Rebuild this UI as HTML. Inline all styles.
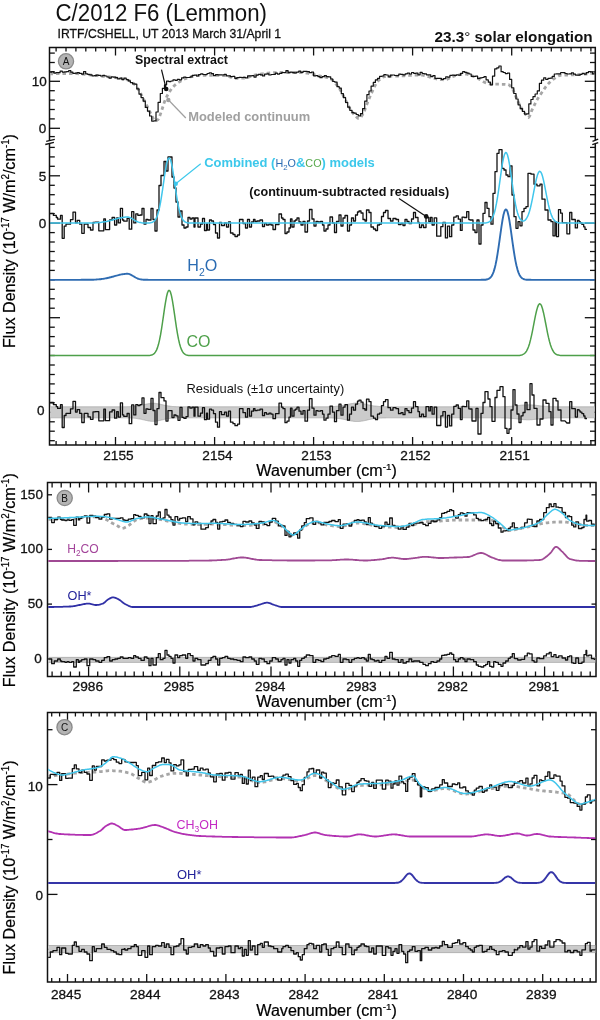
<!DOCTYPE html>
<html><head><meta charset="utf-8"><style>
html,body{margin:0;padding:0;background:#fff;width:600px;height:1020px;overflow:hidden}
svg{display:block;font-family:"Liberation Sans",sans-serif;will-change:transform}
</style></head><body>
<svg width="600" height="1020" viewBox="0 0 600 1020" font-family="Liberation Sans, sans-serif">
<rect width="600" height="1020" fill="#fff"/>
<text x="55.5" y="20.8" font-size="23.3" fill="#111" font-weight="normal" text-anchor="start" textLength="211.5" lengthAdjust="spacingAndGlyphs" >C/2012 F6 (Lemmon)</text>
<text x="57.6" y="37.9" font-size="13.5" fill="#111" font-weight="normal" text-anchor="start" textLength="223.5" lengthAdjust="spacingAndGlyphs"  stroke="#111" stroke-width="0.3">IRTF/CSHELL, UT 2013 March 31/April 1</text>
<text x="434.4" y="41.6" font-size="14.8" fill="#111" font-weight="bold" text-anchor="start" textLength="158.3" lengthAdjust="spacingAndGlyphs" >23.3<tspan font-weight="normal">°</tspan> solar elongation</text>
<rect x="49.5" y="47.5" width="545.8" height="397.5" fill="none" stroke="#111" stroke-width="1.5"/>
<line x1="590.9" y1="445" x2="590.9" y2="441" stroke="#111" stroke-width="1.3"/>
<line x1="590.9" y1="47.5" x2="590.9" y2="51.5" stroke="#111" stroke-width="1.3"/>
<line x1="581" y1="445" x2="581" y2="441" stroke="#111" stroke-width="1.3"/>
<line x1="581" y1="47.5" x2="581" y2="51.5" stroke="#111" stroke-width="1.3"/>
<line x1="571.1" y1="445" x2="571.1" y2="441" stroke="#111" stroke-width="1.3"/>
<line x1="571.1" y1="47.5" x2="571.1" y2="51.5" stroke="#111" stroke-width="1.3"/>
<line x1="561.2" y1="445" x2="561.2" y2="441" stroke="#111" stroke-width="1.3"/>
<line x1="561.2" y1="47.5" x2="561.2" y2="51.5" stroke="#111" stroke-width="1.3"/>
<line x1="551.3" y1="445" x2="551.3" y2="441" stroke="#111" stroke-width="1.3"/>
<line x1="551.3" y1="47.5" x2="551.3" y2="51.5" stroke="#111" stroke-width="1.3"/>
<line x1="541.4" y1="445" x2="541.4" y2="441" stroke="#111" stroke-width="1.3"/>
<line x1="541.4" y1="47.5" x2="541.4" y2="51.5" stroke="#111" stroke-width="1.3"/>
<line x1="531.5" y1="445" x2="531.5" y2="441" stroke="#111" stroke-width="1.3"/>
<line x1="531.5" y1="47.5" x2="531.5" y2="51.5" stroke="#111" stroke-width="1.3"/>
<line x1="521.6" y1="445" x2="521.6" y2="441" stroke="#111" stroke-width="1.3"/>
<line x1="521.6" y1="47.5" x2="521.6" y2="51.5" stroke="#111" stroke-width="1.3"/>
<line x1="511.7" y1="445" x2="511.7" y2="437" stroke="#111" stroke-width="1.3"/>
<line x1="511.7" y1="47.5" x2="511.7" y2="55.5" stroke="#111" stroke-width="1.3"/>
<line x1="501.8" y1="445" x2="501.8" y2="441" stroke="#111" stroke-width="1.3"/>
<line x1="501.8" y1="47.5" x2="501.8" y2="51.5" stroke="#111" stroke-width="1.3"/>
<line x1="491.9" y1="445" x2="491.9" y2="441" stroke="#111" stroke-width="1.3"/>
<line x1="491.9" y1="47.5" x2="491.9" y2="51.5" stroke="#111" stroke-width="1.3"/>
<line x1="482" y1="445" x2="482" y2="441" stroke="#111" stroke-width="1.3"/>
<line x1="482" y1="47.5" x2="482" y2="51.5" stroke="#111" stroke-width="1.3"/>
<line x1="472.1" y1="445" x2="472.1" y2="441" stroke="#111" stroke-width="1.3"/>
<line x1="472.1" y1="47.5" x2="472.1" y2="51.5" stroke="#111" stroke-width="1.3"/>
<line x1="462.2" y1="445" x2="462.2" y2="441" stroke="#111" stroke-width="1.3"/>
<line x1="462.2" y1="47.5" x2="462.2" y2="51.5" stroke="#111" stroke-width="1.3"/>
<line x1="452.3" y1="445" x2="452.3" y2="441" stroke="#111" stroke-width="1.3"/>
<line x1="452.3" y1="47.5" x2="452.3" y2="51.5" stroke="#111" stroke-width="1.3"/>
<line x1="442.4" y1="445" x2="442.4" y2="441" stroke="#111" stroke-width="1.3"/>
<line x1="442.4" y1="47.5" x2="442.4" y2="51.5" stroke="#111" stroke-width="1.3"/>
<line x1="432.5" y1="445" x2="432.5" y2="441" stroke="#111" stroke-width="1.3"/>
<line x1="432.5" y1="47.5" x2="432.5" y2="51.5" stroke="#111" stroke-width="1.3"/>
<line x1="422.6" y1="445" x2="422.6" y2="441" stroke="#111" stroke-width="1.3"/>
<line x1="422.6" y1="47.5" x2="422.6" y2="51.5" stroke="#111" stroke-width="1.3"/>
<line x1="412.6" y1="445" x2="412.6" y2="437" stroke="#111" stroke-width="1.3"/>
<line x1="412.6" y1="47.5" x2="412.6" y2="55.5" stroke="#111" stroke-width="1.3"/>
<line x1="402.7" y1="445" x2="402.7" y2="441" stroke="#111" stroke-width="1.3"/>
<line x1="402.7" y1="47.5" x2="402.7" y2="51.5" stroke="#111" stroke-width="1.3"/>
<line x1="392.8" y1="445" x2="392.8" y2="441" stroke="#111" stroke-width="1.3"/>
<line x1="392.8" y1="47.5" x2="392.8" y2="51.5" stroke="#111" stroke-width="1.3"/>
<line x1="382.9" y1="445" x2="382.9" y2="441" stroke="#111" stroke-width="1.3"/>
<line x1="382.9" y1="47.5" x2="382.9" y2="51.5" stroke="#111" stroke-width="1.3"/>
<line x1="373" y1="445" x2="373" y2="441" stroke="#111" stroke-width="1.3"/>
<line x1="373" y1="47.5" x2="373" y2="51.5" stroke="#111" stroke-width="1.3"/>
<line x1="363.1" y1="445" x2="363.1" y2="441" stroke="#111" stroke-width="1.3"/>
<line x1="363.1" y1="47.5" x2="363.1" y2="51.5" stroke="#111" stroke-width="1.3"/>
<line x1="353.2" y1="445" x2="353.2" y2="441" stroke="#111" stroke-width="1.3"/>
<line x1="353.2" y1="47.5" x2="353.2" y2="51.5" stroke="#111" stroke-width="1.3"/>
<line x1="343.3" y1="445" x2="343.3" y2="441" stroke="#111" stroke-width="1.3"/>
<line x1="343.3" y1="47.5" x2="343.3" y2="51.5" stroke="#111" stroke-width="1.3"/>
<line x1="333.4" y1="445" x2="333.4" y2="441" stroke="#111" stroke-width="1.3"/>
<line x1="333.4" y1="47.5" x2="333.4" y2="51.5" stroke="#111" stroke-width="1.3"/>
<line x1="323.5" y1="445" x2="323.5" y2="441" stroke="#111" stroke-width="1.3"/>
<line x1="323.5" y1="47.5" x2="323.5" y2="51.5" stroke="#111" stroke-width="1.3"/>
<line x1="313.6" y1="445" x2="313.6" y2="437" stroke="#111" stroke-width="1.3"/>
<line x1="313.6" y1="47.5" x2="313.6" y2="55.5" stroke="#111" stroke-width="1.3"/>
<line x1="303.7" y1="445" x2="303.7" y2="441" stroke="#111" stroke-width="1.3"/>
<line x1="303.7" y1="47.5" x2="303.7" y2="51.5" stroke="#111" stroke-width="1.3"/>
<line x1="293.8" y1="445" x2="293.8" y2="441" stroke="#111" stroke-width="1.3"/>
<line x1="293.8" y1="47.5" x2="293.8" y2="51.5" stroke="#111" stroke-width="1.3"/>
<line x1="283.9" y1="445" x2="283.9" y2="441" stroke="#111" stroke-width="1.3"/>
<line x1="283.9" y1="47.5" x2="283.9" y2="51.5" stroke="#111" stroke-width="1.3"/>
<line x1="274" y1="445" x2="274" y2="441" stroke="#111" stroke-width="1.3"/>
<line x1="274" y1="47.5" x2="274" y2="51.5" stroke="#111" stroke-width="1.3"/>
<line x1="264.1" y1="445" x2="264.1" y2="441" stroke="#111" stroke-width="1.3"/>
<line x1="264.1" y1="47.5" x2="264.1" y2="51.5" stroke="#111" stroke-width="1.3"/>
<line x1="254.2" y1="445" x2="254.2" y2="441" stroke="#111" stroke-width="1.3"/>
<line x1="254.2" y1="47.5" x2="254.2" y2="51.5" stroke="#111" stroke-width="1.3"/>
<line x1="244.3" y1="445" x2="244.3" y2="441" stroke="#111" stroke-width="1.3"/>
<line x1="244.3" y1="47.5" x2="244.3" y2="51.5" stroke="#111" stroke-width="1.3"/>
<line x1="234.4" y1="445" x2="234.4" y2="441" stroke="#111" stroke-width="1.3"/>
<line x1="234.4" y1="47.5" x2="234.4" y2="51.5" stroke="#111" stroke-width="1.3"/>
<line x1="224.5" y1="445" x2="224.5" y2="441" stroke="#111" stroke-width="1.3"/>
<line x1="224.5" y1="47.5" x2="224.5" y2="51.5" stroke="#111" stroke-width="1.3"/>
<line x1="214.6" y1="445" x2="214.6" y2="437" stroke="#111" stroke-width="1.3"/>
<line x1="214.6" y1="47.5" x2="214.6" y2="55.5" stroke="#111" stroke-width="1.3"/>
<line x1="204.6" y1="445" x2="204.6" y2="441" stroke="#111" stroke-width="1.3"/>
<line x1="204.6" y1="47.5" x2="204.6" y2="51.5" stroke="#111" stroke-width="1.3"/>
<line x1="194.7" y1="445" x2="194.7" y2="441" stroke="#111" stroke-width="1.3"/>
<line x1="194.7" y1="47.5" x2="194.7" y2="51.5" stroke="#111" stroke-width="1.3"/>
<line x1="184.8" y1="445" x2="184.8" y2="441" stroke="#111" stroke-width="1.3"/>
<line x1="184.8" y1="47.5" x2="184.8" y2="51.5" stroke="#111" stroke-width="1.3"/>
<line x1="174.9" y1="445" x2="174.9" y2="441" stroke="#111" stroke-width="1.3"/>
<line x1="174.9" y1="47.5" x2="174.9" y2="51.5" stroke="#111" stroke-width="1.3"/>
<line x1="165" y1="445" x2="165" y2="441" stroke="#111" stroke-width="1.3"/>
<line x1="165" y1="47.5" x2="165" y2="51.5" stroke="#111" stroke-width="1.3"/>
<line x1="155.1" y1="445" x2="155.1" y2="441" stroke="#111" stroke-width="1.3"/>
<line x1="155.1" y1="47.5" x2="155.1" y2="51.5" stroke="#111" stroke-width="1.3"/>
<line x1="145.2" y1="445" x2="145.2" y2="441" stroke="#111" stroke-width="1.3"/>
<line x1="145.2" y1="47.5" x2="145.2" y2="51.5" stroke="#111" stroke-width="1.3"/>
<line x1="135.3" y1="445" x2="135.3" y2="441" stroke="#111" stroke-width="1.3"/>
<line x1="135.3" y1="47.5" x2="135.3" y2="51.5" stroke="#111" stroke-width="1.3"/>
<line x1="125.4" y1="445" x2="125.4" y2="441" stroke="#111" stroke-width="1.3"/>
<line x1="125.4" y1="47.5" x2="125.4" y2="51.5" stroke="#111" stroke-width="1.3"/>
<line x1="115.5" y1="445" x2="115.5" y2="437" stroke="#111" stroke-width="1.3"/>
<line x1="115.5" y1="47.5" x2="115.5" y2="55.5" stroke="#111" stroke-width="1.3"/>
<line x1="105.6" y1="445" x2="105.6" y2="441" stroke="#111" stroke-width="1.3"/>
<line x1="105.6" y1="47.5" x2="105.6" y2="51.5" stroke="#111" stroke-width="1.3"/>
<line x1="95.7" y1="445" x2="95.7" y2="441" stroke="#111" stroke-width="1.3"/>
<line x1="95.7" y1="47.5" x2="95.7" y2="51.5" stroke="#111" stroke-width="1.3"/>
<line x1="85.8" y1="445" x2="85.8" y2="441" stroke="#111" stroke-width="1.3"/>
<line x1="85.8" y1="47.5" x2="85.8" y2="51.5" stroke="#111" stroke-width="1.3"/>
<line x1="75.9" y1="445" x2="75.9" y2="441" stroke="#111" stroke-width="1.3"/>
<line x1="75.9" y1="47.5" x2="75.9" y2="51.5" stroke="#111" stroke-width="1.3"/>
<line x1="66" y1="445" x2="66" y2="441" stroke="#111" stroke-width="1.3"/>
<line x1="66" y1="47.5" x2="66" y2="51.5" stroke="#111" stroke-width="1.3"/>
<line x1="56.1" y1="445" x2="56.1" y2="441" stroke="#111" stroke-width="1.3"/>
<line x1="56.1" y1="47.5" x2="56.1" y2="51.5" stroke="#111" stroke-width="1.3"/>
<text x="118.4" y="460.1" font-size="13.5" fill="#111" font-weight="normal" text-anchor="middle" textLength="30.4" lengthAdjust="spacingAndGlyphs"  stroke="#111" stroke-width="0.3">2155</text>
<text x="217.5" y="460.1" font-size="13.5" fill="#111" font-weight="normal" text-anchor="middle" textLength="30.4" lengthAdjust="spacingAndGlyphs"  stroke="#111" stroke-width="0.3">2154</text>
<text x="316.5" y="460.1" font-size="13.5" fill="#111" font-weight="normal" text-anchor="middle" textLength="30.4" lengthAdjust="spacingAndGlyphs"  stroke="#111" stroke-width="0.3">2153</text>
<text x="415.5" y="460.1" font-size="13.5" fill="#111" font-weight="normal" text-anchor="middle" textLength="30.4" lengthAdjust="spacingAndGlyphs"  stroke="#111" stroke-width="0.3">2152</text>
<text x="514.6" y="460.1" font-size="13.5" fill="#111" font-weight="normal" text-anchor="middle" textLength="30.4" lengthAdjust="spacingAndGlyphs"  stroke="#111" stroke-width="0.3">2151</text>
<text x="256.3" y="475.8" font-size="15.6" fill="#000" stroke="#000" stroke-width="0.2" textLength="140.5" lengthAdjust="spacingAndGlyphs">Wavenumber (cm<tspan dy="-6" font-size="9.5">-1</tspan><tspan dy="6">)</tspan></text>
<text transform="translate(15,348) rotate(-90)" font-size="16.5" fill="#000" stroke="#000" stroke-width="0.2" textLength="214" lengthAdjust="spacingAndGlyphs">Flux Density (10<tspan dy="-6" font-size="10">-17</tspan><tspan dy="6"> W/m</tspan><tspan dy="-6" font-size="10">2</tspan><tspan dy="6">/cm</tspan><tspan dy="-6" font-size="10">-1</tspan><tspan dy="6">)</tspan></text>
<line x1="49.5" y1="136.6" x2="54.8" y2="136.6" stroke="#111" stroke-width="1.3"/>
<line x1="595.3" y1="136.6" x2="590" y2="136.6" stroke="#111" stroke-width="1.3"/>
<line x1="49.5" y1="128.3" x2="60" y2="128.3" stroke="#111" stroke-width="1.3"/>
<line x1="595.3" y1="128.3" x2="584.8" y2="128.3" stroke="#111" stroke-width="1.3"/>
<line x1="49.5" y1="118.9" x2="54.8" y2="118.9" stroke="#111" stroke-width="1.3"/>
<line x1="595.3" y1="118.9" x2="590" y2="118.9" stroke="#111" stroke-width="1.3"/>
<line x1="49.5" y1="109.5" x2="54.8" y2="109.5" stroke="#111" stroke-width="1.3"/>
<line x1="595.3" y1="109.5" x2="590" y2="109.5" stroke="#111" stroke-width="1.3"/>
<line x1="49.5" y1="100.1" x2="54.8" y2="100.1" stroke="#111" stroke-width="1.3"/>
<line x1="595.3" y1="100.1" x2="590" y2="100.1" stroke="#111" stroke-width="1.3"/>
<line x1="49.5" y1="90.7" x2="54.8" y2="90.7" stroke="#111" stroke-width="1.3"/>
<line x1="595.3" y1="90.7" x2="590" y2="90.7" stroke="#111" stroke-width="1.3"/>
<line x1="49.5" y1="81.3" x2="60" y2="81.3" stroke="#111" stroke-width="1.3"/>
<line x1="595.3" y1="81.3" x2="584.8" y2="81.3" stroke="#111" stroke-width="1.3"/>
<line x1="49.5" y1="71.9" x2="54.8" y2="71.9" stroke="#111" stroke-width="1.3"/>
<line x1="595.3" y1="71.9" x2="590" y2="71.9" stroke="#111" stroke-width="1.3"/>
<line x1="49.5" y1="62.5" x2="54.8" y2="62.5" stroke="#111" stroke-width="1.3"/>
<line x1="595.3" y1="62.5" x2="590" y2="62.5" stroke="#111" stroke-width="1.3"/>
<line x1="49.5" y1="53.1" x2="54.8" y2="53.1" stroke="#111" stroke-width="1.3"/>
<line x1="595.3" y1="53.1" x2="590" y2="53.1" stroke="#111" stroke-width="1.3"/>
<line x1="49.5" y1="440.7" x2="54.8" y2="440.7" stroke="#111" stroke-width="1.3"/>
<line x1="595.3" y1="440.7" x2="590" y2="440.7" stroke="#111" stroke-width="1.3"/>
<line x1="49.5" y1="431.2" x2="54.8" y2="431.2" stroke="#111" stroke-width="1.3"/>
<line x1="595.3" y1="431.2" x2="590" y2="431.2" stroke="#111" stroke-width="1.3"/>
<line x1="49.5" y1="421.8" x2="54.8" y2="421.8" stroke="#111" stroke-width="1.3"/>
<line x1="595.3" y1="421.8" x2="590" y2="421.8" stroke="#111" stroke-width="1.3"/>
<line x1="49.5" y1="412.3" x2="60" y2="412.3" stroke="#111" stroke-width="1.3"/>
<line x1="595.3" y1="412.3" x2="584.8" y2="412.3" stroke="#111" stroke-width="1.3"/>
<line x1="49.5" y1="402.8" x2="54.8" y2="402.8" stroke="#111" stroke-width="1.3"/>
<line x1="595.3" y1="402.8" x2="590" y2="402.8" stroke="#111" stroke-width="1.3"/>
<line x1="49.5" y1="393.4" x2="54.8" y2="393.4" stroke="#111" stroke-width="1.3"/>
<line x1="595.3" y1="393.4" x2="590" y2="393.4" stroke="#111" stroke-width="1.3"/>
<line x1="49.5" y1="383.9" x2="54.8" y2="383.9" stroke="#111" stroke-width="1.3"/>
<line x1="595.3" y1="383.9" x2="590" y2="383.9" stroke="#111" stroke-width="1.3"/>
<line x1="49.5" y1="374.5" x2="54.8" y2="374.5" stroke="#111" stroke-width="1.3"/>
<line x1="595.3" y1="374.5" x2="590" y2="374.5" stroke="#111" stroke-width="1.3"/>
<line x1="49.5" y1="365" x2="54.8" y2="365" stroke="#111" stroke-width="1.3"/>
<line x1="595.3" y1="365" x2="590" y2="365" stroke="#111" stroke-width="1.3"/>
<line x1="49.5" y1="355.5" x2="54.8" y2="355.5" stroke="#111" stroke-width="1.3"/>
<line x1="595.3" y1="355.5" x2="590" y2="355.5" stroke="#111" stroke-width="1.3"/>
<line x1="49.5" y1="346.1" x2="54.8" y2="346.1" stroke="#111" stroke-width="1.3"/>
<line x1="595.3" y1="346.1" x2="590" y2="346.1" stroke="#111" stroke-width="1.3"/>
<line x1="49.5" y1="336.6" x2="54.8" y2="336.6" stroke="#111" stroke-width="1.3"/>
<line x1="595.3" y1="336.6" x2="590" y2="336.6" stroke="#111" stroke-width="1.3"/>
<line x1="49.5" y1="327.2" x2="54.8" y2="327.2" stroke="#111" stroke-width="1.3"/>
<line x1="595.3" y1="327.2" x2="590" y2="327.2" stroke="#111" stroke-width="1.3"/>
<line x1="49.5" y1="317.7" x2="60" y2="317.7" stroke="#111" stroke-width="1.3"/>
<line x1="595.3" y1="317.7" x2="584.8" y2="317.7" stroke="#111" stroke-width="1.3"/>
<line x1="49.5" y1="308.2" x2="54.8" y2="308.2" stroke="#111" stroke-width="1.3"/>
<line x1="595.3" y1="308.2" x2="590" y2="308.2" stroke="#111" stroke-width="1.3"/>
<line x1="49.5" y1="298.8" x2="54.8" y2="298.8" stroke="#111" stroke-width="1.3"/>
<line x1="595.3" y1="298.8" x2="590" y2="298.8" stroke="#111" stroke-width="1.3"/>
<line x1="49.5" y1="289.3" x2="54.8" y2="289.3" stroke="#111" stroke-width="1.3"/>
<line x1="595.3" y1="289.3" x2="590" y2="289.3" stroke="#111" stroke-width="1.3"/>
<line x1="49.5" y1="279.9" x2="54.8" y2="279.9" stroke="#111" stroke-width="1.3"/>
<line x1="595.3" y1="279.9" x2="590" y2="279.9" stroke="#111" stroke-width="1.3"/>
<line x1="49.5" y1="270.4" x2="54.8" y2="270.4" stroke="#111" stroke-width="1.3"/>
<line x1="595.3" y1="270.4" x2="590" y2="270.4" stroke="#111" stroke-width="1.3"/>
<line x1="49.5" y1="260.9" x2="54.8" y2="260.9" stroke="#111" stroke-width="1.3"/>
<line x1="595.3" y1="260.9" x2="590" y2="260.9" stroke="#111" stroke-width="1.3"/>
<line x1="49.5" y1="251.5" x2="54.8" y2="251.5" stroke="#111" stroke-width="1.3"/>
<line x1="595.3" y1="251.5" x2="590" y2="251.5" stroke="#111" stroke-width="1.3"/>
<line x1="49.5" y1="242" x2="54.8" y2="242" stroke="#111" stroke-width="1.3"/>
<line x1="595.3" y1="242" x2="590" y2="242" stroke="#111" stroke-width="1.3"/>
<line x1="49.5" y1="232.6" x2="54.8" y2="232.6" stroke="#111" stroke-width="1.3"/>
<line x1="595.3" y1="232.6" x2="590" y2="232.6" stroke="#111" stroke-width="1.3"/>
<line x1="49.5" y1="223.1" x2="60" y2="223.1" stroke="#111" stroke-width="1.3"/>
<line x1="595.3" y1="223.1" x2="584.8" y2="223.1" stroke="#111" stroke-width="1.3"/>
<line x1="49.5" y1="213.6" x2="54.8" y2="213.6" stroke="#111" stroke-width="1.3"/>
<line x1="595.3" y1="213.6" x2="590" y2="213.6" stroke="#111" stroke-width="1.3"/>
<line x1="49.5" y1="204.2" x2="54.8" y2="204.2" stroke="#111" stroke-width="1.3"/>
<line x1="595.3" y1="204.2" x2="590" y2="204.2" stroke="#111" stroke-width="1.3"/>
<line x1="49.5" y1="194.7" x2="54.8" y2="194.7" stroke="#111" stroke-width="1.3"/>
<line x1="595.3" y1="194.7" x2="590" y2="194.7" stroke="#111" stroke-width="1.3"/>
<line x1="49.5" y1="185.3" x2="54.8" y2="185.3" stroke="#111" stroke-width="1.3"/>
<line x1="595.3" y1="185.3" x2="590" y2="185.3" stroke="#111" stroke-width="1.3"/>
<line x1="49.5" y1="175.8" x2="60" y2="175.8" stroke="#111" stroke-width="1.3"/>
<line x1="595.3" y1="175.8" x2="584.8" y2="175.8" stroke="#111" stroke-width="1.3"/>
<line x1="49.5" y1="166.3" x2="54.8" y2="166.3" stroke="#111" stroke-width="1.3"/>
<line x1="595.3" y1="166.3" x2="590" y2="166.3" stroke="#111" stroke-width="1.3"/>
<line x1="49.5" y1="156.9" x2="54.8" y2="156.9" stroke="#111" stroke-width="1.3"/>
<line x1="595.3" y1="156.9" x2="590" y2="156.9" stroke="#111" stroke-width="1.3"/>
<line x1="49.5" y1="147.4" x2="54.8" y2="147.4" stroke="#111" stroke-width="1.3"/>
<line x1="595.3" y1="147.4" x2="590" y2="147.4" stroke="#111" stroke-width="1.3"/>
<text x="46.8" y="86" font-size="13.5" fill="#111" font-weight="normal" text-anchor="end"  stroke="#111" stroke-width="0.3">10</text>
<text x="46.3" y="133" font-size="13.5" fill="#111" font-weight="normal" text-anchor="end"  stroke="#111" stroke-width="0.3">0</text>
<text x="46.2" y="180.5" font-size="13.5" fill="#111" font-weight="normal" text-anchor="end"  stroke="#111" stroke-width="0.3">5</text>
<text x="46.2" y="227.8" font-size="13.5" fill="#111" font-weight="normal" text-anchor="end"  stroke="#111" stroke-width="0.3">0</text>
<text x="44.6" y="415.3" font-size="13.5" fill="#111" font-weight="normal" text-anchor="end"  stroke="#111" stroke-width="0.3">0</text>
<polygon points="46.2,141.3 54.8,139.3 53.9,142.4 45.3,144.5" fill="#fff"/>
<line x1="46.2" y1="141.3" x2="54.8" y2="139.3" stroke="#111" stroke-width="1.3"/>
<line x1="45.3" y1="144.5" x2="53.9" y2="142.4" stroke="#111" stroke-width="1.3"/>
<polygon points="592.5,141.3 598.2,139.2 598.2,142.6 592.3,144.7" fill="#fff"/>
<line x1="592.5" y1="141.3" x2="598.2" y2="139.2" stroke="#111" stroke-width="1.3"/>
<line x1="592.3" y1="144.7" x2="598.2" y2="142.6" stroke="#111" stroke-width="1.3"/>
<circle cx="66" cy="61.3" r="7.6" fill="#b4b4b4" stroke="#8a8a8a" stroke-width="1.3"/>
<text x="66" y="64.9" font-size="10" fill="#111" font-weight="normal" text-anchor="middle" >A</text>
<g clip-path="url(#clipA)">
<polyline points="49.5,74 50.5,73.9 51.5,73.9 52.5,73.8 53.5,73.8 54.5,73.7 55.5,73.7 56.5,73.7 57.5,73.6 58.5,73.6 59.5,73.6 60.5,73.6 61.5,73.5 62.5,73.5 63.5,73.5 64.5,73.5 65.5,73.5 66.5,73.5 67.5,73.5 68.5,73.5 69.5,73.5 70.5,73.5 71.5,73.5 72.5,73.5 73.5,73.6 74.5,73.6 75.5,73.6 76.5,73.7 77.5,73.7 78.5,73.8 79.5,73.9 80.5,74 81.5,74 82.5,74.1 83.5,74.2 84.5,74.3 85.5,74.4 86.5,74.5 87.5,74.6 88.5,74.7 89.5,74.8 90.5,75 91.5,75.1 92.5,75.2 93.5,75.3 94.5,75.4 95.5,75.5 96.5,75.6 97.5,75.7 98.5,75.8 99.5,75.9 100.5,76.1 101.5,76.2 102.5,76.3 103.5,76.4 104.5,76.4 105.5,76.5 106.5,76.6 107.5,76.7 108.5,76.9 109.5,77 110.5,77.1 111.5,77.2 112.5,77.3 113.5,77.4 114.5,77.5 115.5,77.7 116.5,77.8 117.5,78 118.5,78.1 119.5,78.3 120.5,78.4 121.5,78.6 122.5,78.8 123.5,79 124.5,79.2 125.5,79.4 126.5,79.7 127.5,80 128.5,80.3 129.5,80.7 130.5,81.2 131.5,81.7 132.5,82.3 133.5,83.2 134.5,84.3 135.5,85.5 136.5,86.9 137.5,88.3 138.5,89.7 139.5,91.4 140.5,93.2 141.5,95.1 142.5,97 143.5,99 144.5,100.9 145.5,102.9 146.5,105 147.5,107 148.5,109 149.5,111.1 150.5,113.1 151.5,115.1 152.5,117 153.5,119.2 154.5,120.8 155.5,120.9 156.5,120.6 157.5,119.9 158.5,118.9 159.5,116.7 160.5,113.9 161.5,111.1 162.5,108 163.5,104.8 164.5,101.8 165.5,99.4 166.5,97.2 167.5,95.2 168.5,93.4 169.5,91.8 170.5,90.3 171.5,88.9 172.5,87.6 173.5,86.5 174.5,85.5 175.5,84.6 176.5,83.8 177.5,83 178.5,82.4 179.5,81.8 180.5,81.2 181.5,80.7 182.5,80.1 183.5,79.6 184.5,79.1 185.5,78.6 186.5,78.2 187.5,77.8 188.5,77.4 189.5,77.1 190.5,76.9 191.5,76.6 192.5,76.4 193.5,76.2 194.5,75.9 195.5,75.7 196.5,75.6 197.5,75.4 198.5,75.4 199.5,75.3 200.5,75.3 201.5,75.3 202.5,75.3 203.5,75.3 204.5,75.3 205.5,75.3 206.5,75.3 207.5,75.3 208.5,75.3 209.5,75.3 210.5,75.3 211.5,75.3 212.5,75.3 213.5,75.4 214.5,75.4 215.5,75.4 216.5,75.4 217.5,75.4 218.5,75.4 219.5,75.4 220.5,75.4 221.5,75.4 222.5,75.5 223.5,75.5 224.5,75.5 225.5,75.5 226.5,75.7 227.5,76 228.5,76.3 229.5,76.7 230.5,77.1 231.5,77.5 232.5,77.9 233.5,78.1 234.5,78.3 235.5,78.3 236.5,78.3 237.5,78.3 238.5,78.3 239.5,78.2 240.5,78.2 241.5,78.2 242.5,78.1 243.5,78.1 244.5,78 245.5,78 246.5,77.8 247.5,77.5 248.5,77.2 249.5,76.8 250.5,76.4 251.5,76 252.5,75.7 253.5,75.3 254.5,75.1 255.5,74.9 256.5,74.8 257.5,74.6 258.5,74.4 259.5,74.3 260.5,74.1 261.5,74 262.5,73.9 263.5,73.7 264.5,73.6 265.5,73.5 266.5,73.4 267.5,73.2 268.5,73.1 269.5,73 270.5,72.9 271.5,72.9 272.5,72.8 273.5,72.7 274.5,72.7 275.5,72.6 276.5,72.6 277.5,72.5 278.5,72.5 279.5,72.5 280.5,72.5 281.5,72.5 282.5,72.5 283.5,72.5 284.5,72.5 285.5,72.5 286.5,72.5 287.5,72.5 288.5,72.5 289.5,72.5 290.5,72.5 291.5,72.5 292.5,72.5 293.5,72.5 294.5,72.5 295.5,72.5 296.5,72.5 297.5,72.5 298.5,72.5 299.5,72.5 300.5,72.5 301.5,72.5 302.5,72.6 303.5,72.7 304.5,72.8 305.5,72.9 306.5,73.1 307.5,73.2 308.5,73.4 309.5,73.6 310.5,73.8 311.5,74.1 312.5,74.3 313.5,74.5 314.5,74.7 315.5,75 316.5,75.2 317.5,75.4 318.5,75.7 319.5,75.9 320.5,76.1 321.5,76.3 322.5,76.5 323.5,76.7 324.5,76.9 325.5,77.1 326.5,77.3 327.5,77.6 328.5,77.9 329.5,78.3 330.5,78.7 331.5,79.4 332.5,80.3 333.5,81.4 334.5,82.5 335.5,83.5 336.5,84.7 337.5,85.9 338.5,87.3 339.5,88.7 340.5,90.3 341.5,92.1 342.5,94 343.5,96 344.5,98 345.5,100 346.5,101.9 347.5,103.9 348.5,105.9 349.5,107.7 350.5,109.3 351.5,110.9 352.5,112.4 353.5,113.8 354.5,115 355.5,116 356.5,117 357.5,117.9 358.5,118.4 359.5,118.4 360.5,117.6 361.5,116.3 362.5,114.8 363.5,113.1 364.5,110.8 365.5,108.1 366.5,105.3 367.5,102.8 368.5,100.3 369.5,97.8 370.5,95.4 371.5,93.1 372.5,90.9 373.5,88.8 374.5,86.7 375.5,84.7 376.5,82.9 377.5,81.5 378.5,80.5 379.5,79.6 380.5,78.7 381.5,78 382.5,77.3 383.5,76.9 384.5,76.6 385.5,76.5 386.5,76.4 387.5,76.4 388.5,76.3 389.5,76.3 390.5,76.2 391.5,76.2 392.5,76.2 393.5,76.2 394.5,76.1 395.5,76.1 396.5,76.1 397.5,76.1 398.5,76.1 399.5,76 400.5,76 401.5,75.9 402.5,75.9 403.5,75.8 404.5,75.8 405.5,75.7 406.5,75.6 407.5,75.6 408.5,75.5 409.5,75.4 410.5,75.4 411.5,75.3 412.5,75.2 413.5,75.2 414.5,75.1 415.5,75.1 416.5,75.1 417.5,75 418.5,75 419.5,75 420.5,75 421.5,75.1 422.5,75.2 423.5,75.4 424.5,75.6 425.5,75.8 426.5,76.1 427.5,76.4 428.5,76.7 429.5,77 430.5,77.4 431.5,77.7 432.5,78 433.5,78.3 434.5,78.5 435.5,78.7 436.5,78.9 437.5,79.1 438.5,79.2 439.5,79.3 440.5,79.5 441.5,79.6 442.5,79.7 443.5,79.8 444.5,79.8 445.5,79.8 446.5,79.5 447.5,79.1 448.5,78.6 449.5,78 450.5,77.4 451.5,77 452.5,76.7 453.5,76.3 454.5,76 455.5,75.7 456.5,75.5 457.5,75.2 458.5,74.9 459.5,74.7 460.5,74.5 461.5,74.3 462.5,74.2 463.5,74.1 464.5,74 465.5,74 466.5,74.1 467.5,74.3 468.5,74.6 469.5,74.9 470.5,75.2 471.5,75.6 472.5,76 473.5,76.4 474.5,76.8 475.5,77.2 476.5,77.6 477.5,78.1 478.5,78.7 479.5,79.3 480.5,79.9 481.5,80.5 482.5,81.1 483.5,81.7 484.5,82.2 485.5,82.7 486.5,83.1 487.5,83.5 488.5,83.8 489.5,84 490.5,84 491.5,84.1 492.5,84.1 493.5,84.1 494.5,84.2 495.5,84.2 496.5,84.2 497.5,84.2 498.5,84.2 499.5,84.2 500.5,84.2 501.5,84.3 502.5,84.3 503.5,84.3 504.5,84.3 505.5,84.4 506.5,84.4 507.5,84.5 508.5,84.6 509.5,85.2 510.5,86.2 511.5,87.4 512.5,88.8 513.5,91 514.5,93.5 515.5,95.8 516.5,98.1 517.5,100.3 518.5,102.5 519.5,104.6 520.5,106.4 521.5,108.2 522.5,109.8 523.5,111.4 524.5,112.8 525.5,114.2 526.5,115.7 527.5,117 528.5,117.5 529.5,116.4 530.5,114 531.5,111.2 532.5,109 533.5,106.9 534.5,104.8 535.5,102.8 536.5,100.9 537.5,99.1 538.5,97.5 539.5,96 540.5,94.5 541.5,93 542.5,91.6 543.5,90.1 544.5,88.6 545.5,87.2 546.5,85.9 547.5,84.7 548.5,83.6 549.5,82.6 550.5,81.6 551.5,80.7 552.5,79.9 553.5,79.1 554.5,78.4 555.5,77.6 556.5,77 557.5,76.4 558.5,75.9 559.5,75.6 560.5,75.4 561.5,75.4 562.5,75.3 563.5,75.2 564.5,75.1 565.5,75.1 566.5,75 567.5,75 568.5,75 569.5,74.9 570.5,74.9 571.5,74.9 572.5,74.8 573.5,74.8 574.5,74.8 575.5,74.7 576.5,74.7 577.5,74.6 578.5,74.6 579.5,74.5 580.5,74.5 581.5,74.4 582.5,74.3 583.5,74.2 584.5,74.1 585.5,74 586.5,74 587.5,73.9 588.5,73.7 589.5,73.6 590.5,73.5 591.5,73.4 592.5,73.3 593.5,73.2 594.5,73.1 595.5,72.9" fill="none" stroke="#a6a6a6" stroke-width="2.8" stroke-linejoin="round" stroke-dasharray="3.5,3"/>
<polyline points="49.5,72.2 51.6,72.2 51.6,71.6 53.8,71.6 53.8,73.1 55.9,73.1 55.9,72.5 58,72.5 58,72.7 60.1,72.7 60.1,71.2 62.3,71.2 62.3,72.1 64.4,72.1 64.4,71.9 66.5,71.9 66.5,71.7 68.7,71.7 68.7,70.6 70.8,70.6 70.8,72.2 72.9,72.2 72.9,73.4 75.1,73.4 75.1,73.2 77.2,73.2 77.2,72.6 79.3,72.6 79.3,73.3 81.5,73.3 81.5,74.1 83.6,74.1 83.6,71.6 85.7,71.6 85.7,73.8 87.8,73.8 87.8,74.5 90,74.5 90,74.8 92.1,74.8 92.1,75.8 94.2,75.8 94.2,75.6 96.4,75.6 96.4,75.2 98.5,75.2 98.5,75.4 100.6,75.4 100.6,76 102.8,76 102.8,75.3 104.9,75.3 104.9,76 107,76 107,77 109.1,77 109.1,78.1 111.3,78.1 111.3,76.8 113.4,76.8 113.4,77.2 115.5,77.2 115.5,77.7 117.7,77.7 117.7,78.9 119.8,78.9 119.8,78.1 121.9,78.1 121.9,79.6 124,79.6 124,78.1 126.2,78.1 126.2,79.7 128.3,79.7 128.3,80.8 130.4,80.8 130.4,82.6 132.6,82.6 132.6,83.9 134.7,83.9 134.7,84.1 136.8,84.1 136.8,88.9 139,88.9 139,94.1 141.1,94.1 141.1,97.6 143.2,97.6 143.2,101.2 145.3,101.2 145.3,107.4 147.5,107.4 147.5,111.2 149.6,111.2 149.6,116 151.7,116 151.7,121.1 153.9,121.1 153.9,120.8 156,120.8 156,112 158.1,112 158.1,102.3 160.3,102.3 160.3,93.5 162.4,93.5 162.4,88.4 164.5,88.4 164.5,84.8 166.6,84.8 166.6,81.1 168.8,81.1 168.8,81.6 170.9,81.6 170.9,81 173,81 173,79.9 175.2,79.9 175.2,80.3 177.3,80.3 177.3,79.4 179.4,79.4 179.4,79.8 181.6,79.8 181.6,77.8 183.7,77.8 183.7,77.1 185.8,77.1 185.8,77.5 187.9,77.5 187.9,77.5 190.1,77.5 190.1,76.9 192.2,76.9 192.2,75.3 194.3,75.3 194.3,75.2 196.5,75.2 196.5,76 198.6,76 198.6,74.6 200.7,74.6 200.7,73.8 202.9,73.8 202.9,74.5 205,74.5 205,74.6 207.1,74.6 207.1,73.5 209.2,73.5 209.2,72.8 211.4,72.8 211.4,73.6 213.5,73.6 213.5,75.7 215.6,75.7 215.6,74.6 217.8,74.6 217.8,74.8 219.9,74.8 219.9,74.9 222,74.9 222,75 224.2,75 224.2,74.3 226.3,74.3 226.3,75.9 228.4,75.9 228.4,75.8 230.5,75.8 230.5,76.6 232.7,76.6 232.7,76.4 234.8,76.4 234.8,78.3 236.9,78.3 236.9,77.7 239.1,77.7 239.1,77.4 241.2,77.4 241.2,77.5 243.3,77.5 243.3,77.4 245.5,77.4 245.5,77.9 247.6,77.9 247.6,75.9 249.7,75.9 249.7,75.9 251.8,75.9 251.8,75.7 254,75.7 254,77.1 256.1,77.1 256.1,75.2 258.2,75.2 258.2,74.4 260.4,74.4 260.4,74.9 262.5,74.9 262.5,75.9 264.6,75.9 264.6,74.1 266.8,74.1 266.8,73.9 268.9,73.9 268.9,75 271,75 271,74.5 273.1,74.5 273.1,74.5 275.3,74.5 275.3,73.1 277.4,73.1 277.4,74.1 279.5,74.1 279.5,73.3 281.7,73.3 281.7,72.5 283.8,72.5 283.8,72.6 285.9,72.6 285.9,70.7 288.1,70.7 288.1,72.7 290.2,72.7 290.2,72.1 292.3,72.1 292.3,72.7 294.4,72.7 294.4,72.9 296.6,72.9 296.6,72.2 298.7,72.2 298.7,71.2 300.8,71.2 300.8,72.5 303,72.5 303,71.4 305.1,71.4 305.1,71.4 307.2,71.4 307.2,71.6 309.4,71.6 309.4,72.7 311.5,72.7 311.5,72.2 313.6,72.2 313.6,75.8 315.8,75.8 315.8,75.6 317.9,75.6 317.9,76.6 320,76.6 320,77.7 322.1,77.7 322.1,76.7 324.3,76.7 324.3,75.7 326.4,75.7 326.4,76.7 328.5,76.7 328.5,76.8 330.7,76.8 330.7,79 332.8,79 332.8,81.5 334.9,81.5 334.9,82.2 337.1,82.2 337.1,86.7 339.2,86.7 339.2,88.1 341.3,88.1 341.3,93.7 343.4,93.7 343.4,97.7 345.6,97.7 345.6,102.5 347.7,102.5 347.7,107.2 349.8,107.2 349.8,110.3 352,110.3 352,112.7 354.1,112.7 354.1,113.2 356.2,113.2 356.2,114.5 358.3,114.5 358.3,115.9 360.5,115.9 360.5,113.7 362.6,113.7 362.6,108.7 364.7,108.7 364.7,101.2 366.9,101.2 366.9,94.7 369,94.7 369,91 371.1,91 371.1,86.1 373.3,86.1 373.3,82.4 375.4,82.4 375.4,79.8 377.5,79.8 377.5,78.3 379.6,78.3 379.6,76.4 381.8,76.4 381.8,76 383.9,76 383.9,74.5 386,74.5 386,75 388.2,75 388.2,76.9 390.3,76.9 390.3,75.1 392.4,75.1 392.4,75 394.6,75 394.6,75.5 396.7,75.5 396.7,75.6 398.8,75.6 398.8,74.2 400.9,74.2 400.9,74.4 403.1,74.4 403.1,74.8 405.2,74.8 405.2,73.8 407.3,73.8 407.3,73.2 409.5,73.2 409.5,74 411.6,74 411.6,72.5 413.7,72.5 413.7,73.3 415.9,73.3 415.9,73.1 418,73.1 418,74.8 420.1,74.8 420.1,72.4 422.2,72.4 422.2,73.5 424.4,73.5 424.4,73.8 426.5,73.8 426.5,74.8 428.6,74.8 428.6,74.9 430.8,74.9 430.8,76.6 432.9,76.6 432.9,75.6 435,75.6 435,78.5 437.2,78.5 437.2,78.4 439.3,78.4 439.3,78.3 441.4,78.3 441.4,79.5 443.5,79.5 443.5,78.6 445.7,78.6 445.7,76.9 447.8,76.9 447.8,77.2 449.9,77.2 449.9,75.3 452.1,75.3 452.1,75.2 454.2,75.2 454.2,75.4 456.3,75.4 456.3,74.8 458.5,74.8 458.5,75.2 460.6,75.2 460.6,73.3 462.7,73.3 462.7,71.7 464.8,71.7 464.8,72.4 467,72.4 467,73.2 469.1,73.2 469.1,74 471.2,74 471.2,76.3 473.4,76.3 473.4,76.5 475.5,76.5 475.5,76.1 477.6,76.1 477.6,78.5 479.8,78.5 479.8,77.9 481.9,77.9 481.9,77.5 484,77.5 484,76.7 486.1,76.7 486.1,79.9 488.3,79.9 488.3,82.2 490.4,82.2 490.4,84.8 492.5,84.8 492.5,76.1 494.7,76.1 494.7,68.9 496.8,68.9 496.8,67.8 498.9,67.8 498.9,66 501.1,66 501.1,71.7 503.2,71.7 503.2,72.5 505.3,72.5 505.3,73.6 507.4,73.6 507.4,73.2 509.6,73.2 509.6,79.4 511.7,79.4 511.7,87.8 513.8,87.8 513.8,93.5 516,93.5 516,99 518.1,99 518.1,104.8 520.2,104.8 520.2,108.7 522.4,108.7 522.4,111.4 524.5,111.4 524.5,114.1 526.6,114.1 526.6,113.9 528.8,113.9 528.8,103.9 530.9,103.9 530.9,99.5 533,99.5 533,96.7 535.1,96.7 535.1,94 537.3,94 537.3,90.9 539.4,90.9 539.4,83.4 541.5,83.4 541.5,80.2 543.7,80.2 543.7,77.8 545.8,77.8 545.8,79.5 547.9,79.5 547.9,78.4 550,78.4 550,78.1 552.2,78.1 552.2,76.4 554.3,76.4 554.3,74 556.4,74 556.4,73.8 558.6,73.8 558.6,73.9 560.7,73.9 560.7,72.5 562.8,72.5 562.8,72.7 565,72.7 565,73.5 567.1,73.5 567.1,74 569.2,74 569.2,73.9 571.4,73.9 571.4,72.9 573.5,72.9 573.5,74.1 575.6,74.1 575.6,75.2 577.7,75.2 577.7,75.1 579.9,75.1 579.9,74.5 582,74.5 582,73.4 584.1,73.4 584.1,74.1 586.3,74.1 586.3,72.7 588.4,72.7 588.4,71.7 590.5,71.7 590.5,72 592.6,72 592.6,73.9 594.8,73.9 594.8,73.2 595.3,73.2" fill="none" stroke="#111" stroke-width="1.2" stroke-linejoin="round" stroke-linejoin="miter"/>
<polyline points="49.5,213.3 53.4,213.3 53.4,215.4 56.3,215.4 56.3,217.5 57.6,217.5 57.6,219.2 60.5,219.2 60.5,215.4 62.2,215.4 62.2,238.3 64.2,238.3 64.2,226.2 66,226.2 66,224.2 70.5,224.2 70.5,219.6 73,219.6 73,212.1 75.5,212.1 75.5,222.9 77.2,222.9 77.2,220.4 79.7,220.4 79.7,224.2 81.8,224.2 81.8,233.3 84.2,233.3 84.2,224.2 88,224.2 88,227.5 90.5,227.5 90.5,230 93,230 93,222.5 95,222.5 95,222.1 98.8,222.1 98.8,230.8 103.8,230.8 103.8,218.8 105.4,218.8 105.4,229.6 109.6,229.6 109.6,220 112.1,220 112.1,217.5 114.6,217.5 114.6,225 116.7,225 116.7,217.9 118.3,217.9 118.3,222.9 120.4,222.9 120.4,208.3 122.5,208.3 122.5,220 123.8,220 123.8,221.2 127.1,221.2 127.1,218.3 129.2,218.3 129.2,229.2 131.7,229.2 131.7,211.7 133.8,211.7 133.8,222.9 135.8,222.9 135.8,213.8 137.9,213.8 137.9,215.4 140,215.4 140,215 142,215 142,208.5 144,208.5 144,224 146,224 146,219.5 148,219.5 148,220 151,220 151,208.5 153,208.5 153,219.5 155,219.5 155,231 157,231 157,210 159,210 159,185.5 161,185.5 161,175.5 164,175.5 164,161.5 166,161.5 166,171 168,171 168,157 172,157 172,177 174,177 174,188 176,188 176,202 178,202 178,217 180,217 180,211 182,211 182,225 184,225 184,228 186,228 186,227 188,227 188,217.5 190,217.5 190,219 192,219 192,218 194,218 194,227 195,227 195,218 198,218 198,227 200.5,227 200.5,224 202.5,224 202.5,218.5 204.5,218.5 204.5,230.5 206.5,230.5 206.5,224 207.5,224 207.5,230 209.5,230 209.5,220 211.5,220 211.5,221 213.5,221 213.5,224.5 215.5,224.5 215.5,233 217.5,233 217.5,238 219.5,238 219.5,222.5 221.5,222.5 221.5,225.5 224.5,225.5 224.5,223 226.5,223 226.5,227 228.5,227 228.5,222 230.5,222 230.5,233 233,233 233,234.5 235,234.5 235,236.5 237.5,236.5 237.5,235 239.5,235 239.5,219.5 243,219.5 243,223.5 245.5,223.5 245.5,228 247.5,228 247.5,219.5 249.5,219.5 249.5,227 251.5,227 251.5,222 253.5,222 253.5,219.5 255,219.5 255,221.5 257,221.5 257,221 260,221 260,220 262.5,220 262.5,226.5 264.5,226.5 264.5,223.5 266.5,223.5 266.5,225 269,225 269,224 271,224 271,225 273,225 273,229.5 275.5,229.5 275.5,224.5 279,224.5 279,214 281.5,214 281.5,218 283,218 283,219.5 285,219.5 285,233.5 287,233.5 287,232 289,232 289,228 290.5,228 290.5,219 292,219 292,227 294,227 294,221 295.5,221 295.5,220 297,220 297,218 299,218 299,222 301,222 301,225 303,225 303,221.5 305,221.5 305,232 307.5,232 307.5,221 309.5,221 309.5,209.5 312,209.5 312,219 314,219 314,226 316,226 316,221.5 318,221.5 318,222 320.5,222 320.5,221.5 322.5,221.5 322.5,225 324,225 324,231 326,231 326,229 328,229 328,225 330,225 330,217 332.5,217 332.5,223 334.5,223 334.5,232.5 336.5,232.5 336.5,221.5 339,221.5 339,215 341,215 341,226 343,226 343,218 345,218 345,215.5 347.5,215.5 347.5,231 349.5,231 349.5,225 351.5,225 351.5,218 353.5,218 353.5,221 355.5,221 355.5,215 357.5,215 357.5,212 359,212 359,211 361,211 361,213 363,213 363,219.5 365,219.5 365,221 366.5,221 366.5,210 369,210 369,212.5 371,212.5 371,227 373.5,227 373.5,229 375.5,229 375.5,230.5 377.5,230.5 377.5,225 379.5,225 379.5,224 381.5,224 381.5,216.5 383.5,216.5 383.5,212.5 385.5,212.5 385.5,210.5 388,210.5 388,218.5 390.5,218.5 390.5,221 393,221 393,218.5 396,218.5 396,219.5 398.5,219.5 398.5,224.5 401,224.5 401,223.5 403,223.5 403,225.5 405,225.5 405,219.5 407,219.5 407,221.5 409,221.5 409,223.5 411.5,223.5 411.5,219 413.5,219 413.5,212.5 415.5,212.5 415.5,217.5 418,217.5 418,222.5 419.5,222.5 419.5,227.5 421.5,227.5 421.5,225 423.5,225 423.5,227.5 426,227.5 426,217.5 428.8,217.5 428.8,221.7 430.4,221.7 430.4,217.5 432.1,217.5 432.1,225 434.2,225 434.2,217.9 436.7,217.9 436.7,236.2 440.8,236.2 440.8,226.7 442.9,226.7 442.9,222.5 445.4,222.5 445.4,237.9 447.5,237.9 447.5,226.2 449.6,226.2 449.6,236.7 451.7,236.7 451.7,225 453.8,225 453.8,217.1 456.2,217.1 456.2,215.8 458.3,215.8 458.3,219.2 460.4,219.2 460.4,230.4 462.1,230.4 462.1,217.1 464.2,217.1 464.2,217.5 466.7,217.5 466.7,211.7 468.8,211.7 468.8,219.6 470,219.6 470,220 473,220 473,230 475,230 475,232.5 477,232.5 477,220 479,220 479,244 481,244 481,225 483,225 483,213.3 485,213.3 485,202.5 487,202.5 487,208.3 489,208.3 489,216.7 491,216.7 491,224.2 493,224.2 493,193.3 495,193.3 495,171.7 497,171.7 497,153.3 499,153.3 499,149.7 502,149.7 502,168.3 504,168.3 504,170 506,170 506,175 508,175 508,176.7 510,176.7 510,165.8 512,165.8 512,195 514,195 514,216.7 516,216.7 516,228.3 518,228.3 518,221.7 520,221.7 520,225.8 522,225.8 522,211.7 524,211.7 524,208.3 526,208.3 526,206.7 528,206.7 528,173.3 531,173.3 531,174.2 534,174.2 534,184.2 537,184.2 537,185.8 540,185.8 540,184.2 542,184.2 542,199.2 545,199.2 545,210 548,210 548,220 551,220 551,221.7 553,221.7 553,235.8 555,235.8 555,221.6 556.4,221.6 556.4,236.6 558.5,236.6 558.5,209.7 560.6,209.7 560.6,213.2 562.3,213.2 562.3,222.6 566.9,222.6 566.9,233.8 569.7,233.8 569.7,212.5 571.8,212.5 571.8,219.5 575.3,219.5 575.3,227.9 577.4,227.9 577.4,220.5 579.1,220.5 579.1,221.6 580.2,221.6 580.2,223 581.9,223 581.9,224.4 583.7,224.4 583.7,226.8 585,226.8 585,229.3 587,229.3" fill="none" stroke="#111" stroke-width="1.3" stroke-linejoin="round" stroke-linejoin="miter"/>
<polyline points="49.5,223.1 50.5,223.1 51.5,223.1 52.5,223.1 53.5,223.1 54.5,223.1 55.5,223.1 56.5,223.1 57.5,223.1 58.5,223.1 59.5,223.1 60.5,223.1 61.5,223.1 62.5,223.1 63.5,223.1 64.5,223.1 65.5,223.1 66.5,223.1 67.5,223.1 68.5,223.1 69.5,223.1 70.5,223.1 71.5,223.1 72.5,223.1 73.5,223.1 74.5,223.1 75.5,223.1 76.5,223.1 77.5,223.1 78.5,223.1 79.5,223.1 80.5,223.1 81.5,223.1 82.5,223.1 83.5,223.1 84.5,223.1 85.5,223.1 86.5,223.1 87.5,223 88.5,223 89.5,223 90.5,223 91.5,223 92.5,222.9 93.5,222.9 94.5,222.9 95.5,222.8 96.5,222.7 97.5,222.7 98.5,222.6 99.5,222.5 100.5,222.4 101.5,222.3 102.5,222.1 103.5,222 104.5,221.8 105.5,221.7 106.5,221.5 107.5,221.2 108.5,221 109.5,220.8 110.5,220.5 111.5,220.3 112.5,220 113.5,219.7 114.5,219.4 115.5,219.1 116.5,218.9 117.5,218.6 118.5,218.3 119.5,218.1 120.5,217.9 121.5,217.7 122.5,217.5 123.5,217.3 124.5,217.2 125.5,217.1 126.5,217.1 127.5,217 128.5,217.1 129.5,217.4 130.5,217.8 131.5,218.3 132.5,218.9 133.5,219.6 134.5,220.2 135.5,220.8 136.5,221.3 137.5,221.7 138.5,222.1 139.5,222.4 140.5,222.6 141.5,222.8 142.5,222.9 143.5,223 144.5,223 145.5,223 146.5,223 147.5,223 148.5,223 149.5,222.9 150.5,222.8 151.5,222.6 152.5,222.2 153.5,221.7 154.5,220.8 155.5,219.5 156.5,217.7 157.5,215.2 158.5,211.9 159.5,207.7 160.5,202.6 161.5,196.7 162.5,190.1 163.5,183.2 164.5,176.2 165.5,169.8 166.5,164.4 167.5,160.4 168.5,158.2 169.5,158 170.5,159.8 171.5,163.5 172.5,168.6 173.5,174.9 174.5,181.8 175.5,188.7 176.5,195.4 177.5,201.5 178.5,206.7 179.5,211.1 180.5,214.6 181.5,217.2 182.5,219.2 183.5,220.6 184.5,221.5 185.5,222.1 186.5,222.5 187.5,222.8 188.5,222.9 189.5,223 190.5,223 191.5,223.1 192.5,223.1 193.5,223.1 194.5,223.1 195.5,223.1 196.5,223.1 197.5,223.1 198.5,223.1 199.5,223.1 200.5,223.1 201.5,223.1 202.5,223.1 203.5,223.1 204.5,223.1 205.5,223.1 206.5,223.1 207.5,223.1 208.5,223.1 209.5,223.1 210.5,223.1 211.5,223.1 212.5,223.1 213.5,223.1 214.5,223.1 215.5,223.1 216.5,223.1 217.5,223.1 218.5,223.1 219.5,223.1 220.5,223.1 221.5,223.1 222.5,223.1 223.5,223.1 224.5,223.1 225.5,223.1 226.5,223.1 227.5,223.1 228.5,223.1 229.5,223.1 230.5,223.1 231.5,223.1 232.5,223.1 233.5,223.1 234.5,223.1 235.5,223.1 236.5,223.1 237.5,223.1 238.5,223.1 239.5,223.1 240.5,223.1 241.5,223.1 242.5,223.1 243.5,223.1 244.5,223.1 245.5,223.1 246.5,223.1 247.5,223.1 248.5,223.1 249.5,223.1 250.5,223.1 251.5,223.1 252.5,223.1 253.5,223.1 254.5,223.1 255.5,223.1 256.5,223.1 257.5,223.1 258.5,223.1 259.5,223.1 260.5,223.1 261.5,223.1 262.5,223.1 263.5,223.1 264.5,223.1 265.5,223.1 266.5,223.1 267.5,223.1 268.5,223.1 269.5,223.1 270.5,223.1 271.5,223.1 272.5,223.1 273.5,223.1 274.5,223.1 275.5,223.1 276.5,223.1 277.5,223.1 278.5,223.1 279.5,223.1 280.5,223.1 281.5,223.1 282.5,223.1 283.5,223.1 284.5,223.1 285.5,223.1 286.5,223.1 287.5,223.1 288.5,223.1 289.5,223.1 290.5,223.1 291.5,223.1 292.5,223.1 293.5,223.1 294.5,223.1 295.5,223.1 296.5,223.1 297.5,223.1 298.5,223.1 299.5,223.1 300.5,223.1 301.5,223.1 302.5,223.1 303.5,223.1 304.5,223.1 305.5,223.1 306.5,223.1 307.5,223.1 308.5,223.1 309.5,223.1 310.5,223.1 311.5,223.1 312.5,223.1 313.5,223.1 314.5,223.1 315.5,223.1 316.5,223.1 317.5,223.1 318.5,223.1 319.5,223.1 320.5,223.1 321.5,223.1 322.5,223.1 323.5,223.1 324.5,223.1 325.5,223.1 326.5,223.1 327.5,223.1 328.5,223.1 329.5,223.1 330.5,223.1 331.5,223.1 332.5,223.1 333.5,223.1 334.5,223.1 335.5,223.1 336.5,223.1 337.5,223.1 338.5,223.1 339.5,223.1 340.5,223.1 341.5,223.1 342.5,223.1 343.5,223.1 344.5,223.1 345.5,223.1 346.5,223.1 347.5,223.1 348.5,223.1 349.5,223.1 350.5,223.1 351.5,223.1 352.5,223.1 353.5,223.1 354.5,223.1 355.5,223.1 356.5,223.1 357.5,223.1 358.5,223.1 359.5,223.1 360.5,223.1 361.5,223.1 362.5,223.1 363.5,223.1 364.5,223.1 365.5,223.1 366.5,223.1 367.5,223.1 368.5,223.1 369.5,223.1 370.5,223.1 371.5,223.1 372.5,223.1 373.5,223.1 374.5,223.1 375.5,223.1 376.5,223.1 377.5,223.1 378.5,223.1 379.5,223.1 380.5,223.1 381.5,223.1 382.5,223.1 383.5,223.1 384.5,223.1 385.5,223.1 386.5,223.1 387.5,223.1 388.5,223.1 389.5,223.1 390.5,223.1 391.5,223.1 392.5,223.1 393.5,223.1 394.5,223.1 395.5,223.1 396.5,223.1 397.5,223.1 398.5,223.1 399.5,223.1 400.5,223.1 401.5,223.1 402.5,223.1 403.5,223.1 404.5,223.1 405.5,223.1 406.5,223.1 407.5,223.1 408.5,223.1 409.5,223.1 410.5,223.1 411.5,223.1 412.5,223.1 413.5,223.1 414.5,223.1 415.5,223.1 416.5,223.1 417.5,223.1 418.5,223.1 419.5,223.1 420.5,223.1 421.5,223.1 422.5,223.1 423.5,223.1 424.5,223.1 425.5,223.1 426.5,223.1 427.5,223.1 428.5,223.1 429.5,223.1 430.5,223.1 431.5,223.1 432.5,223.1 433.5,223.1 434.5,223.1 435.5,223.1 436.5,223.1 437.5,223.1 438.5,223.1 439.5,223.1 440.5,223.1 441.5,223.1 442.5,223.1 443.5,223.1 444.5,223.1 445.5,223.1 446.5,223.1 447.5,223.1 448.5,223.1 449.5,223.1 450.5,223.1 451.5,223.1 452.5,223.1 453.5,223.1 454.5,223.1 455.5,223.1 456.5,223.1 457.5,223.1 458.5,223.1 459.5,223.1 460.5,223.1 461.5,223.1 462.5,223.1 463.5,223.1 464.5,223.1 465.5,223.1 466.5,223.1 467.5,223.1 468.5,223.1 469.5,223.1 470.5,223.1 471.5,223.1 472.5,223.1 473.5,223.1 474.5,223.1 475.5,223.1 476.5,223.1 477.5,223.1 478.5,223.1 479.5,223.1 480.5,223.1 481.5,223.1 482.5,223.1 483.5,223 484.5,223 485.5,222.9 486.5,222.8 487.5,222.6 488.5,222.2 489.5,221.6 490.5,220.8 491.5,219.5 492.5,217.7 493.5,215.3 494.5,212.2 495.5,208.2 496.5,203.2 497.5,197.5 498.5,190.9 499.5,183.9 500.5,176.6 501.5,169.6 502.5,163.2 503.5,158 504.5,154.4 505.5,152.6 506.5,152.8 507.5,155 508.5,159 509.5,164.4 510.5,171 511.5,178.1 512.5,185.3 513.5,192.3 514.5,198.7 515.5,204.3 516.5,209 517.5,212.8 518.5,215.8 519.5,218 520.5,219.5 521.5,220.5 522.5,220.9 523.5,221 524.5,220.6 525.5,219.8 526.5,218.5 527.5,216.7 528.5,214.3 529.5,211.2 530.5,207.5 531.5,203.2 532.5,198.4 533.5,193.2 534.5,188 535.5,183 536.5,178.5 537.5,174.9 538.5,172.5 539.5,171.3 540.5,171.6 541.5,173.3 542.5,176.3 543.5,180.2 544.5,185 545.5,190.1 546.5,195.3 547.5,200.3 548.5,205 549.5,209.1 550.5,212.5 551.5,215.4 552.5,217.6 553.5,219.3 554.5,220.5 555.5,221.4 556.5,222 557.5,222.4 558.5,222.7 559.5,222.9 560.5,223 561.5,223 562.5,223.1 563.5,223.1 564.5,223.1 565.5,223.1 566.5,223.1 567.5,223.1 568.5,223.1 569.5,223.1 570.5,223.1 571.5,223.1 572.5,223.1 573.5,223.1 574.5,223.1 575.5,223.1 576.5,223.1 577.5,223.1 578.5,223.1 579.5,223.1 580.5,223.1 581.5,223.1 582.5,223.1 583.5,223.1 584.5,223.1 585.5,223.1 586.5,223.1 587.5,223.1 588.5,223.1 589.5,223.1 590.5,223.1 591.5,223.1 592.5,223.1 593.5,223.1 594.5,223.1 595.5,223.1" fill="none" stroke="#40c6ec" stroke-width="1.5" stroke-linejoin="round" />
<polyline points="49.5,279.9 50.5,279.9 51.5,279.9 52.5,279.9 53.5,279.9 54.5,279.9 55.5,279.9 56.5,279.9 57.5,279.9 58.5,279.9 59.5,279.9 60.5,279.9 61.5,279.9 62.5,279.9 63.5,279.9 64.5,279.9 65.5,279.9 66.5,279.9 67.5,279.9 68.5,279.9 69.5,279.9 70.5,279.9 71.5,279.9 72.5,279.9 73.5,279.9 74.5,279.9 75.5,279.9 76.5,279.9 77.5,279.9 78.5,279.9 79.5,279.9 80.5,279.9 81.5,279.8 82.5,279.8 83.5,279.8 84.5,279.8 85.5,279.8 86.5,279.8 87.5,279.8 88.5,279.8 89.5,279.8 90.5,279.8 91.5,279.7 92.5,279.7 93.5,279.7 94.5,279.6 95.5,279.6 96.5,279.5 97.5,279.4 98.5,279.4 99.5,279.3 100.5,279.2 101.5,279 102.5,278.9 103.5,278.8 104.5,278.6 105.5,278.4 106.5,278.2 107.5,278 108.5,277.8 109.5,277.5 110.5,277.3 111.5,277 112.5,276.7 113.5,276.5 114.5,276.2 115.5,275.9 116.5,275.6 117.5,275.4 118.5,275.1 119.5,274.8 120.5,274.6 121.5,274.4 122.5,274.2 123.5,274.1 124.5,274 125.5,273.9 126.5,273.8 127.5,273.8 128.5,273.9 129.5,274.2 130.5,274.6 131.5,275.1 132.5,275.7 133.5,276.3 134.5,276.9 135.5,277.5 136.5,278 137.5,278.5 138.5,278.9 139.5,279.1 140.5,279.4 141.5,279.5 142.5,279.6 143.5,279.7 144.5,279.8 145.5,279.8 146.5,279.8 147.5,279.8 148.5,279.9 149.5,279.9 150.5,279.9 151.5,279.9 152.5,279.9 153.5,279.9 154.5,279.9 155.5,279.9 156.5,279.9 157.5,279.9 158.5,279.9 159.5,279.9 160.5,279.9 161.5,279.9 162.5,279.9 163.5,279.9 164.5,279.9 165.5,279.9 166.5,279.9 167.5,279.9 168.5,279.9 169.5,279.9 170.5,279.9 171.5,279.9 172.5,279.9 173.5,279.9 174.5,279.9 175.5,279.9 176.5,279.9 177.5,279.9 178.5,279.9 179.5,279.9 180.5,279.9 181.5,279.9 182.5,279.9 183.5,279.9 184.5,279.9 185.5,279.9 186.5,279.9 187.5,279.9 188.5,279.9 189.5,279.9 190.5,279.9 191.5,279.9 192.5,279.9 193.5,279.9 194.5,279.9 195.5,279.9 196.5,279.9 197.5,279.9 198.5,279.9 199.5,279.9 200.5,279.9 201.5,279.9 202.5,279.9 203.5,279.9 204.5,279.9 205.5,279.9 206.5,279.9 207.5,279.9 208.5,279.9 209.5,279.9 210.5,279.9 211.5,279.9 212.5,279.9 213.5,279.9 214.5,279.9 215.5,279.9 216.5,279.9 217.5,279.9 218.5,279.9 219.5,279.9 220.5,279.9 221.5,279.9 222.5,279.9 223.5,279.9 224.5,279.9 225.5,279.9 226.5,279.9 227.5,279.9 228.5,279.9 229.5,279.9 230.5,279.9 231.5,279.9 232.5,279.9 233.5,279.9 234.5,279.9 235.5,279.9 236.5,279.9 237.5,279.9 238.5,279.9 239.5,279.9 240.5,279.9 241.5,279.9 242.5,279.9 243.5,279.9 244.5,279.9 245.5,279.9 246.5,279.9 247.5,279.9 248.5,279.9 249.5,279.9 250.5,279.9 251.5,279.9 252.5,279.9 253.5,279.9 254.5,279.9 255.5,279.9 256.5,279.9 257.5,279.9 258.5,279.9 259.5,279.9 260.5,279.9 261.5,279.9 262.5,279.9 263.5,279.9 264.5,279.9 265.5,279.9 266.5,279.9 267.5,279.9 268.5,279.9 269.5,279.9 270.5,279.9 271.5,279.9 272.5,279.9 273.5,279.9 274.5,279.9 275.5,279.9 276.5,279.9 277.5,279.9 278.5,279.9 279.5,279.9 280.5,279.9 281.5,279.9 282.5,279.9 283.5,279.9 284.5,279.9 285.5,279.9 286.5,279.9 287.5,279.9 288.5,279.9 289.5,279.9 290.5,279.9 291.5,279.9 292.5,279.9 293.5,279.9 294.5,279.9 295.5,279.9 296.5,279.9 297.5,279.9 298.5,279.9 299.5,279.9 300.5,279.9 301.5,279.9 302.5,279.9 303.5,279.9 304.5,279.9 305.5,279.9 306.5,279.9 307.5,279.9 308.5,279.9 309.5,279.9 310.5,279.9 311.5,279.9 312.5,279.9 313.5,279.9 314.5,279.9 315.5,279.9 316.5,279.9 317.5,279.9 318.5,279.9 319.5,279.9 320.5,279.9 321.5,279.9 322.5,279.9 323.5,279.9 324.5,279.9 325.5,279.9 326.5,279.9 327.5,279.9 328.5,279.9 329.5,279.9 330.5,279.9 331.5,279.9 332.5,279.9 333.5,279.9 334.5,279.9 335.5,279.9 336.5,279.9 337.5,279.9 338.5,279.9 339.5,279.9 340.5,279.9 341.5,279.9 342.5,279.9 343.5,279.9 344.5,279.9 345.5,279.9 346.5,279.9 347.5,279.9 348.5,279.9 349.5,279.9 350.5,279.9 351.5,279.9 352.5,279.9 353.5,279.9 354.5,279.9 355.5,279.9 356.5,279.9 357.5,279.9 358.5,279.9 359.5,279.9 360.5,279.9 361.5,279.9 362.5,279.9 363.5,279.9 364.5,279.9 365.5,279.9 366.5,279.9 367.5,279.9 368.5,279.9 369.5,279.9 370.5,279.9 371.5,279.9 372.5,279.9 373.5,279.9 374.5,279.9 375.5,279.9 376.5,279.9 377.5,279.9 378.5,279.9 379.5,279.9 380.5,279.9 381.5,279.9 382.5,279.9 383.5,279.9 384.5,279.9 385.5,279.9 386.5,279.9 387.5,279.9 388.5,279.9 389.5,279.9 390.5,279.9 391.5,279.9 392.5,279.9 393.5,279.9 394.5,279.9 395.5,279.9 396.5,279.9 397.5,279.9 398.5,279.9 399.5,279.9 400.5,279.9 401.5,279.9 402.5,279.9 403.5,279.9 404.5,279.9 405.5,279.9 406.5,279.9 407.5,279.9 408.5,279.9 409.5,279.9 410.5,279.9 411.5,279.9 412.5,279.9 413.5,279.9 414.5,279.9 415.5,279.9 416.5,279.9 417.5,279.9 418.5,279.9 419.5,279.9 420.5,279.9 421.5,279.9 422.5,279.9 423.5,279.9 424.5,279.9 425.5,279.9 426.5,279.9 427.5,279.9 428.5,279.9 429.5,279.9 430.5,279.9 431.5,279.9 432.5,279.9 433.5,279.9 434.5,279.9 435.5,279.9 436.5,279.9 437.5,279.9 438.5,279.9 439.5,279.9 440.5,279.9 441.5,279.9 442.5,279.9 443.5,279.9 444.5,279.9 445.5,279.9 446.5,279.9 447.5,279.9 448.5,279.9 449.5,279.9 450.5,279.9 451.5,279.9 452.5,279.9 453.5,279.9 454.5,279.9 455.5,279.9 456.5,279.9 457.5,279.9 458.5,279.9 459.5,279.9 460.5,279.9 461.5,279.9 462.5,279.9 463.5,279.9 464.5,279.9 465.5,279.9 466.5,279.9 467.5,279.9 468.5,279.9 469.5,279.9 470.5,279.9 471.5,279.9 472.5,279.9 473.5,279.9 474.5,279.9 475.5,279.9 476.5,279.9 477.5,279.9 478.5,279.9 479.5,279.9 480.5,279.9 481.5,279.8 482.5,279.8 483.5,279.8 484.5,279.8 485.5,279.7 486.5,279.5 487.5,279.3 488.5,278.9 489.5,278.4 490.5,277.5 491.5,276.3 492.5,274.5 493.5,272.1 494.5,268.9 495.5,264.9 496.5,260 497.5,254.2 498.5,247.7 499.5,240.6 500.5,233.4 501.5,226.3 502.5,220 503.5,214.8 504.5,211.2 505.5,209.4 506.5,209.6 507.5,211.7 508.5,215.7 509.5,221.2 510.5,227.7 511.5,234.8 512.5,242.1 513.5,249 514.5,255.4 515.5,261.1 516.5,265.8 517.5,269.6 518.5,272.6 519.5,274.9 520.5,276.6 521.5,277.7 522.5,278.5 523.5,279 524.5,279.4 525.5,279.6 526.5,279.7 527.5,279.8 528.5,279.8 529.5,279.8 530.5,279.8 531.5,279.9 532.5,279.9 533.5,279.9 534.5,279.9 535.5,279.9 536.5,279.9 537.5,279.9 538.5,279.9 539.5,279.9 540.5,279.9 541.5,279.9 542.5,279.9 543.5,279.9 544.5,279.9 545.5,279.9 546.5,279.9 547.5,279.9 548.5,279.9 549.5,279.9 550.5,279.9 551.5,279.9 552.5,279.9 553.5,279.9 554.5,279.9 555.5,279.9 556.5,279.9 557.5,279.9 558.5,279.9 559.5,279.9 560.5,279.9 561.5,279.9 562.5,279.9 563.5,279.9 564.5,279.9 565.5,279.9 566.5,279.9 567.5,279.9 568.5,279.9 569.5,279.9 570.5,279.9 571.5,279.9 572.5,279.9 573.5,279.9 574.5,279.9 575.5,279.9 576.5,279.9 577.5,279.9 578.5,279.9 579.5,279.9 580.5,279.9 581.5,279.9 582.5,279.9 583.5,279.9 584.5,279.9 585.5,279.9 586.5,279.9 587.5,279.9 588.5,279.9 589.5,279.9 590.5,279.9 591.5,279.9 592.5,279.9 593.5,279.9 594.5,279.9 595.5,279.9" fill="none" stroke="#2f6cb2" stroke-width="1.9" stroke-linejoin="round" />
<polyline points="49.5,355.5 50.5,355.5 51.5,355.5 52.5,355.5 53.5,355.5 54.5,355.5 55.5,355.5 56.5,355.5 57.5,355.5 58.5,355.5 59.5,355.5 60.5,355.5 61.5,355.5 62.5,355.5 63.5,355.5 64.5,355.5 65.5,355.5 66.5,355.5 67.5,355.5 68.5,355.5 69.5,355.5 70.5,355.5 71.5,355.5 72.5,355.5 73.5,355.5 74.5,355.5 75.5,355.5 76.5,355.5 77.5,355.5 78.5,355.5 79.5,355.5 80.5,355.5 81.5,355.5 82.5,355.5 83.5,355.5 84.5,355.5 85.5,355.5 86.5,355.5 87.5,355.5 88.5,355.5 89.5,355.5 90.5,355.5 91.5,355.5 92.5,355.5 93.5,355.5 94.5,355.5 95.5,355.5 96.5,355.5 97.5,355.5 98.5,355.5 99.5,355.5 100.5,355.5 101.5,355.5 102.5,355.5 103.5,355.5 104.5,355.5 105.5,355.5 106.5,355.5 107.5,355.5 108.5,355.5 109.5,355.5 110.5,355.5 111.5,355.5 112.5,355.5 113.5,355.5 114.5,355.5 115.5,355.5 116.5,355.5 117.5,355.5 118.5,355.5 119.5,355.5 120.5,355.5 121.5,355.5 122.5,355.5 123.5,355.5 124.5,355.5 125.5,355.5 126.5,355.5 127.5,355.5 128.5,355.5 129.5,355.5 130.5,355.5 131.5,355.5 132.5,355.5 133.5,355.5 134.5,355.5 135.5,355.5 136.5,355.5 137.5,355.5 138.5,355.5 139.5,355.5 140.5,355.5 141.5,355.5 142.5,355.5 143.5,355.5 144.5,355.5 145.5,355.5 146.5,355.5 147.5,355.5 148.5,355.5 149.5,355.4 150.5,355.3 151.5,355 152.5,354.7 153.5,354.1 154.5,353.2 155.5,351.9 156.5,350.1 157.5,347.6 158.5,344.3 159.5,340.1 160.5,335 161.5,329.1 162.5,322.5 163.5,315.6 164.5,308.7 165.5,302.3 166.5,296.8 167.5,292.8 168.5,290.6 169.5,290.4 170.5,292.2 171.5,295.9 172.5,301.1 173.5,307.3 174.5,314.2 175.5,321.2 176.5,327.9 177.5,333.9 178.5,339.2 179.5,343.5 180.5,347 181.5,349.7 182.5,351.6 183.5,353 184.5,353.9 185.5,354.6 186.5,355 187.5,355.2 188.5,355.4 189.5,355.4 190.5,355.5 191.5,355.5 192.5,355.5 193.5,355.5 194.5,355.5 195.5,355.5 196.5,355.5 197.5,355.5 198.5,355.5 199.5,355.5 200.5,355.5 201.5,355.5 202.5,355.5 203.5,355.5 204.5,355.5 205.5,355.5 206.5,355.5 207.5,355.5 208.5,355.5 209.5,355.5 210.5,355.5 211.5,355.5 212.5,355.5 213.5,355.5 214.5,355.5 215.5,355.5 216.5,355.5 217.5,355.5 218.5,355.5 219.5,355.5 220.5,355.5 221.5,355.5 222.5,355.5 223.5,355.5 224.5,355.5 225.5,355.5 226.5,355.5 227.5,355.5 228.5,355.5 229.5,355.5 230.5,355.5 231.5,355.5 232.5,355.5 233.5,355.5 234.5,355.5 235.5,355.5 236.5,355.5 237.5,355.5 238.5,355.5 239.5,355.5 240.5,355.5 241.5,355.5 242.5,355.5 243.5,355.5 244.5,355.5 245.5,355.5 246.5,355.5 247.5,355.5 248.5,355.5 249.5,355.5 250.5,355.5 251.5,355.5 252.5,355.5 253.5,355.5 254.5,355.5 255.5,355.5 256.5,355.5 257.5,355.5 258.5,355.5 259.5,355.5 260.5,355.5 261.5,355.5 262.5,355.5 263.5,355.5 264.5,355.5 265.5,355.5 266.5,355.5 267.5,355.5 268.5,355.5 269.5,355.5 270.5,355.5 271.5,355.5 272.5,355.5 273.5,355.5 274.5,355.5 275.5,355.5 276.5,355.5 277.5,355.5 278.5,355.5 279.5,355.5 280.5,355.5 281.5,355.5 282.5,355.5 283.5,355.5 284.5,355.5 285.5,355.5 286.5,355.5 287.5,355.5 288.5,355.5 289.5,355.5 290.5,355.5 291.5,355.5 292.5,355.5 293.5,355.5 294.5,355.5 295.5,355.5 296.5,355.5 297.5,355.5 298.5,355.5 299.5,355.5 300.5,355.5 301.5,355.5 302.5,355.5 303.5,355.5 304.5,355.5 305.5,355.5 306.5,355.5 307.5,355.5 308.5,355.5 309.5,355.5 310.5,355.5 311.5,355.5 312.5,355.5 313.5,355.5 314.5,355.5 315.5,355.5 316.5,355.5 317.5,355.5 318.5,355.5 319.5,355.5 320.5,355.5 321.5,355.5 322.5,355.5 323.5,355.5 324.5,355.5 325.5,355.5 326.5,355.5 327.5,355.5 328.5,355.5 329.5,355.5 330.5,355.5 331.5,355.5 332.5,355.5 333.5,355.5 334.5,355.5 335.5,355.5 336.5,355.5 337.5,355.5 338.5,355.5 339.5,355.5 340.5,355.5 341.5,355.5 342.5,355.5 343.5,355.5 344.5,355.5 345.5,355.5 346.5,355.5 347.5,355.5 348.5,355.5 349.5,355.5 350.5,355.5 351.5,355.5 352.5,355.5 353.5,355.5 354.5,355.5 355.5,355.5 356.5,355.5 357.5,355.5 358.5,355.5 359.5,355.5 360.5,355.5 361.5,355.5 362.5,355.5 363.5,355.5 364.5,355.5 365.5,355.5 366.5,355.5 367.5,355.5 368.5,355.5 369.5,355.5 370.5,355.5 371.5,355.5 372.5,355.5 373.5,355.5 374.5,355.5 375.5,355.5 376.5,355.5 377.5,355.5 378.5,355.5 379.5,355.5 380.5,355.5 381.5,355.5 382.5,355.5 383.5,355.5 384.5,355.5 385.5,355.5 386.5,355.5 387.5,355.5 388.5,355.5 389.5,355.5 390.5,355.5 391.5,355.5 392.5,355.5 393.5,355.5 394.5,355.5 395.5,355.5 396.5,355.5 397.5,355.5 398.5,355.5 399.5,355.5 400.5,355.5 401.5,355.5 402.5,355.5 403.5,355.5 404.5,355.5 405.5,355.5 406.5,355.5 407.5,355.5 408.5,355.5 409.5,355.5 410.5,355.5 411.5,355.5 412.5,355.5 413.5,355.5 414.5,355.5 415.5,355.5 416.5,355.5 417.5,355.5 418.5,355.5 419.5,355.5 420.5,355.5 421.5,355.5 422.5,355.5 423.5,355.5 424.5,355.5 425.5,355.5 426.5,355.5 427.5,355.5 428.5,355.5 429.5,355.5 430.5,355.5 431.5,355.5 432.5,355.5 433.5,355.5 434.5,355.5 435.5,355.5 436.5,355.5 437.5,355.5 438.5,355.5 439.5,355.5 440.5,355.5 441.5,355.5 442.5,355.5 443.5,355.5 444.5,355.5 445.5,355.5 446.5,355.5 447.5,355.5 448.5,355.5 449.5,355.5 450.5,355.5 451.5,355.5 452.5,355.5 453.5,355.5 454.5,355.5 455.5,355.5 456.5,355.5 457.5,355.5 458.5,355.5 459.5,355.5 460.5,355.5 461.5,355.5 462.5,355.5 463.5,355.5 464.5,355.5 465.5,355.5 466.5,355.5 467.5,355.5 468.5,355.5 469.5,355.5 470.5,355.5 471.5,355.5 472.5,355.5 473.5,355.5 474.5,355.5 475.5,355.5 476.5,355.5 477.5,355.5 478.5,355.5 479.5,355.5 480.5,355.5 481.5,355.5 482.5,355.5 483.5,355.5 484.5,355.5 485.5,355.5 486.5,355.5 487.5,355.5 488.5,355.5 489.5,355.5 490.5,355.5 491.5,355.5 492.5,355.5 493.5,355.5 494.5,355.5 495.5,355.5 496.5,355.5 497.5,355.5 498.5,355.5 499.5,355.5 500.5,355.5 501.5,355.5 502.5,355.5 503.5,355.5 504.5,355.5 505.5,355.5 506.5,355.5 507.5,355.5 508.5,355.5 509.5,355.5 510.5,355.5 511.5,355.5 512.5,355.5 513.5,355.5 514.5,355.5 515.5,355.5 516.5,355.5 517.5,355.5 518.5,355.4 519.5,355.4 520.5,355.2 521.5,355 522.5,354.7 523.5,354.2 524.5,353.5 525.5,352.5 526.5,351.1 527.5,349.2 528.5,346.7 529.5,343.7 530.5,339.9 531.5,335.6 532.5,330.8 533.5,325.7 534.5,320.4 535.5,315.4 536.5,311 537.5,307.4 538.5,304.9 539.5,303.8 540.5,304.1 541.5,305.7 542.5,308.7 543.5,312.7 544.5,317.4 545.5,322.5 546.5,327.7 547.5,332.8 548.5,337.4 549.5,341.5 550.5,345 551.5,347.8 552.5,350 553.5,351.7 554.5,353 555.5,353.9 556.5,354.5 557.5,354.9 558.5,355.1 559.5,355.3 560.5,355.4 561.5,355.5 562.5,355.5 563.5,355.5 564.5,355.5 565.5,355.5 566.5,355.5 567.5,355.5 568.5,355.5 569.5,355.5 570.5,355.5 571.5,355.5 572.5,355.5 573.5,355.5 574.5,355.5 575.5,355.5 576.5,355.5 577.5,355.5 578.5,355.5 579.5,355.5 580.5,355.5 581.5,355.5 582.5,355.5 583.5,355.5 584.5,355.5 585.5,355.5 586.5,355.5 587.5,355.5 588.5,355.5 589.5,355.5 590.5,355.5 591.5,355.5 592.5,355.5 593.5,355.5 594.5,355.5 595.5,355.5" fill="none" stroke="#4ea04a" stroke-width="1.5" stroke-linejoin="round" />
<polygon points="49.5,406.8 50.5,406.8 51.5,406.8 52.5,406.8 53.5,406.8 54.5,406.8 55.5,406.8 56.5,406.8 57.5,406.8 58.5,406.8 59.5,406.8 60.5,406.8 61.5,406.8 62.5,406.8 63.5,406.8 64.5,406.8 65.5,406.8 66.5,406.8 67.5,406.8 68.5,406.8 69.5,406.8 70.5,406.8 71.5,406.8 72.5,406.8 73.5,406.8 74.5,406.8 75.5,406.8 76.5,406.8 77.5,406.8 78.5,406.8 79.5,406.8 80.5,406.8 81.5,406.8 82.5,406.8 83.5,406.8 84.5,406.8 85.5,406.8 86.5,406.8 87.5,406.8 88.5,406.8 89.5,406.8 90.5,406.8 91.5,406.8 92.5,406.8 93.5,406.8 94.5,406.8 95.5,406.8 96.5,406.8 97.5,406.8 98.5,406.8 99.5,406.8 100.5,406.8 101.5,406.8 102.5,406.8 103.5,406.8 104.5,406.8 105.5,406.8 106.5,406.8 107.5,406.8 108.5,406.8 109.5,406.8 110.5,406.8 111.5,406.8 112.5,406.8 113.5,406.8 114.5,406.8 115.5,406.8 116.5,406.8 117.5,406.8 118.5,406.8 119.5,406.8 120.5,406.8 121.5,406.8 122.5,406.8 123.5,406.8 124.5,406.8 125.5,406.8 126.5,406.8 127.5,406.7 128.5,406.7 129.5,406.7 130.5,406.6 131.5,406.6 132.5,406.5 133.5,406.5 134.5,406.4 135.5,406.3 136.5,406.1 137.5,406 138.5,405.8 139.5,405.7 140.5,405.5 141.5,405.3 142.5,405 143.5,404.8 144.5,404.6 145.5,404.3 146.5,404.1 147.5,403.9 148.5,403.7 149.5,403.6 150.5,403.4 151.5,403.3 152.5,403.3 153.5,403.3 154.5,403.3 155.5,403.4 156.5,403.6 157.5,403.7 158.5,403.9 159.5,404.1 160.5,404.3 161.5,404.6 162.5,404.8 163.5,405 164.5,405.3 165.5,405.5 166.5,405.7 167.5,405.8 168.5,406 169.5,406.1 170.5,406.3 171.5,406.4 172.5,406.5 173.5,406.5 174.5,406.6 175.5,406.6 176.5,406.7 177.5,406.7 178.5,406.7 179.5,406.8 180.5,406.8 181.5,406.8 182.5,406.8 183.5,406.8 184.5,406.8 185.5,406.8 186.5,406.8 187.5,406.8 188.5,406.8 189.5,406.8 190.5,406.8 191.5,406.8 192.5,406.8 193.5,406.8 194.5,406.8 195.5,406.8 196.5,406.8 197.5,406.8 198.5,406.8 199.5,406.8 200.5,406.8 201.5,406.8 202.5,406.8 203.5,406.8 204.5,406.8 205.5,406.8 206.5,406.8 207.5,406.8 208.5,406.8 209.5,406.8 210.5,406.8 211.5,406.8 212.5,406.8 213.5,406.8 214.5,406.8 215.5,406.8 216.5,406.8 217.5,406.8 218.5,406.8 219.5,406.8 220.5,406.8 221.5,406.8 222.5,406.8 223.5,406.8 224.5,406.8 225.5,406.8 226.5,406.8 227.5,406.8 228.5,406.8 229.5,406.8 230.5,406.8 231.5,406.8 232.5,406.8 233.5,406.8 234.5,406.8 235.5,406.8 236.5,406.8 237.5,406.8 238.5,406.8 239.5,406.8 240.5,406.8 241.5,406.8 242.5,406.8 243.5,406.8 244.5,406.8 245.5,406.8 246.5,406.8 247.5,406.8 248.5,406.8 249.5,406.8 250.5,406.8 251.5,406.8 252.5,406.8 253.5,406.8 254.5,406.8 255.5,406.8 256.5,406.8 257.5,406.8 258.5,406.8 259.5,406.8 260.5,406.8 261.5,406.8 262.5,406.8 263.5,406.8 264.5,406.8 265.5,406.8 266.5,406.8 267.5,406.8 268.5,406.8 269.5,406.8 270.5,406.8 271.5,406.8 272.5,406.8 273.5,406.8 274.5,406.8 275.5,406.8 276.5,406.8 277.5,406.8 278.5,406.8 279.5,406.8 280.5,406.8 281.5,406.8 282.5,406.8 283.5,406.8 284.5,406.8 285.5,406.8 286.5,406.8 287.5,406.8 288.5,406.8 289.5,406.8 290.5,406.8 291.5,406.8 292.5,406.8 293.5,406.8 294.5,406.8 295.5,406.8 296.5,406.8 297.5,406.8 298.5,406.8 299.5,406.8 300.5,406.8 301.5,406.8 302.5,406.8 303.5,406.8 304.5,406.8 305.5,406.8 306.5,406.8 307.5,406.8 308.5,406.8 309.5,406.8 310.5,406.8 311.5,406.8 312.5,406.8 313.5,406.8 314.5,406.8 315.5,406.8 316.5,406.8 317.5,406.8 318.5,406.8 319.5,406.8 320.5,406.8 321.5,406.8 322.5,406.8 323.5,406.8 324.5,406.8 325.5,406.8 326.5,406.8 327.5,406.8 328.5,406.7 329.5,406.7 330.5,406.7 331.5,406.7 332.5,406.6 333.5,406.6 334.5,406.5 335.5,406.4 336.5,406.3 337.5,406.2 338.5,406.1 339.5,406 340.5,405.9 341.5,405.7 342.5,405.5 343.5,405.3 344.5,405.1 345.5,404.9 346.5,404.7 347.5,404.4 348.5,404.2 349.5,404 350.5,403.8 351.5,403.6 352.5,403.5 353.5,403.3 354.5,403.2 355.5,403.1 356.5,403.1 357.5,403.1 358.5,403.1 359.5,403.2 360.5,403.3 361.5,403.5 362.5,403.6 363.5,403.8 364.5,404 365.5,404.2 366.5,404.4 367.5,404.7 368.5,404.9 369.5,405.1 370.5,405.3 371.5,405.5 372.5,405.7 373.5,405.9 374.5,406 375.5,406.1 376.5,406.2 377.5,406.3 378.5,406.4 379.5,406.5 380.5,406.6 381.5,406.6 382.5,406.7 383.5,406.7 384.5,406.7 385.5,406.7 386.5,406.8 387.5,406.8 388.5,406.8 389.5,406.8 390.5,406.8 391.5,406.8 392.5,406.8 393.5,406.8 394.5,406.8 395.5,406.8 396.5,406.8 397.5,406.8 398.5,406.8 399.5,406.8 400.5,406.8 401.5,406.8 402.5,406.8 403.5,406.8 404.5,406.8 405.5,406.8 406.5,406.8 407.5,406.8 408.5,406.8 409.5,406.8 410.5,406.8 411.5,406.8 412.5,406.8 413.5,406.8 414.5,406.8 415.5,406.8 416.5,406.8 417.5,406.8 418.5,406.8 419.5,406.8 420.5,406.8 421.5,406.8 422.5,406.8 423.5,406.8 424.5,406.8 425.5,406.8 426.5,406.8 427.5,406.8 428.5,406.8 429.5,406.8 430.5,406.8 431.5,406.8 432.5,406.8 433.5,406.8 434.5,406.8 435.5,406.8 436.5,406.8 437.5,406.8 438.5,406.8 439.5,406.8 440.5,406.8 441.5,406.8 442.5,406.8 443.5,406.8 444.5,406.8 445.5,406.8 446.5,406.8 447.5,406.8 448.5,406.8 449.5,406.8 450.5,406.8 451.5,406.8 452.5,406.8 453.5,406.8 454.5,406.8 455.5,406.8 456.5,406.8 457.5,406.8 458.5,406.8 459.5,406.8 460.5,406.8 461.5,406.8 462.5,406.8 463.5,406.8 464.5,406.8 465.5,406.8 466.5,406.8 467.5,406.8 468.5,406.8 469.5,406.8 470.5,406.8 471.5,406.8 472.5,406.8 473.5,406.8 474.5,406.8 475.5,406.8 476.5,406.8 477.5,406.8 478.5,406.8 479.5,406.8 480.5,406.8 481.5,406.8 482.5,406.8 483.5,406.8 484.5,406.8 485.5,406.8 486.5,406.8 487.5,406.8 488.5,406.8 489.5,406.8 490.5,406.8 491.5,406.8 492.5,406.8 493.5,406.8 494.5,406.8 495.5,406.8 496.5,406.8 497.5,406.8 498.5,406.8 499.5,406.8 500.5,406.8 501.5,406.7 502.5,406.7 503.5,406.7 504.5,406.7 505.5,406.6 506.5,406.6 507.5,406.6 508.5,406.5 509.5,406.4 510.5,406.4 511.5,406.3 512.5,406.2 513.5,406.1 514.5,406 515.5,405.9 516.5,405.8 517.5,405.6 518.5,405.5 519.5,405.4 520.5,405.3 521.5,405.2 522.5,405.1 523.5,405 524.5,404.9 525.5,404.9 526.5,404.8 527.5,404.8 528.5,404.8 529.5,404.8 530.5,404.9 531.5,404.9 532.5,405 533.5,405.1 534.5,405.2 535.5,405.3 536.5,405.4 537.5,405.5 538.5,405.6 539.5,405.8 540.5,405.9 541.5,406 542.5,406.1 543.5,406.2 544.5,406.3 545.5,406.4 546.5,406.4 547.5,406.5 548.5,406.6 549.5,406.6 550.5,406.6 551.5,406.7 552.5,406.7 553.5,406.7 554.5,406.7 555.5,406.8 556.5,406.8 557.5,406.8 558.5,406.8 559.5,406.8 560.5,406.8 561.5,406.8 562.5,406.8 563.5,406.8 564.5,406.8 565.5,406.8 566.5,406.8 567.5,406.8 568.5,406.8 569.5,406.8 570.5,406.8 571.5,406.8 572.5,406.8 573.5,406.8 574.5,406.8 575.5,406.8 576.5,406.8 577.5,406.8 578.5,406.8 579.5,406.8 580.5,406.8 581.5,406.8 582.5,406.8 583.5,406.8 584.5,406.8 585.5,406.8 586.5,406.8 587.5,406.8 588.5,406.8 589.5,406.8 590.5,406.8 591.5,406.8 592.5,406.8 593.5,406.8 594.5,406.8 595.5,406.8 595.5,417.8 594.5,417.8 593.5,417.8 592.5,417.8 591.5,417.8 590.5,417.8 589.5,417.8 588.5,417.8 587.5,417.8 586.5,417.8 585.5,417.8 584.5,417.8 583.5,417.8 582.5,417.8 581.5,417.8 580.5,417.8 579.5,417.8 578.5,417.8 577.5,417.8 576.5,417.8 575.5,417.8 574.5,417.8 573.5,417.8 572.5,417.8 571.5,417.8 570.5,417.8 569.5,417.8 568.5,417.8 567.5,417.8 566.5,417.8 565.5,417.8 564.5,417.8 563.5,417.8 562.5,417.8 561.5,417.8 560.5,417.8 559.5,417.8 558.5,417.8 557.5,417.8 556.5,417.8 555.5,417.8 554.5,417.9 553.5,417.9 552.5,417.9 551.5,417.9 550.5,418 549.5,418 548.5,418 547.5,418.1 546.5,418.2 545.5,418.2 544.5,418.3 543.5,418.4 542.5,418.5 541.5,418.6 540.5,418.7 539.5,418.8 538.5,419 537.5,419.1 536.5,419.2 535.5,419.3 534.5,419.4 533.5,419.5 532.5,419.6 531.5,419.7 530.5,419.7 529.5,419.8 528.5,419.8 527.5,419.8 526.5,419.8 525.5,419.7 524.5,419.7 523.5,419.6 522.5,419.5 521.5,419.4 520.5,419.3 519.5,419.2 518.5,419.1 517.5,419 516.5,418.8 515.5,418.7 514.5,418.6 513.5,418.5 512.5,418.4 511.5,418.3 510.5,418.2 509.5,418.2 508.5,418.1 507.5,418 506.5,418 505.5,418 504.5,417.9 503.5,417.9 502.5,417.9 501.5,417.9 500.5,417.8 499.5,417.8 498.5,417.8 497.5,417.8 496.5,417.8 495.5,417.8 494.5,417.8 493.5,417.8 492.5,417.8 491.5,417.8 490.5,417.8 489.5,417.8 488.5,417.8 487.5,417.8 486.5,417.8 485.5,417.8 484.5,417.8 483.5,417.8 482.5,417.8 481.5,417.8 480.5,417.8 479.5,417.8 478.5,417.8 477.5,417.8 476.5,417.8 475.5,417.8 474.5,417.8 473.5,417.8 472.5,417.8 471.5,417.8 470.5,417.8 469.5,417.8 468.5,417.8 467.5,417.8 466.5,417.8 465.5,417.8 464.5,417.8 463.5,417.8 462.5,417.8 461.5,417.8 460.5,417.8 459.5,417.8 458.5,417.8 457.5,417.8 456.5,417.8 455.5,417.8 454.5,417.8 453.5,417.8 452.5,417.8 451.5,417.8 450.5,417.8 449.5,417.8 448.5,417.8 447.5,417.8 446.5,417.8 445.5,417.8 444.5,417.8 443.5,417.8 442.5,417.8 441.5,417.8 440.5,417.8 439.5,417.8 438.5,417.8 437.5,417.8 436.5,417.8 435.5,417.8 434.5,417.8 433.5,417.8 432.5,417.8 431.5,417.8 430.5,417.8 429.5,417.8 428.5,417.8 427.5,417.8 426.5,417.8 425.5,417.8 424.5,417.8 423.5,417.8 422.5,417.8 421.5,417.8 420.5,417.8 419.5,417.8 418.5,417.8 417.5,417.8 416.5,417.8 415.5,417.8 414.5,417.8 413.5,417.8 412.5,417.8 411.5,417.8 410.5,417.8 409.5,417.8 408.5,417.8 407.5,417.8 406.5,417.8 405.5,417.8 404.5,417.8 403.5,417.8 402.5,417.8 401.5,417.8 400.5,417.8 399.5,417.8 398.5,417.8 397.5,417.8 396.5,417.8 395.5,417.8 394.5,417.8 393.5,417.8 392.5,417.8 391.5,417.8 390.5,417.8 389.5,417.8 388.5,417.8 387.5,417.8 386.5,417.8 385.5,417.9 384.5,417.9 383.5,417.9 382.5,417.9 381.5,418 380.5,418 379.5,418.1 378.5,418.2 377.5,418.3 376.5,418.4 375.5,418.5 374.5,418.6 373.5,418.7 372.5,418.9 371.5,419.1 370.5,419.3 369.5,419.5 368.5,419.7 367.5,419.9 366.5,420.2 365.5,420.4 364.5,420.6 363.5,420.8 362.5,421 361.5,421.1 360.5,421.3 359.5,421.4 358.5,421.5 357.5,421.5 356.5,421.5 355.5,421.5 354.5,421.4 353.5,421.3 352.5,421.1 351.5,421 350.5,420.8 349.5,420.6 348.5,420.4 347.5,420.2 346.5,419.9 345.5,419.7 344.5,419.5 343.5,419.3 342.5,419.1 341.5,418.9 340.5,418.7 339.5,418.6 338.5,418.5 337.5,418.4 336.5,418.3 335.5,418.2 334.5,418.1 333.5,418 332.5,418 331.5,417.9 330.5,417.9 329.5,417.9 328.5,417.9 327.5,417.8 326.5,417.8 325.5,417.8 324.5,417.8 323.5,417.8 322.5,417.8 321.5,417.8 320.5,417.8 319.5,417.8 318.5,417.8 317.5,417.8 316.5,417.8 315.5,417.8 314.5,417.8 313.5,417.8 312.5,417.8 311.5,417.8 310.5,417.8 309.5,417.8 308.5,417.8 307.5,417.8 306.5,417.8 305.5,417.8 304.5,417.8 303.5,417.8 302.5,417.8 301.5,417.8 300.5,417.8 299.5,417.8 298.5,417.8 297.5,417.8 296.5,417.8 295.5,417.8 294.5,417.8 293.5,417.8 292.5,417.8 291.5,417.8 290.5,417.8 289.5,417.8 288.5,417.8 287.5,417.8 286.5,417.8 285.5,417.8 284.5,417.8 283.5,417.8 282.5,417.8 281.5,417.8 280.5,417.8 279.5,417.8 278.5,417.8 277.5,417.8 276.5,417.8 275.5,417.8 274.5,417.8 273.5,417.8 272.5,417.8 271.5,417.8 270.5,417.8 269.5,417.8 268.5,417.8 267.5,417.8 266.5,417.8 265.5,417.8 264.5,417.8 263.5,417.8 262.5,417.8 261.5,417.8 260.5,417.8 259.5,417.8 258.5,417.8 257.5,417.8 256.5,417.8 255.5,417.8 254.5,417.8 253.5,417.8 252.5,417.8 251.5,417.8 250.5,417.8 249.5,417.8 248.5,417.8 247.5,417.8 246.5,417.8 245.5,417.8 244.5,417.8 243.5,417.8 242.5,417.8 241.5,417.8 240.5,417.8 239.5,417.8 238.5,417.8 237.5,417.8 236.5,417.8 235.5,417.8 234.5,417.8 233.5,417.8 232.5,417.8 231.5,417.8 230.5,417.8 229.5,417.8 228.5,417.8 227.5,417.8 226.5,417.8 225.5,417.8 224.5,417.8 223.5,417.8 222.5,417.8 221.5,417.8 220.5,417.8 219.5,417.8 218.5,417.8 217.5,417.8 216.5,417.8 215.5,417.8 214.5,417.8 213.5,417.8 212.5,417.8 211.5,417.8 210.5,417.8 209.5,417.8 208.5,417.8 207.5,417.8 206.5,417.8 205.5,417.8 204.5,417.8 203.5,417.8 202.5,417.8 201.5,417.8 200.5,417.8 199.5,417.8 198.5,417.8 197.5,417.8 196.5,417.8 195.5,417.8 194.5,417.8 193.5,417.8 192.5,417.8 191.5,417.8 190.5,417.8 189.5,417.8 188.5,417.8 187.5,417.8 186.5,417.8 185.5,417.8 184.5,417.8 183.5,417.8 182.5,417.8 181.5,417.8 180.5,417.8 179.5,417.8 178.5,417.9 177.5,417.9 176.5,417.9 175.5,418 174.5,418 173.5,418.1 172.5,418.1 171.5,418.2 170.5,418.3 169.5,418.5 168.5,418.6 167.5,418.8 166.5,418.9 165.5,419.1 164.5,419.3 163.5,419.6 162.5,419.8 161.5,420 160.5,420.3 159.5,420.5 158.5,420.7 157.5,420.9 156.5,421 155.5,421.2 154.5,421.3 153.5,421.3 152.5,421.3 151.5,421.3 150.5,421.2 149.5,421 148.5,420.9 147.5,420.7 146.5,420.5 145.5,420.3 144.5,420 143.5,419.8 142.5,419.6 141.5,419.3 140.5,419.1 139.5,418.9 138.5,418.8 137.5,418.6 136.5,418.5 135.5,418.3 134.5,418.2 133.5,418.1 132.5,418.1 131.5,418 130.5,418 129.5,417.9 128.5,417.9 127.5,417.9 126.5,417.8 125.5,417.8 124.5,417.8 123.5,417.8 122.5,417.8 121.5,417.8 120.5,417.8 119.5,417.8 118.5,417.8 117.5,417.8 116.5,417.8 115.5,417.8 114.5,417.8 113.5,417.8 112.5,417.8 111.5,417.8 110.5,417.8 109.5,417.8 108.5,417.8 107.5,417.8 106.5,417.8 105.5,417.8 104.5,417.8 103.5,417.8 102.5,417.8 101.5,417.8 100.5,417.8 99.5,417.8 98.5,417.8 97.5,417.8 96.5,417.8 95.5,417.8 94.5,417.8 93.5,417.8 92.5,417.8 91.5,417.8 90.5,417.8 89.5,417.8 88.5,417.8 87.5,417.8 86.5,417.8 85.5,417.8 84.5,417.8 83.5,417.8 82.5,417.8 81.5,417.8 80.5,417.8 79.5,417.8 78.5,417.8 77.5,417.8 76.5,417.8 75.5,417.8 74.5,417.8 73.5,417.8 72.5,417.8 71.5,417.8 70.5,417.8 69.5,417.8 68.5,417.8 67.5,417.8 66.5,417.8 65.5,417.8 64.5,417.8 63.5,417.8 62.5,417.8 61.5,417.8 60.5,417.8 59.5,417.8 58.5,417.8 57.5,417.8 56.5,417.8 55.5,417.8 54.5,417.8 53.5,417.8 52.5,417.8 51.5,417.8 50.5,417.8 49.5,417.8" fill="#cbcbcb" stroke="#a8a8a8" stroke-width="0.8"/>
<polyline points="49.5,402.5 53.4,402.5 53.4,404.6 56.3,404.6 56.3,406.7 57.6,406.7 57.6,408.4 60.5,408.4 60.5,404.6 62.2,404.6 62.2,427.5 64.2,427.5 64.2,415.5 66,415.5 66,413.4 70.5,413.4 70.5,408.8 73,408.8 73,401.3 75.5,401.3 75.5,412.1 77.2,412.1 77.2,409.6 79.7,409.6 79.7,413.4 81.8,413.4 81.8,422.5 84.2,422.5 84.2,413.4 88,413.4 88,416.8 90.5,416.8 90.5,419.3 93,419.3 93,411.9 95,411.9 95,411.7 98.8,411.7 98.8,420.8 103.8,420.8 103.8,409.2 105.4,409.2 105.4,420.7 109.6,420.7 109.6,411.9 112.1,411.9 112.1,410 114.6,410 114.6,418.2 116.7,418.2 116.7,411.6 118.3,411.6 118.3,417.1 120.4,417.1 120.4,402.9 122.5,402.9 122.5,414.9 123.8,414.9 123.8,416.4 127.1,416.4 127.1,413.5 129.2,413.5 129.2,423.7 131.7,423.7 131.7,404.9 133.8,404.9 133.8,414.9 135.8,414.9 135.8,404.6 137.9,404.6 137.9,405.5 140,405.5 140,404.6 142,404.6 142,397.9 144,397.9 144,413.3 146,413.3 146,408.8 148,408.8 148,409.4 151,409.4 151,398.4 153,398.4 153,410.5 155,410.5 155,424.6 157,424.6 157,408.7 159,408.7 159,392.5 161,392.5 161,397.7 164,397.7 164,400.9 166,400.9 166,421.1 168,421.1 168,410.7 172,410.7 172,417.6 174,417.6 174,415 176,415 176,415.8 178,415.8 178,420.3 180,420.3 180,407.3 182,407.3 182,417.4 184,417.4 184,418.4 186,418.4 186,416.6 188,416.6 188,406.8 190,406.8 190,408.2 192,408.2 192,407.2 194,407.2 194,416.2 195,416.2 195,407.2 198,407.2 198,416.2 200.5,416.2 200.5,413.2 202.5,413.2 202.5,407.7 204.5,407.7 204.5,419.7 206.5,419.7 206.5,413.2 207.5,413.2 207.5,419.2 209.5,419.2 209.5,409.2 211.5,409.2 211.5,410.2 213.5,410.2 213.5,413.7 215.5,413.7 215.5,422.2 217.5,422.2 217.5,427.2 219.5,427.2 219.5,411.7 221.5,411.7 221.5,414.7 224.5,414.7 224.5,412.2 226.5,412.2 226.5,416.2 228.5,416.2 228.5,411.2 230.5,411.2 230.5,422.2 233,422.2 233,423.7 235,423.7 235,425.7 237.5,425.7 237.5,424.2 239.5,424.2 239.5,408.7 243,408.7 243,412.7 245.5,412.7 245.5,417.2 247.5,417.2 247.5,408.7 249.5,408.7 249.5,416.2 251.5,416.2 251.5,411.2 253.5,411.2 253.5,408.7 255,408.7 255,410.7 257,410.7 257,410.2 260,410.2 260,409.2 262.5,409.2 262.5,415.7 264.5,415.7 264.5,412.7 266.5,412.7 266.5,414.2 269,414.2 269,413.2 271,413.2 271,414.2 273,414.2 273,418.7 275.5,418.7 275.5,413.7 279,413.7 279,403.2 281.5,403.2 281.5,407.2 283,407.2 283,408.7 285,408.7 285,422.7 287,422.7 287,421.2 289,421.2 289,417.2 290.5,417.2 290.5,408.2 292,408.2 292,416.2 294,416.2 294,410.2 295.5,410.2 295.5,409.2 297,409.2 297,407.2 299,407.2 299,411.2 301,411.2 301,414.2 303,414.2 303,410.7 305,410.7 305,421.2 307.5,421.2 307.5,410.2 309.5,410.2 309.5,398.7 312,398.7 312,408.2 314,408.2 314,415.2 316,415.2 316,410.7 318,410.7 318,411.2 320.5,411.2 320.5,410.7 322.5,410.7 322.5,414.2 324,414.2 324,420.2 326,420.2 326,418.2 328,418.2 328,414.2 330,414.2 330,406.2 332.5,406.2 332.5,412.2 334.5,412.2 334.5,421.7 336.5,421.7 336.5,410.7 339,410.7 339,404.2 341,404.2 341,415.2 343,415.2 343,407.2 345,407.2 345,404.7 347.5,404.7 347.5,420.2 349.5,420.2 349.5,414.2 351.5,414.2 351.5,407.2 353.5,407.2 353.5,410.2 355.5,410.2 355.5,404.2 357.5,404.2 357.5,401.2 359,401.2 359,400.2 361,400.2 361,402.2 363,402.2 363,408.7 365,408.7 365,410.2 366.5,410.2 366.5,399.2 369,399.2 369,401.7 371,401.7 371,416.2 373.5,416.2 373.5,418.2 375.5,418.2 375.5,419.7 377.5,419.7 377.5,414.2 379.5,414.2 379.5,413.2 381.5,413.2 381.5,405.7 383.5,405.7 383.5,401.7 385.5,401.7 385.5,399.7 388,399.7 388,407.7 390.5,407.7 390.5,410.2 393,410.2 393,407.7 396,407.7 396,408.7 398.5,408.7 398.5,413.7 401,413.7 401,412.7 403,412.7 403,414.7 405,414.7 405,408.7 407,408.7 407,410.7 409,410.7 409,412.7 411.5,412.7 411.5,408.2 413.5,408.2 413.5,401.7 415.5,401.7 415.5,406.7 418,406.7 418,411.7 419.5,411.7 419.5,416.7 421.5,416.7 421.5,414.2 423.5,414.2 423.5,416.7 426,416.7 426,406.7 428.8,406.7 428.8,410.9 430.4,410.9 430.4,406.7 432.1,406.7 432.1,414.2 434.2,414.2 434.2,407.1 436.7,407.1 436.7,425.5 440.8,425.5 440.8,415.9 442.9,415.9 442.9,411.7 445.4,411.7 445.4,427.1 447.5,427.1 447.5,415.5 449.6,415.5 449.6,425.9 451.7,425.9 451.7,414.2 453.8,414.2 453.8,406.3 456.2,406.3 456.2,405 458.3,405 458.3,408.4 460.4,408.4 460.4,419.6 462.1,419.6 462.1,406.3 464.2,406.3 464.2,406.7 466.7,406.7 466.7,400.9 468.8,400.9 468.8,408.8 470,408.8 470,409 472,409 472,421 476,421 476,408.3 478,408.3 478,434 481,434 481,413.3 483,413.3 483,402.5 485,402.5 485,391.7 488,391.7 488,399 490,399 490,406.7 492,406.7 492,421.3 495,421.3 495,397.5 497,397.5 497,390.3 500,390.3 500,386.7 503,386.7 503,396.7 505,396.7 505,428.3 507,428.3 507,433.3 509,433.3 509,429 511,429 511,410 513,410 513,389.7 515,389.7 515,405 517,405 517,414 519,414 519,422.5 521,422.5 521,415.8 523,415.8 523,412.5 525,412.5 525,402.5 527,402.5 527,409.7 530,409.7 530,383.7 532,383.7 532,395 534,395 534,408.3 537,408.3 537,425 540,425 540,419 543,419 543,400 546,400 546,403.3 549,403.3 549,411.7 551,411.7 551,425 553,425 553,398.3 556,398.3 556,400.8 558,400.8 558,410 561,410 561,420.8 565,420.8 566.9,423 569.7,423 569.7,401.7 571.8,401.7 571.8,408.7 575.3,408.7 575.3,417.1 577.4,417.1 577.4,409.7 579.1,409.7 579.1,410.8 580.2,410.8 580.2,412.2 581.9,412.2 581.9,413.6 583.7,413.6 583.7,416 585,416 585,418.5 587,418.5" fill="none" stroke="#111" stroke-width="1.3" stroke-linejoin="round" stroke-linejoin="miter"/>
</g>
<text x="135" y="64.4" font-size="13.2" fill="#111" font-weight="bold" text-anchor="start" textLength="93" lengthAdjust="spacingAndGlyphs" >Spectral extract</text>
<line x1="161.5" y1="69.7" x2="166.2" y2="89" stroke="#111" stroke-width="1.2"/>
<circle cx="166.2" cy="89" r="2.3" fill="#111"/>
<text x="188.2" y="120.6" font-size="13.2" fill="#a0a0a0" font-weight="bold" text-anchor="start" textLength="122" lengthAdjust="spacingAndGlyphs" >Modeled continuum</text>
<line x1="168.5" y1="100" x2="185.8" y2="118" stroke="#a0a0a0" stroke-width="1.2"/>
<circle cx="168.3" cy="100" r="2.2" fill="#a0a0a0"/>
<text x="204.2" y="166.5" font-size="13.2" fill="#3cc8eb" font-weight="bold" text-anchor="start" textLength="170.6" lengthAdjust="spacingAndGlyphs" >Combined (<tspan font-weight="normal" fill="#2b6cb3" font-size="11">H<tspan font-size="8" dy="3">2</tspan><tspan dy="-3">O</tspan></tspan>&amp;<tspan font-weight="normal" fill="#58a94c" font-size="11">CO</tspan>) models</text>
<line x1="175.7" y1="183.7" x2="200.7" y2="163.7" stroke="#3cc8eb" stroke-width="1.1"/>
<circle cx="175.75" cy="183.75" r="2.2" fill="#3cc6ec"/>
<text x="249.3" y="196.2" font-size="13.2" fill="#111" font-weight="bold" text-anchor="start" textLength="200" lengthAdjust="spacingAndGlyphs" >(continuum-subtracted residuals)</text>
<line x1="399" y1="198.5" x2="426.2" y2="216.4" stroke="#111" stroke-width="1.2"/>
<circle cx="426.2" cy="216.4" r="2.3" fill="#111"/>
<text x="187.3" y="271.2" font-size="17" fill="#2b6cb3" font-weight="normal" text-anchor="start" textLength="30" lengthAdjust="spacingAndGlyphs" >H<tspan font-size="11" dy="5">2</tspan><tspan dy="-5">O</tspan></text>
<text x="186.5" y="347" font-size="17" fill="#4ea04a" font-weight="normal" text-anchor="start" textLength="24" lengthAdjust="spacingAndGlyphs" >CO</text>
<text x="186.5" y="392.8" font-size="13" fill="#111" font-weight="normal" text-anchor="start" textLength="157.7" lengthAdjust="spacingAndGlyphs" >Residuals (±1σ uncertainty)</text>
<rect x="47.5" y="482.5" width="548.5" height="194" fill="none" stroke="#111" stroke-width="1.5"/>
<line x1="590.2" y1="676.5" x2="590.2" y2="671.5" stroke="#111" stroke-width="1.3"/>
<line x1="590.2" y1="482.5" x2="590.2" y2="487.5" stroke="#111" stroke-width="1.3"/>
<line x1="581.1" y1="676.5" x2="581.1" y2="671.5" stroke="#111" stroke-width="1.3"/>
<line x1="581.1" y1="482.5" x2="581.1" y2="487.5" stroke="#111" stroke-width="1.3"/>
<line x1="572" y1="676.5" x2="572" y2="671.5" stroke="#111" stroke-width="1.3"/>
<line x1="572" y1="482.5" x2="572" y2="487.5" stroke="#111" stroke-width="1.3"/>
<line x1="562.8" y1="676.5" x2="562.8" y2="671.5" stroke="#111" stroke-width="1.3"/>
<line x1="562.8" y1="482.5" x2="562.8" y2="487.5" stroke="#111" stroke-width="1.3"/>
<line x1="553.7" y1="676.5" x2="553.7" y2="671.5" stroke="#111" stroke-width="1.3"/>
<line x1="553.7" y1="482.5" x2="553.7" y2="487.5" stroke="#111" stroke-width="1.3"/>
<line x1="544.6" y1="676.5" x2="544.6" y2="666.5" stroke="#111" stroke-width="1.3"/>
<line x1="544.6" y1="482.5" x2="544.6" y2="492.5" stroke="#111" stroke-width="1.3"/>
<line x1="535.5" y1="676.5" x2="535.5" y2="671.5" stroke="#111" stroke-width="1.3"/>
<line x1="535.5" y1="482.5" x2="535.5" y2="487.5" stroke="#111" stroke-width="1.3"/>
<line x1="526.4" y1="676.5" x2="526.4" y2="671.5" stroke="#111" stroke-width="1.3"/>
<line x1="526.4" y1="482.5" x2="526.4" y2="487.5" stroke="#111" stroke-width="1.3"/>
<line x1="517.2" y1="676.5" x2="517.2" y2="671.5" stroke="#111" stroke-width="1.3"/>
<line x1="517.2" y1="482.5" x2="517.2" y2="487.5" stroke="#111" stroke-width="1.3"/>
<line x1="508.1" y1="676.5" x2="508.1" y2="671.5" stroke="#111" stroke-width="1.3"/>
<line x1="508.1" y1="482.5" x2="508.1" y2="487.5" stroke="#111" stroke-width="1.3"/>
<line x1="499" y1="676.5" x2="499" y2="671.5" stroke="#111" stroke-width="1.3"/>
<line x1="499" y1="482.5" x2="499" y2="487.5" stroke="#111" stroke-width="1.3"/>
<line x1="489.9" y1="676.5" x2="489.9" y2="671.5" stroke="#111" stroke-width="1.3"/>
<line x1="489.9" y1="482.5" x2="489.9" y2="487.5" stroke="#111" stroke-width="1.3"/>
<line x1="480.8" y1="676.5" x2="480.8" y2="671.5" stroke="#111" stroke-width="1.3"/>
<line x1="480.8" y1="482.5" x2="480.8" y2="487.5" stroke="#111" stroke-width="1.3"/>
<line x1="471.6" y1="676.5" x2="471.6" y2="671.5" stroke="#111" stroke-width="1.3"/>
<line x1="471.6" y1="482.5" x2="471.6" y2="487.5" stroke="#111" stroke-width="1.3"/>
<line x1="462.5" y1="676.5" x2="462.5" y2="671.5" stroke="#111" stroke-width="1.3"/>
<line x1="462.5" y1="482.5" x2="462.5" y2="487.5" stroke="#111" stroke-width="1.3"/>
<line x1="453.4" y1="676.5" x2="453.4" y2="666.5" stroke="#111" stroke-width="1.3"/>
<line x1="453.4" y1="482.5" x2="453.4" y2="492.5" stroke="#111" stroke-width="1.3"/>
<line x1="444.3" y1="676.5" x2="444.3" y2="671.5" stroke="#111" stroke-width="1.3"/>
<line x1="444.3" y1="482.5" x2="444.3" y2="487.5" stroke="#111" stroke-width="1.3"/>
<line x1="435.2" y1="676.5" x2="435.2" y2="671.5" stroke="#111" stroke-width="1.3"/>
<line x1="435.2" y1="482.5" x2="435.2" y2="487.5" stroke="#111" stroke-width="1.3"/>
<line x1="426" y1="676.5" x2="426" y2="671.5" stroke="#111" stroke-width="1.3"/>
<line x1="426" y1="482.5" x2="426" y2="487.5" stroke="#111" stroke-width="1.3"/>
<line x1="416.9" y1="676.5" x2="416.9" y2="671.5" stroke="#111" stroke-width="1.3"/>
<line x1="416.9" y1="482.5" x2="416.9" y2="487.5" stroke="#111" stroke-width="1.3"/>
<line x1="407.8" y1="676.5" x2="407.8" y2="671.5" stroke="#111" stroke-width="1.3"/>
<line x1="407.8" y1="482.5" x2="407.8" y2="487.5" stroke="#111" stroke-width="1.3"/>
<line x1="398.7" y1="676.5" x2="398.7" y2="671.5" stroke="#111" stroke-width="1.3"/>
<line x1="398.7" y1="482.5" x2="398.7" y2="487.5" stroke="#111" stroke-width="1.3"/>
<line x1="389.6" y1="676.5" x2="389.6" y2="671.5" stroke="#111" stroke-width="1.3"/>
<line x1="389.6" y1="482.5" x2="389.6" y2="487.5" stroke="#111" stroke-width="1.3"/>
<line x1="380.4" y1="676.5" x2="380.4" y2="671.5" stroke="#111" stroke-width="1.3"/>
<line x1="380.4" y1="482.5" x2="380.4" y2="487.5" stroke="#111" stroke-width="1.3"/>
<line x1="371.3" y1="676.5" x2="371.3" y2="671.5" stroke="#111" stroke-width="1.3"/>
<line x1="371.3" y1="482.5" x2="371.3" y2="487.5" stroke="#111" stroke-width="1.3"/>
<line x1="362.2" y1="676.5" x2="362.2" y2="666.5" stroke="#111" stroke-width="1.3"/>
<line x1="362.2" y1="482.5" x2="362.2" y2="492.5" stroke="#111" stroke-width="1.3"/>
<line x1="353.1" y1="676.5" x2="353.1" y2="671.5" stroke="#111" stroke-width="1.3"/>
<line x1="353.1" y1="482.5" x2="353.1" y2="487.5" stroke="#111" stroke-width="1.3"/>
<line x1="344" y1="676.5" x2="344" y2="671.5" stroke="#111" stroke-width="1.3"/>
<line x1="344" y1="482.5" x2="344" y2="487.5" stroke="#111" stroke-width="1.3"/>
<line x1="334.8" y1="676.5" x2="334.8" y2="671.5" stroke="#111" stroke-width="1.3"/>
<line x1="334.8" y1="482.5" x2="334.8" y2="487.5" stroke="#111" stroke-width="1.3"/>
<line x1="325.7" y1="676.5" x2="325.7" y2="671.5" stroke="#111" stroke-width="1.3"/>
<line x1="325.7" y1="482.5" x2="325.7" y2="487.5" stroke="#111" stroke-width="1.3"/>
<line x1="316.6" y1="676.5" x2="316.6" y2="671.5" stroke="#111" stroke-width="1.3"/>
<line x1="316.6" y1="482.5" x2="316.6" y2="487.5" stroke="#111" stroke-width="1.3"/>
<line x1="307.5" y1="676.5" x2="307.5" y2="671.5" stroke="#111" stroke-width="1.3"/>
<line x1="307.5" y1="482.5" x2="307.5" y2="487.5" stroke="#111" stroke-width="1.3"/>
<line x1="298.4" y1="676.5" x2="298.4" y2="671.5" stroke="#111" stroke-width="1.3"/>
<line x1="298.4" y1="482.5" x2="298.4" y2="487.5" stroke="#111" stroke-width="1.3"/>
<line x1="289.2" y1="676.5" x2="289.2" y2="671.5" stroke="#111" stroke-width="1.3"/>
<line x1="289.2" y1="482.5" x2="289.2" y2="487.5" stroke="#111" stroke-width="1.3"/>
<line x1="280.1" y1="676.5" x2="280.1" y2="671.5" stroke="#111" stroke-width="1.3"/>
<line x1="280.1" y1="482.5" x2="280.1" y2="487.5" stroke="#111" stroke-width="1.3"/>
<line x1="271" y1="676.5" x2="271" y2="666.5" stroke="#111" stroke-width="1.3"/>
<line x1="271" y1="482.5" x2="271" y2="492.5" stroke="#111" stroke-width="1.3"/>
<line x1="261.9" y1="676.5" x2="261.9" y2="671.5" stroke="#111" stroke-width="1.3"/>
<line x1="261.9" y1="482.5" x2="261.9" y2="487.5" stroke="#111" stroke-width="1.3"/>
<line x1="252.8" y1="676.5" x2="252.8" y2="671.5" stroke="#111" stroke-width="1.3"/>
<line x1="252.8" y1="482.5" x2="252.8" y2="487.5" stroke="#111" stroke-width="1.3"/>
<line x1="243.6" y1="676.5" x2="243.6" y2="671.5" stroke="#111" stroke-width="1.3"/>
<line x1="243.6" y1="482.5" x2="243.6" y2="487.5" stroke="#111" stroke-width="1.3"/>
<line x1="234.5" y1="676.5" x2="234.5" y2="671.5" stroke="#111" stroke-width="1.3"/>
<line x1="234.5" y1="482.5" x2="234.5" y2="487.5" stroke="#111" stroke-width="1.3"/>
<line x1="225.4" y1="676.5" x2="225.4" y2="671.5" stroke="#111" stroke-width="1.3"/>
<line x1="225.4" y1="482.5" x2="225.4" y2="487.5" stroke="#111" stroke-width="1.3"/>
<line x1="216.3" y1="676.5" x2="216.3" y2="671.5" stroke="#111" stroke-width="1.3"/>
<line x1="216.3" y1="482.5" x2="216.3" y2="487.5" stroke="#111" stroke-width="1.3"/>
<line x1="207.2" y1="676.5" x2="207.2" y2="671.5" stroke="#111" stroke-width="1.3"/>
<line x1="207.2" y1="482.5" x2="207.2" y2="487.5" stroke="#111" stroke-width="1.3"/>
<line x1="198" y1="676.5" x2="198" y2="671.5" stroke="#111" stroke-width="1.3"/>
<line x1="198" y1="482.5" x2="198" y2="487.5" stroke="#111" stroke-width="1.3"/>
<line x1="188.9" y1="676.5" x2="188.9" y2="671.5" stroke="#111" stroke-width="1.3"/>
<line x1="188.9" y1="482.5" x2="188.9" y2="487.5" stroke="#111" stroke-width="1.3"/>
<line x1="179.8" y1="676.5" x2="179.8" y2="666.5" stroke="#111" stroke-width="1.3"/>
<line x1="179.8" y1="482.5" x2="179.8" y2="492.5" stroke="#111" stroke-width="1.3"/>
<line x1="170.7" y1="676.5" x2="170.7" y2="671.5" stroke="#111" stroke-width="1.3"/>
<line x1="170.7" y1="482.5" x2="170.7" y2="487.5" stroke="#111" stroke-width="1.3"/>
<line x1="161.6" y1="676.5" x2="161.6" y2="671.5" stroke="#111" stroke-width="1.3"/>
<line x1="161.6" y1="482.5" x2="161.6" y2="487.5" stroke="#111" stroke-width="1.3"/>
<line x1="152.4" y1="676.5" x2="152.4" y2="671.5" stroke="#111" stroke-width="1.3"/>
<line x1="152.4" y1="482.5" x2="152.4" y2="487.5" stroke="#111" stroke-width="1.3"/>
<line x1="143.3" y1="676.5" x2="143.3" y2="671.5" stroke="#111" stroke-width="1.3"/>
<line x1="143.3" y1="482.5" x2="143.3" y2="487.5" stroke="#111" stroke-width="1.3"/>
<line x1="134.2" y1="676.5" x2="134.2" y2="671.5" stroke="#111" stroke-width="1.3"/>
<line x1="134.2" y1="482.5" x2="134.2" y2="487.5" stroke="#111" stroke-width="1.3"/>
<line x1="125.1" y1="676.5" x2="125.1" y2="671.5" stroke="#111" stroke-width="1.3"/>
<line x1="125.1" y1="482.5" x2="125.1" y2="487.5" stroke="#111" stroke-width="1.3"/>
<line x1="116" y1="676.5" x2="116" y2="671.5" stroke="#111" stroke-width="1.3"/>
<line x1="116" y1="482.5" x2="116" y2="487.5" stroke="#111" stroke-width="1.3"/>
<line x1="106.8" y1="676.5" x2="106.8" y2="671.5" stroke="#111" stroke-width="1.3"/>
<line x1="106.8" y1="482.5" x2="106.8" y2="487.5" stroke="#111" stroke-width="1.3"/>
<line x1="97.7" y1="676.5" x2="97.7" y2="671.5" stroke="#111" stroke-width="1.3"/>
<line x1="97.7" y1="482.5" x2="97.7" y2="487.5" stroke="#111" stroke-width="1.3"/>
<line x1="88.6" y1="676.5" x2="88.6" y2="666.5" stroke="#111" stroke-width="1.3"/>
<line x1="88.6" y1="482.5" x2="88.6" y2="492.5" stroke="#111" stroke-width="1.3"/>
<line x1="79.5" y1="676.5" x2="79.5" y2="671.5" stroke="#111" stroke-width="1.3"/>
<line x1="79.5" y1="482.5" x2="79.5" y2="487.5" stroke="#111" stroke-width="1.3"/>
<line x1="70.4" y1="676.5" x2="70.4" y2="671.5" stroke="#111" stroke-width="1.3"/>
<line x1="70.4" y1="482.5" x2="70.4" y2="487.5" stroke="#111" stroke-width="1.3"/>
<line x1="61.2" y1="676.5" x2="61.2" y2="671.5" stroke="#111" stroke-width="1.3"/>
<line x1="61.2" y1="482.5" x2="61.2" y2="487.5" stroke="#111" stroke-width="1.3"/>
<line x1="52.1" y1="676.5" x2="52.1" y2="671.5" stroke="#111" stroke-width="1.3"/>
<line x1="52.1" y1="482.5" x2="52.1" y2="487.5" stroke="#111" stroke-width="1.3"/>
<text x="87.8" y="690.5" font-size="13.5" fill="#111" font-weight="normal" text-anchor="middle" textLength="30.5" lengthAdjust="spacingAndGlyphs"  stroke="#111" stroke-width="0.3">2986</text>
<text x="179" y="690.5" font-size="13.5" fill="#111" font-weight="normal" text-anchor="middle" textLength="30.5" lengthAdjust="spacingAndGlyphs"  stroke="#111" stroke-width="0.3">2985</text>
<text x="270.2" y="690.5" font-size="13.5" fill="#111" font-weight="normal" text-anchor="middle" textLength="30.5" lengthAdjust="spacingAndGlyphs"  stroke="#111" stroke-width="0.3">2984</text>
<text x="361.4" y="690.5" font-size="13.5" fill="#111" font-weight="normal" text-anchor="middle" textLength="30.5" lengthAdjust="spacingAndGlyphs"  stroke="#111" stroke-width="0.3">2983</text>
<text x="452.6" y="690.5" font-size="13.5" fill="#111" font-weight="normal" text-anchor="middle" textLength="30.5" lengthAdjust="spacingAndGlyphs"  stroke="#111" stroke-width="0.3">2982</text>
<text x="543.8" y="690.5" font-size="13.5" fill="#111" font-weight="normal" text-anchor="middle" textLength="30.5" lengthAdjust="spacingAndGlyphs"  stroke="#111" stroke-width="0.3">2981</text>
<text x="256.3" y="706.8" font-size="15.6" fill="#000" stroke="#000" stroke-width="0.2" textLength="140.5" lengthAdjust="spacingAndGlyphs">Wavenumber (cm<tspan dy="-6" font-size="9.5">-1</tspan><tspan dy="6">)</tspan></text>
<text transform="translate(15,687.2) rotate(-90)" font-size="16.5" fill="#000" stroke="#000" stroke-width="0.2" textLength="214" lengthAdjust="spacingAndGlyphs">Flux Density (10<tspan dy="-6" font-size="10">-17</tspan><tspan dy="6"> W/m</tspan><tspan dy="-6" font-size="10">2</tspan><tspan dy="6">/cm</tspan><tspan dy="-6" font-size="10">-1</tspan><tspan dy="6">)</tspan></text>
<line x1="47.5" y1="658.7" x2="52" y2="658.7" stroke="#111" stroke-width="1.3"/>
<line x1="596" y1="658.7" x2="591.5" y2="658.7" stroke="#111" stroke-width="1.3"/>
<line x1="47.5" y1="604.1" x2="52" y2="604.1" stroke="#111" stroke-width="1.3"/>
<line x1="596" y1="604.1" x2="591.5" y2="604.1" stroke="#111" stroke-width="1.3"/>
<line x1="47.5" y1="549.4" x2="52" y2="549.4" stroke="#111" stroke-width="1.3"/>
<line x1="596" y1="549.4" x2="591.5" y2="549.4" stroke="#111" stroke-width="1.3"/>
<line x1="47.5" y1="494.8" x2="52" y2="494.8" stroke="#111" stroke-width="1.3"/>
<line x1="596" y1="494.8" x2="591.5" y2="494.8" stroke="#111" stroke-width="1.3"/>
<text x="42.9" y="498.6" font-size="13.5" fill="#111" font-weight="normal" text-anchor="end"  stroke="#111" stroke-width="0.3">150</text>
<text x="42.9" y="553.2" font-size="13.5" fill="#111" font-weight="normal" text-anchor="end"  stroke="#111" stroke-width="0.3">100</text>
<text x="42.9" y="607.9" font-size="13.5" fill="#111" font-weight="normal" text-anchor="end"  stroke="#111" stroke-width="0.3">50</text>
<text x="41.8" y="662.5" font-size="13.5" fill="#111" font-weight="normal" text-anchor="end"  stroke="#111" stroke-width="0.3">0</text>
<circle cx="64.7" cy="498" r="7.6" fill="#b4b4b4" stroke="#8a8a8a" stroke-width="1.3"/>
<text x="64.7" y="501.6" font-size="10" fill="#111" font-weight="normal" text-anchor="middle" >B</text>
<g clip-path="url(#clipB)">
<polyline points="47.5,519.5 48.5,519.5 49.5,519.4 50.5,519.4 51.5,519.4 52.5,519.3 53.5,519.3 54.5,519.3 55.5,519.2 56.5,519.2 57.5,519.2 58.5,519.1 59.5,519.1 60.5,519 61.5,519 62.5,519 63.5,518.9 64.5,518.9 65.5,518.8 66.5,518.8 67.5,518.7 68.5,518.7 69.5,518.6 70.5,518.6 71.5,518.5 72.5,518.5 73.5,518.4 74.5,518.3 75.5,518.3 76.5,518.2 77.5,518.1 78.5,518 79.5,517.9 80.5,517.9 81.5,517.8 82.5,517.7 83.5,517.6 84.5,517.5 85.5,517.4 86.5,517.3 87.5,517.2 88.5,517.2 89.5,517.1 90.5,517 91.5,517 92.5,516.9 93.5,516.9 94.5,516.8 95.5,516.8 96.5,516.8 97.5,516.8 98.5,516.9 99.5,517.1 100.5,517.4 101.5,517.7 102.5,518.1 103.5,518.5 104.5,518.9 105.5,519.3 106.5,519.8 107.5,520.2 108.5,520.8 109.5,521.4 110.5,522.1 111.5,522.7 112.5,523.3 113.5,523.8 114.5,524.3 115.5,524.7 116.5,525.2 117.5,525.8 118.5,526.5 119.5,527.2 120.5,527.9 121.5,528.2 122.5,528.3 123.5,528.1 124.5,527.7 125.5,527.2 126.5,526.7 127.5,526.2 128.5,525.6 129.5,524.9 130.5,524.1 131.5,523.4 132.5,522.6 133.5,521.8 134.5,521 135.5,520.2 136.5,519.7 137.5,519.4 138.5,519.1 139.5,518.9 140.5,518.7 141.5,518.5 142.5,518.3 143.5,518.2 144.5,518.1 145.5,518 146.5,518 147.5,518 148.5,518 149.5,518.1 150.5,518.2 151.5,518.3 152.5,518.4 153.5,518.5 154.5,518.6 155.5,518.8 156.5,519 157.5,519.1 158.5,519.3 159.5,519.4 160.5,519.6 161.5,519.7 162.5,519.9 163.5,520.1 164.5,520.4 165.5,520.6 166.5,520.8 167.5,521.1 168.5,521.3 169.5,521.5 170.5,521.7 171.5,521.9 172.5,522.1 173.5,522.3 174.5,522.5 175.5,522.7 176.5,522.8 177.5,523 178.5,523.2 179.5,523.4 180.5,523.5 181.5,523.7 182.5,523.8 183.5,523.9 184.5,524 185.5,524 186.5,524.1 187.5,524.1 188.5,524.2 189.5,524.2 190.5,524.3 191.5,524.3 192.5,524.4 193.5,524.4 194.5,524.4 195.5,524.4 196.5,524.5 197.5,524.5 198.5,524.5 199.5,524.5 200.5,524.5 201.5,524.5 202.5,524.5 203.5,524.4 204.5,524.4 205.5,524.3 206.5,524.3 207.5,524.2 208.5,524.2 209.5,524.1 210.5,524.1 211.5,524 212.5,524 213.5,524 214.5,524 215.5,524 216.5,524 217.5,524.1 218.5,524.1 219.5,524.2 220.5,524.2 221.5,524.3 222.5,524.4 223.5,524.5 224.5,524.5 225.5,524.6 226.5,524.7 227.5,524.8 228.5,524.9 229.5,525 230.5,525 231.5,525.1 232.5,525.2 233.5,525.3 234.5,525.3 235.5,525.4 236.5,525.4 237.5,525.5 238.5,525.5 239.5,525.5 240.5,525.5 241.5,525.5 242.5,525.5 243.5,525.5 244.5,525.5 245.5,525.4 246.5,525.4 247.5,525.4 248.5,525.3 249.5,525.3 250.5,525.3 251.5,525.2 252.5,525.2 253.5,525.1 254.5,525 255.5,525 256.5,524.9 257.5,524.8 258.5,524.8 259.5,524.7 260.5,524.6 261.5,524.5 262.5,524.4 263.5,524.3 264.5,524 265.5,523.6 266.5,523.3 267.5,522.9 268.5,522.5 269.5,522.2 270.5,521.9 271.5,521.6 272.5,521.5 273.5,521.5 274.5,521.8 275.5,522.2 276.5,522.7 277.5,523.3 278.5,524 279.5,524.7 280.5,525.3 281.5,526.1 282.5,527 283.5,527.9 284.5,528.8 285.5,529.8 286.5,530.7 287.5,531.6 288.5,532.4 289.5,533.3 290.5,534.2 291.5,535 292.5,535.4 293.5,535.5 294.5,535.1 295.5,534.5 296.5,533.6 297.5,532.7 298.5,531.8 299.5,530.9 300.5,530.1 301.5,529.3 302.5,528.5 303.5,527.6 304.5,526.8 305.5,526 306.5,525.3 307.5,524.7 308.5,524.3 309.5,523.9 310.5,523.5 311.5,523.1 312.5,522.8 313.5,522.6 314.5,522.5 315.5,522.5 316.5,522.6 317.5,522.7 318.5,522.8 319.5,523 320.5,523.2 321.5,523.5 322.5,523.8 323.5,524 324.5,524.3 325.5,524.6 326.5,524.8 327.5,525.1 328.5,525.3 329.5,525.4 330.5,525.6 331.5,525.7 332.5,525.8 333.5,526 334.5,526.1 335.5,526.2 336.5,526.3 337.5,526.4 338.5,526.5 339.5,526.5 340.5,526.5 341.5,526.4 342.5,526.3 343.5,526.1 344.5,525.9 345.5,525.6 346.5,525.4 347.5,525.1 348.5,524.8 349.5,524.4 350.5,524.1 351.5,523.9 352.5,523.6 353.5,523.4 354.5,523.2 355.5,523.1 356.5,523 357.5,523 358.5,523 359.5,523.1 360.5,523.2 361.5,523.3 362.5,523.4 363.5,523.6 364.5,523.8 365.5,523.9 366.5,524.1 367.5,524.3 368.5,524.5 369.5,524.7 370.5,525 371.5,525.2 372.5,525.4 373.5,525.6 374.5,525.8 375.5,525.9 376.5,526.1 377.5,526.2 378.5,526.4 379.5,526.5 380.5,526.5 381.5,526.6 382.5,526.7 383.5,526.8 384.5,526.8 385.5,526.9 386.5,527 387.5,527 388.5,527.1 389.5,527.2 390.5,527.2 391.5,527.3 392.5,527.3 393.5,527.4 394.5,527.4 395.5,527.4 396.5,527.5 397.5,527.5 398.5,527.5 399.5,527.5 400.5,527.5 401.5,527.4 402.5,527.4 403.5,527.2 404.5,527 405.5,526.9 406.5,526.6 407.5,526.4 408.5,526.1 409.5,525.9 410.5,525.6 411.5,525.4 412.5,525.1 413.5,524.9 414.5,524.6 415.5,524.2 416.5,523.9 417.5,523.5 418.5,523.2 419.5,522.8 420.5,522.5 421.5,522.3 422.5,522.1 423.5,521.9 424.5,521.9 425.5,521.8 426.5,521.7 427.5,521.6 428.5,521.6 429.5,521.5 430.5,521.4 431.5,521.4 432.5,521.3 433.5,521.3 434.5,521.3 435.5,521.2 436.5,521.2 437.5,521.1 438.5,521.1 439.5,521 440.5,521 441.5,520.9 442.5,520.9 443.5,520.8 444.5,520.7 445.5,520.7 446.5,520.6 447.5,520.5 448.5,520.5 449.5,520.4 450.5,520.3 451.5,520.3 452.5,520.2 453.5,520.2 454.5,520.1 455.5,520.1 456.5,520.1 457.5,520 458.5,520 459.5,520 460.5,520 461.5,520 462.5,520 463.5,520 464.5,520 465.5,520 466.5,520 467.5,520 468.5,520 469.5,520 470.5,520 471.5,520 472.5,520 473.5,520 474.5,520 475.5,520 476.5,520 477.5,520 478.5,520 479.5,520 480.5,520 481.5,520 482.5,520 483.5,520 484.5,520 485.5,520 486.5,520 487.5,520 488.5,520 489.5,520 490.5,520 491.5,520.2 492.5,520.5 493.5,521 494.5,521.5 495.5,522.1 496.5,522.8 497.5,523.4 498.5,524.1 499.5,524.7 500.5,525.3 501.5,526 502.5,526.8 503.5,527.6 504.5,528.4 505.5,529.1 506.5,529.7 507.5,530.2 508.5,530.5 509.5,530.5 510.5,530.4 511.5,530.3 512.5,530.2 513.5,530 514.5,529.8 515.5,529.5 516.5,529.3 517.5,529 518.5,528.8 519.5,528.6 520.5,528.4 521.5,528.2 522.5,528 523.5,527.8 524.5,527.6 525.5,527.4 526.5,527.2 527.5,527 528.5,526.8 529.5,526.6 530.5,526.4 531.5,526.1 532.5,525.9 533.5,525.6 534.5,525.3 535.5,525.1 536.5,524.8 537.5,524.6 538.5,524.3 539.5,524.1 540.5,523.9 541.5,523.7 542.5,523.5 543.5,523.4 544.5,523.2 545.5,523 546.5,522.9 547.5,522.8 548.5,522.6 549.5,522.5 550.5,522.5 551.5,522.4 552.5,522.3 553.5,522.2 554.5,522.2 555.5,522.1 556.5,522.1 557.5,522 558.5,522 559.5,522 560.5,522 561.5,522 562.5,522 563.5,522.1 564.5,522.1 565.5,522.2 566.5,522.2 567.5,522.3 568.5,522.4 569.5,522.5 570.5,522.5 571.5,522.7 572.5,522.9 573.5,523.1 574.5,523.3 575.5,523.5 576.5,523.8 577.5,524 578.5,524.2 579.5,524.4 580.5,524.6 581.5,524.7 582.5,524.9 583.5,525 584.5,525.2 585.5,525.3 586.5,525.4 587.5,525.5 588.5,525.6 589.5,525.6 590.5,525.6 591.5,525.6 592.5,525.5 593.5,525.5 594.5,525.4 595.5,525.3" fill="none" stroke="#a6a6a6" stroke-width="2.8" stroke-linejoin="round" stroke-dasharray="3.5,3"/>
<polyline points="47.5,517.5 51.7,517.5 51.7,522.6 54.3,522.6 54.3,519.5 57.7,519.5 57.7,517.2 60.3,517.2 60.3,519.3 61.7,519.3 61.7,520 65,520 65,520.5 67,520.5 67,519.8 69,519.8 69,520.3 71.7,520.3 71.7,519.6 73.7,519.6 73.7,525.3 76.3,525.3 76.3,517.1 78.3,517.1 78.3,519.9 79.7,519.9 79.7,518.3 81.7,518.3 81.7,516.7 84.3,516.7 84.3,515.8 87,515.8 87,523 89.7,523 89.7,515.5 93,515.5 93,516.2 95.7,516.2 95.7,517.6 99,517.6 99,519.2 101.7,519.2 101.7,517.1 104.3,517.1 104.3,514.5 107,514.5 107,513.8 109.7,513.8 109.7,519.1 112.3,519.1 112.3,518.4 115,518.4 115,518.5 117.7,518.5 117.7,518.4 120.3,518.4 120.3,517.9 123,517.9 123,520 125,520 125,520.3 128.3,520.3 128.3,519.2 131,519.2 131,518.7 133.7,518.7 133.7,514.7 135.7,514.7 135.7,515.4 138.3,515.4 138.3,516.3 141,516.3 141,517.9 144.3,517.9 144.3,514 147,514 147,515.4 149,515.4 149,523.6 151,523.6 151,515.7 153,515.7 153,523.6 156.3,523.6 156.3,516 158.3,516 158.3,512 160.3,512 160.3,519 163,519 163,517.9 165,517.9 165,509.5 167,509.5 167,515.1 169,515.1 169,517 171,517 171,519.6 173,519.6 173,525.1 175,525.1 175,516.7 177.7,516.7 177.7,520.1 179.7,520.1 179.7,518.3 182.3,518.3 182.3,517.9 185.7,517.9 185.7,521.6 187.7,521.6 187.7,516.6 190.3,516.6 190.3,518.9 193,518.9 193,524.8 195,524.8 195,521.8 197.7,521.8 197.7,523.4 201,523.4 201,529.2 203,529.2 203,529.2 205.7,529.2 205.7,527.7 208.3,527.7 208.3,523.9 211,523.9 211,521 213,521 213,519.5 215.7,519.5 215.7,522.5 217.7,522.5 217.7,529.1 219.7,529.1 219.7,521.9 222.3,521.9 222.3,521.4 225,521.4 225,520 227.7,520 227.7,522.4 230.3,522.4 230.3,523.3 233.7,523.3 233.7,524.3 237,524.3 237,525 240.3,525 240.3,526.6 243,526.6 243,521.3 245.7,521.3 245.7,522 249,522 249,521 251.7,521 251.7,523 254.3,523 254.3,525 256.3,525 256.3,528.4 259,528.4 259,521.5 261.7,521.5 261.7,522 264.3,522 264.3,524.3 267,524.3 267,525.6 269.7,525.6 269.7,522 272.3,522 272.3,518.3 275.7,518.3 275.7,521.1 278.3,521.1 278.3,525.9 281,525.9 281,525.5 283,525.5 283,526 285,526 285,535.4 287,535.4 287,531.4 289,531.4 289,536.8 291,536.8 291,534.8 293.7,534.8 293.7,532.8 295.7,532.8 295.7,534.3 297.7,534.3 297.7,538.2 299.7,538.2 299.7,530 301.7,530 301.7,525.9 304.3,525.9 304.3,522.6 306.3,522.6 306.3,518.7 309.7,518.7 309.7,517.9 313,517.9 313,524.3 315.7,524.3 315.7,521.5 318.3,521.5 318.3,522.6 321,522.6 321,524.8 323.7,524.8 323.7,522.5 326.3,522.5 326.3,522.4 329,522.4 329,521.5 331.7,521.5 331.7,520.5 335,520.5 335,521.6 338.3,521.6 338.3,519.6 340.3,519.6 340.3,528.4 343,528.4 343,524.1 346.3,524.1 346.3,524 349,524 349,526 351.7,526 351.7,522.4 354.3,522.4 354.3,520.4 357,520.4 357,519.7 359,519.7 359,520.5 361.7,520.5 361.7,520.2 364.3,520.2 364.3,522 366.3,522 366.3,524.6 368.3,524.6 368.3,517.7 370.3,517.7 370.3,523.2 372.3,523.2 372.3,524.4 374.3,524.4 374.3,526.3 377,526.3 377,525.9 379,525.9 379,528.3 381.7,528.3 381.7,526.3 385,526.3 385,522.1 387,522.1 387,524.4 389.7,524.4 389.7,518 392.3,518 392.3,525.5 395,525.5 395,526.3 398.3,526.3 398.3,529.2 401,529.2 401,526.3 403,526.3 403,529.4 406.3,529.4 406.3,527.1 409,527.1 409,523.3 411.7,523.3 411.7,525.5 413.7,525.5 413.7,523.1 419.7,523.1 419.7,522.6 423,522.6 423,524.3 425.7,524.3 425.7,525.7 428.3,525.7 428.3,523.3 431,523.3 431,521 433.7,521 433.7,521.5 437,521.5 437,519.9 439.7,519.9 439.7,517.6 441.7,517.6 441.7,513.4 444.3,513.4 444.3,512.6 447,512.6 447,511.4 449.7,511.4 449.7,509.6 451.7,509.6 451.7,510.7 453.7,510.7 453.7,516.3 455.7,516.3 455.7,518.1 458.3,518.1 458.3,514.7 460.3,514.7 460.3,512.9 463,512.9 463,513.7 465,513.7 465,516.2 467,516.2 467,512.6 470.3,512.6 470.3,512.9 473.7,512.9 473.7,514.9 476.3,514.9 476.3,518.4 478.3,518.4 478.3,519.8 481,519.8 481,520.6 483.7,520.6 483.7,519.9 485.7,519.9 485.7,519.3 487.7,519.3 487.7,517.4 489.7,517.4 489.7,523.5 491.7,523.5 491.7,525.5 493.7,525.5 493.7,521.2 495.7,521.2 495.7,523.7 498.3,523.7 498.3,528 501,528 501,532.2 503,532.2 503,530.9 505.7,530.9 505.7,530.7 508.3,530.7 508.3,528.3 510.3,528.3 510.3,526.8 512.3,526.8 512.3,522.9 514.3,522.9 514.3,527.8 515,527.8 515,527.9 517.7,527.9 517.7,528.7 521.1,528.7 521.1,527.3 524.6,527.3 524.6,522.8 527.3,522.8 527.3,519.2 529.3,519.2 529.3,519.3 532.1,519.3 532.1,526 534.1,526 534.1,526.7 536.9,526.7 536.9,521 539.6,521 539.6,519.5 543.7,519.5 543.7,512.7 546.4,512.7 546.4,507.7 549.2,507.7 549.2,504 551.2,504 551.2,506.7 553.9,506.7 553.9,503.6 556,503.6 556,507.2 558.7,507.2 558.7,507.6 562.1,507.6 562.1,512.5 565.5,512.5 565.5,517.7 567.6,517.7 567.6,516 569.6,516 569.6,516.6 571.7,516.6 571.7,525.2 573.7,525.2 573.7,526.9 575.8,526.9 575.8,521.8 578.5,521.8 578.5,528.5 581.9,528.5 581.9,527.5 584,527.5 584,519.5 586,519.5 586,515.2 586.7,515.2 586.7,521.2 588.8,521.2 588.8,520.5 591.5,520.5 591.5,524.2 594.2,524.2 594.2,524.7 595.3,524.7" fill="none" stroke="#111" stroke-width="1.3" stroke-linejoin="round" stroke-linejoin="miter"/>
<polyline points="47.5,518.5 48.5,518.5 49.5,518.4 50.5,518.4 51.5,518.3 52.5,518.3 53.5,518.3 54.5,518.2 55.5,518.2 56.5,518.2 57.5,518.1 58.5,518.1 59.5,518 60.5,518 61.5,517.9 62.5,517.9 63.5,517.9 64.5,517.8 65.5,517.8 66.5,517.7 67.5,517.7 68.5,517.7 69.5,517.6 70.5,517.6 71.5,517.5 72.5,517.5 73.5,517.4 74.5,517.4 75.5,517.3 76.5,517.3 77.5,517.2 78.5,517.1 79.5,517.1 80.5,517 81.5,517 82.5,516.9 83.5,516.8 84.5,516.8 85.5,516.7 86.5,516.6 87.5,516.6 88.5,516.5 89.5,516.5 90.5,516.4 91.5,516.4 92.5,516.4 93.5,516.3 94.5,516.3 95.5,516.3 96.5,516.3 97.5,516.3 98.5,516.3 99.5,516.4 100.5,516.4 101.5,516.5 102.5,516.6 103.5,516.6 104.5,516.7 105.5,516.8 106.5,516.9 107.5,517.1 108.5,517.2 109.5,517.4 110.5,517.7 111.5,517.9 112.5,518.2 113.5,518.5 114.5,518.8 115.5,519.1 116.5,519.4 117.5,519.6 118.5,519.9 119.5,520.2 120.5,520.6 121.5,520.9 122.5,521.2 123.5,521.5 124.5,521.7 125.5,521.9 126.5,522 127.5,522 128.5,521.8 129.5,521.6 130.5,521.2 131.5,520.7 132.5,520.3 133.5,519.8 134.5,519.3 135.5,518.9 136.5,518.6 137.5,518.4 138.5,518.2 139.5,518 140.5,517.8 141.5,517.6 142.5,517.4 143.5,517.3 144.5,517.1 145.5,517.1 146.5,517 147.5,517 148.5,517 149.5,517.1 150.5,517.2 151.5,517.3 152.5,517.5 153.5,517.6 154.5,517.8 155.5,518 156.5,518.2 157.5,518.4 158.5,518.5 159.5,518.7 160.5,518.9 161.5,519.1 162.5,519.3 163.5,519.5 164.5,519.7 165.5,519.9 166.5,520.1 167.5,520.3 168.5,520.5 169.5,520.7 170.5,520.9 171.5,521.1 172.5,521.3 173.5,521.5 174.5,521.7 175.5,521.9 176.5,522.1 177.5,522.2 178.5,522.4 179.5,522.6 180.5,522.8 181.5,522.9 182.5,523 183.5,523.1 184.5,523.2 185.5,523.2 186.5,523.3 187.5,523.3 188.5,523.3 189.5,523.3 190.5,523.4 191.5,523.4 192.5,523.4 193.5,523.4 194.5,523.5 195.5,523.5 196.5,523.5 197.5,523.5 198.5,523.5 199.5,523.5 200.5,523.5 201.5,523.5 202.5,523.5 203.5,523.5 204.5,523.5 205.5,523.4 206.5,523.4 207.5,523.4 208.5,523.4 209.5,523.3 210.5,523.3 211.5,523.3 212.5,523.3 213.5,523.3 214.5,523.3 215.5,523.3 216.5,523.3 217.5,523.4 218.5,523.4 219.5,523.4 220.5,523.5 221.5,523.5 222.5,523.6 223.5,523.7 224.5,523.7 225.5,523.8 226.5,523.9 227.5,523.9 228.5,524 229.5,524.1 230.5,524.1 231.5,524.2 232.5,524.3 233.5,524.3 234.5,524.4 235.5,524.4 236.5,524.4 237.5,524.5 238.5,524.5 239.5,524.5 240.5,524.5 241.5,524.5 242.5,524.5 243.5,524.5 244.5,524.4 245.5,524.4 246.5,524.3 247.5,524.3 248.5,524.2 249.5,524.2 250.5,524.1 251.5,524 252.5,523.9 253.5,523.9 254.5,523.8 255.5,523.7 256.5,523.6 257.5,523.5 258.5,523.4 259.5,523.3 260.5,523.2 261.5,523.1 262.5,522.9 263.5,522.7 264.5,522.5 265.5,522.2 266.5,521.9 267.5,521.6 268.5,521.3 269.5,521 270.5,520.8 271.5,520.6 272.5,520.5 273.5,520.5 274.5,520.7 275.5,521.1 276.5,521.7 277.5,522.3 278.5,523 279.5,523.7 280.5,524.3 281.5,525.2 282.5,526.1 283.5,527.1 284.5,528.1 285.5,529.2 286.5,530.2 287.5,531.1 288.5,531.9 289.5,532.8 290.5,533.7 291.5,534.5 292.5,534.9 293.5,535 294.5,534.6 295.5,534 296.5,533.1 297.5,532.2 298.5,531.3 299.5,530.4 300.5,529.6 301.5,528.8 302.5,528 303.5,527.2 304.5,526.3 305.5,525.6 306.5,524.9 307.5,524.3 308.5,523.8 309.5,523.3 310.5,522.8 311.5,522.3 312.5,522 313.5,521.7 314.5,521.5 315.5,521.5 316.5,521.6 317.5,521.7 318.5,521.8 319.5,522 320.5,522.2 321.5,522.5 322.5,522.7 323.5,523 324.5,523.3 325.5,523.5 326.5,523.8 327.5,524 328.5,524.2 329.5,524.4 330.5,524.6 331.5,524.7 332.5,524.9 333.5,525.1 334.5,525.2 335.5,525.4 336.5,525.5 337.5,525.6 338.5,525.7 339.5,525.7 340.5,525.7 341.5,525.6 342.5,525.5 343.5,525.3 344.5,525.1 345.5,524.8 346.5,524.5 347.5,524.2 348.5,523.8 349.5,523.5 350.5,523.2 351.5,522.9 352.5,522.6 353.5,522.4 354.5,522.2 355.5,522.1 356.5,522 357.5,522 358.5,522 359.5,522.1 360.5,522.2 361.5,522.3 362.5,522.4 363.5,522.6 364.5,522.8 365.5,522.9 366.5,523.1 367.5,523.3 368.5,523.5 369.5,523.7 370.5,524 371.5,524.2 372.5,524.4 373.5,524.6 374.5,524.8 375.5,524.9 376.5,525.1 377.5,525.2 378.5,525.4 379.5,525.5 380.5,525.5 381.5,525.6 382.5,525.7 383.5,525.8 384.5,525.8 385.5,525.9 386.5,526 387.5,526 388.5,526.1 389.5,526.2 390.5,526.2 391.5,526.3 392.5,526.3 393.5,526.4 394.5,526.4 395.5,526.4 396.5,526.5 397.5,526.5 398.5,526.5 399.5,526.5 400.5,526.5 401.5,526.4 402.5,526.3 403.5,526.1 404.5,525.9 405.5,525.7 406.5,525.4 407.5,525.1 408.5,524.8 409.5,524.4 410.5,524.1 411.5,523.8 412.5,523.5 413.5,523.1 414.5,522.8 415.5,522.3 416.5,521.9 417.5,521.4 418.5,520.9 419.5,520.5 420.5,520.1 421.5,519.8 422.5,519.6 423.5,519.4 424.5,519.4 425.5,519.3 426.5,519.2 427.5,519.1 428.5,519.1 429.5,519 430.5,519 431.5,518.9 432.5,518.9 433.5,518.9 434.5,518.8 435.5,518.8 436.5,518.7 437.5,518.7 438.5,518.6 439.5,518.5 440.5,518.5 441.5,518.4 442.5,518.3 443.5,518.1 444.5,518 445.5,517.9 446.5,517.8 447.5,517.6 448.5,517.5 449.5,517.3 450.5,517.2 451.5,517 452.5,516.8 453.5,516.6 454.5,516.5 455.5,516.3 456.5,516.1 457.5,515.9 458.5,515.8 459.5,515.6 460.5,515.4 461.5,515.2 462.5,515 463.5,514.7 464.5,514.5 465.5,514.2 466.5,514 467.5,513.7 468.5,513.5 469.5,513.3 470.5,513.2 471.5,513 472.5,513 473.5,512.9 474.5,512.8 475.5,512.8 476.5,512.7 477.5,512.7 478.5,512.6 479.5,512.6 480.5,512.6 481.5,512.6 482.5,512.7 483.5,513 484.5,513.3 485.5,513.7 486.5,514.2 487.5,514.7 488.5,515.2 489.5,515.7 490.5,516.3 491.5,516.8 492.5,517.5 493.5,518.2 494.5,519 495.5,519.7 496.5,520.5 497.5,521.4 498.5,522.2 499.5,522.9 500.5,523.7 501.5,524.6 502.5,525.5 503.5,526.5 504.5,527.5 505.5,528.4 506.5,529.1 507.5,529.7 508.5,530 509.5,530 510.5,530 511.5,529.9 512.5,529.8 513.5,529.6 514.5,529.5 515.5,529.3 516.5,529.1 517.5,528.9 518.5,528.7 519.5,528.5 520.5,528.3 521.5,528.1 522.5,527.9 523.5,527.7 524.5,527.5 525.5,527.2 526.5,527 527.5,526.7 528.5,526.4 529.5,526.1 530.5,525.8 531.5,525.5 532.5,525.2 533.5,524.9 534.5,524.5 535.5,524.2 536.5,523.7 537.5,523.3 538.5,522.8 539.5,522.3 540.5,521.7 541.5,520.9 542.5,519.9 543.5,518.8 544.5,517.6 545.5,516.5 546.5,515.4 547.5,514.4 548.5,513.6 549.5,512.7 550.5,511.8 551.5,511 552.5,510.2 553.5,509.7 554.5,509.3 555.5,509.3 556.5,509.6 557.5,510 558.5,510.6 559.5,511.2 560.5,511.9 561.5,512.7 562.5,513.4 563.5,514.2 564.5,515.2 565.5,516.3 566.5,517.4 567.5,518.4 568.5,519.4 569.5,520.2 570.5,520.8 571.5,521.3 572.5,521.8 573.5,522.3 574.5,522.8 575.5,523.2 576.5,523.6 577.5,523.9 578.5,524.2 579.5,524.4 580.5,524.6 581.5,524.8 582.5,524.9 583.5,525.1 584.5,525.2 585.5,525.3 586.5,525.4 587.5,525.5 588.5,525.6 589.5,525.6 590.5,525.6 591.5,525.6 592.5,525.5 593.5,525.4 594.5,525.2 595.5,525.1" fill="none" stroke="#40c6ec" stroke-width="1.5" stroke-linejoin="round" />
<polyline points="47.5,561 48.5,561 49.5,561 50.5,561 51.5,561 52.5,561 53.5,561 54.5,561 55.5,561 56.5,561 57.5,561 58.5,561 59.5,561 60.5,561 61.5,561 62.5,561 63.5,561 64.5,561 65.5,561 66.5,561 67.5,561 68.5,561 69.5,561 70.5,561 71.5,561 72.5,561 73.5,561 74.5,561 75.5,561 76.5,561 77.5,561 78.5,561 79.5,561 80.5,561 81.5,561 82.5,561 83.5,561 84.5,561 85.5,561 86.5,561 87.5,561 88.5,561 89.5,561 90.5,561 91.5,561 92.5,561 93.5,561 94.5,561 95.5,561 96.5,561 97.5,561 98.5,561 99.5,561 100.5,561 101.5,561 102.5,561 103.5,561 104.5,561 105.5,561 106.5,561 107.5,561 108.5,561 109.5,561 110.5,561 111.5,561 112.5,561 113.5,561 114.5,561 115.5,561 116.5,561 117.5,561 118.5,560.9 119.5,560.9 120.5,560.9 121.5,560.9 122.5,560.9 123.5,560.9 124.5,560.9 125.5,560.9 126.5,560.9 127.5,560.9 128.5,560.9 129.5,560.9 130.5,560.9 131.5,560.9 132.5,560.9 133.5,560.9 134.5,560.9 135.5,560.9 136.5,560.9 137.5,560.9 138.5,560.9 139.5,560.9 140.5,560.9 141.5,560.9 142.5,560.9 143.5,560.9 144.5,560.9 145.5,560.9 146.5,560.9 147.5,560.9 148.5,560.9 149.5,560.9 150.5,560.9 151.5,560.9 152.5,560.9 153.5,560.9 154.5,560.9 155.5,560.9 156.5,560.9 157.5,560.9 158.5,560.9 159.5,560.9 160.5,560.9 161.5,560.8 162.5,560.8 163.5,560.8 164.5,560.8 165.5,560.8 166.5,560.8 167.5,560.8 168.5,560.8 169.5,560.8 170.5,560.8 171.5,560.8 172.5,560.8 173.5,560.8 174.5,560.8 175.5,560.8 176.5,560.8 177.5,560.8 178.5,560.8 179.5,560.8 180.5,560.8 181.5,560.8 182.5,560.8 183.5,560.8 184.5,560.8 185.5,560.8 186.5,560.8 187.5,560.8 188.5,560.8 189.5,560.7 190.5,560.7 191.5,560.7 192.5,560.7 193.5,560.7 194.5,560.7 195.5,560.7 196.5,560.7 197.5,560.7 198.5,560.7 199.5,560.7 200.5,560.7 201.5,560.7 202.5,560.7 203.5,560.7 204.5,560.6 205.5,560.6 206.5,560.6 207.5,560.6 208.5,560.6 209.5,560.5 210.5,560.5 211.5,560.5 212.5,560.4 213.5,560.4 214.5,560.3 215.5,560.3 216.5,560.3 217.5,560.2 218.5,560.2 219.5,560.1 220.5,560.1 221.5,560 222.5,559.9 223.5,559.9 224.5,559.8 225.5,559.8 226.5,559.7 227.5,559.6 228.5,559.4 229.5,559.3 230.5,559.1 231.5,558.9 232.5,558.7 233.5,558.5 234.5,558.3 235.5,558.2 236.5,558 237.5,557.8 238.5,557.7 239.5,557.6 240.5,557.5 241.5,557.5 242.5,557.5 243.5,557.5 244.5,557.6 245.5,557.7 246.5,557.9 247.5,558 248.5,558.2 249.5,558.4 250.5,558.6 251.5,558.8 252.5,559 253.5,559.2 254.5,559.4 255.5,559.5 256.5,559.7 257.5,559.8 258.5,559.9 259.5,560 260.5,560 261.5,560 262.5,560.1 263.5,560.1 264.5,560.1 265.5,560.1 266.5,560.2 267.5,560.2 268.5,560.2 269.5,560.2 270.5,560.2 271.5,560.2 272.5,560.3 273.5,560.3 274.5,560.3 275.5,560.3 276.5,560.3 277.5,560.3 278.5,560.4 279.5,560.4 280.5,560.4 281.5,560.4 282.5,560.4 283.5,560.4 284.5,560.4 285.5,560.4 286.5,560.4 287.5,560.5 288.5,560.5 289.5,560.5 290.5,560.5 291.5,560.5 292.5,560.5 293.5,560.5 294.5,560.5 295.5,560.5 296.5,560.5 297.5,560.5 298.5,560.5 299.5,560.5 300.5,560.5 301.5,560.5 302.5,560.5 303.5,560.5 304.5,560.5 305.5,560.5 306.5,560.5 307.5,560.5 308.5,560.5 309.5,560.5 310.5,560.5 311.5,560.5 312.5,560.5 313.5,560.5 314.5,560.5 315.5,560.4 316.5,560.4 317.5,560.4 318.5,560.4 319.5,560.4 320.5,560.4 321.5,560.4 322.5,560.4 323.5,560.4 324.5,560.4 325.5,560.4 326.5,560.3 327.5,560.3 328.5,560.3 329.5,560.3 330.5,560.3 331.5,560.3 332.5,560.2 333.5,560.2 334.5,560.1 335.5,560.1 336.5,560 337.5,559.9 338.5,559.9 339.5,559.8 340.5,559.7 341.5,559.7 342.5,559.6 343.5,559.6 344.5,559.5 345.5,559.5 346.5,559.5 347.5,559.5 348.5,559.5 349.5,559.6 350.5,559.6 351.5,559.7 352.5,559.7 353.5,559.8 354.5,559.9 355.5,560 356.5,560 357.5,560.1 358.5,560.2 359.5,560.3 360.5,560.3 361.5,560.4 362.5,560.4 363.5,560.5 364.5,560.5 365.5,560.5 366.5,560.5 367.5,560.5 368.5,560.4 369.5,560.4 370.5,560.3 371.5,560.2 372.5,560.2 373.5,560.1 374.5,560 375.5,559.9 376.5,559.8 377.5,559.7 378.5,559.6 379.5,559.5 380.5,559.4 381.5,559.3 382.5,559.2 383.5,559 384.5,558.8 385.5,558.6 386.5,558.4 387.5,558.2 388.5,558 389.5,557.9 390.5,557.8 391.5,557.7 392.5,557.7 393.5,557.7 394.5,557.8 395.5,557.9 396.5,558.1 397.5,558.2 398.5,558.4 399.5,558.5 400.5,558.6 401.5,558.8 402.5,558.9 403.5,559 404.5,559 405.5,559 406.5,559 407.5,558.9 408.5,558.8 409.5,558.7 410.5,558.6 411.5,558.4 412.5,558.3 413.5,558.2 414.5,558.1 415.5,557.9 416.5,557.8 417.5,557.7 418.5,557.5 419.5,557.3 420.5,557.2 421.5,557.1 422.5,556.9 423.5,556.9 424.5,556.8 425.5,556.8 426.5,556.8 427.5,556.9 428.5,557 429.5,557.1 430.5,557.2 431.5,557.3 432.5,557.4 433.5,557.5 434.5,557.6 435.5,557.7 436.5,557.8 437.5,557.9 438.5,558 439.5,558 440.5,558 441.5,558 442.5,558 443.5,558 444.5,557.9 445.5,557.9 446.5,557.9 447.5,557.8 448.5,557.8 449.5,557.7 450.5,557.7 451.5,557.6 452.5,557.6 453.5,557.6 454.5,557.5 455.5,557.5 456.5,557.5 457.5,557.4 458.5,557.4 459.5,557.4 460.5,557.3 461.5,557.3 462.5,557.3 463.5,557.2 464.5,557.2 465.5,557.1 466.5,557.1 467.5,557 468.5,557 469.5,556.8 470.5,556.5 471.5,556.2 472.5,555.8 473.5,555.3 474.5,554.9 475.5,554.5 476.5,554 477.5,553.7 478.5,553.4 479.5,553.1 480.5,553 481.5,553 482.5,553.2 483.5,553.4 484.5,553.8 485.5,554.3 486.5,554.8 487.5,555.3 488.5,555.9 489.5,556.4 490.5,556.9 491.5,557.3 492.5,557.7 493.5,558 494.5,558.4 495.5,558.8 496.5,559.1 497.5,559.5 498.5,559.8 499.5,560 500.5,560.2 501.5,560.4 502.5,560.5 503.5,560.5 504.5,560.5 505.5,560.5 506.5,560.5 507.5,560.5 508.5,560.5 509.5,560.5 510.5,560.5 511.5,560.5 512.5,560.5 513.5,560.5 514.5,560.5 515.5,560.5 516.5,560.5 517.5,560.5 518.5,560.5 519.5,560.5 520.5,560.5 521.5,560.5 522.5,560.5 523.5,560.5 524.5,560.5 525.5,560.5 526.5,560.5 527.5,560.4 528.5,560.4 529.5,560.4 530.5,560.4 531.5,560.3 532.5,560.3 533.5,560.3 534.5,560.2 535.5,560.2 536.5,560.2 537.5,560.1 538.5,560.1 539.5,560 540.5,559.9 541.5,559.7 542.5,559.3 543.5,558.8 544.5,558.1 545.5,557.3 546.5,556.5 547.5,555.7 548.5,554.8 549.5,553.9 550.5,553 551.5,551.7 552.5,550.3 553.5,548.8 554.5,547.6 555.5,546.9 556.5,546.9 557.5,547.3 558.5,548.1 559.5,549 560.5,550 561.5,551.1 562.5,551.9 563.5,553 564.5,554.1 565.5,555.2 566.5,556.3 567.5,557.4 568.5,558.2 569.5,558.8 570.5,559.2 571.5,559.4 572.5,559.7 573.5,559.9 574.5,560.2 575.5,560.3 576.5,560.5 577.5,560.6 578.5,560.7 579.5,560.8 580.5,560.8 581.5,560.8 582.5,560.9 583.5,560.9 584.5,560.9 585.5,560.9 586.5,560.9 587.5,560.9 588.5,561 589.5,561 590.5,561 591.5,561 592.5,561 593.5,561 594.5,561 595.5,561" fill="none" stroke="#a04a94" stroke-width="1.8" stroke-linejoin="round" />
<polyline points="47.5,607 48.5,607 49.5,607 50.5,607 51.5,607 52.5,607 53.5,607 54.5,606.9 55.5,606.9 56.5,606.9 57.5,606.9 58.5,606.9 59.5,606.9 60.5,606.8 61.5,606.8 62.5,606.8 63.5,606.7 64.5,606.7 65.5,606.7 66.5,606.6 67.5,606.6 68.5,606.6 69.5,606.5 70.5,606.5 71.5,606.4 72.5,606.3 73.5,606.1 74.5,606 75.5,605.8 76.5,605.6 77.5,605.4 78.5,605.2 79.5,605 80.5,604.8 81.5,604.6 82.5,604.4 83.5,604.2 84.5,604 85.5,603.8 86.5,603.7 87.5,603.6 88.5,603.6 89.5,603.7 90.5,603.9 91.5,604.2 92.5,604.4 93.5,604.7 94.5,604.9 95.5,605 96.5,605 97.5,604.9 98.5,604.8 99.5,604.6 100.5,604.3 101.5,604 102.5,603.7 103.5,603.3 104.5,602.6 105.5,601.6 106.5,600.7 107.5,599.8 108.5,599.2 109.5,598.6 110.5,598.1 111.5,597.7 112.5,597.4 113.5,597.4 114.5,597.6 115.5,597.9 116.5,598.3 117.5,598.8 118.5,599.2 119.5,599.9 120.5,600.6 121.5,601.4 122.5,602.3 123.5,603.1 124.5,603.7 125.5,604.3 126.5,604.8 127.5,605.3 128.5,605.8 129.5,606.2 130.5,606.6 131.5,606.8 132.5,607 133.5,607 134.5,607 135.5,607 136.5,607 137.5,607 138.5,607 139.5,607 140.5,607 141.5,607 142.5,607 143.5,607 144.5,607 145.5,607 146.5,607 147.5,607 148.5,607 149.5,607 150.5,607 151.5,607 152.5,607 153.5,607 154.5,607 155.5,607 156.5,607 157.5,607 158.5,607 159.5,607 160.5,607 161.5,607 162.5,607 163.5,607 164.5,607 165.5,607 166.5,607 167.5,607 168.5,607 169.5,607 170.5,607 171.5,607 172.5,607 173.5,607 174.5,607 175.5,607 176.5,607 177.5,607 178.5,607 179.5,607 180.5,607 181.5,607 182.5,607 183.5,607 184.5,607 185.5,607 186.5,607 187.5,607 188.5,607 189.5,607 190.5,607 191.5,607 192.5,607 193.5,607 194.5,607 195.5,607 196.5,607 197.5,607 198.5,607 199.5,607 200.5,607 201.5,607 202.5,607 203.5,607 204.5,607 205.5,607 206.5,607 207.5,607 208.5,607 209.5,607 210.5,607 211.5,607 212.5,607 213.5,607 214.5,607 215.5,607 216.5,607 217.5,607 218.5,607 219.5,607 220.5,607 221.5,607 222.5,607 223.5,607 224.5,607 225.5,607 226.5,607 227.5,607 228.5,607 229.5,607 230.5,607 231.5,607 232.5,607 233.5,607 234.5,607 235.5,607 236.5,607 237.5,607 238.5,607 239.5,607 240.5,607 241.5,607 242.5,607 243.5,607 244.5,607 245.5,607 246.5,607 247.5,607 248.5,607 249.5,607 250.5,607 251.5,606.9 252.5,606.7 253.5,606.5 254.5,606.2 255.5,605.9 256.5,605.6 257.5,605.3 258.5,604.9 259.5,604.6 260.5,604.4 261.5,604 262.5,603.7 263.5,603.3 264.5,603 265.5,602.8 266.5,602.6 267.5,602.6 268.5,602.8 269.5,603.1 270.5,603.4 271.5,603.9 272.5,604.3 273.5,604.6 274.5,605 275.5,605.3 276.5,605.7 277.5,606 278.5,606.4 279.5,606.6 280.5,606.9 281.5,607 282.5,607 283.5,607 284.5,607 285.5,607 286.5,607 287.5,607 288.5,607 289.5,607 290.5,607 291.5,607 292.5,607 293.5,607 294.5,607 295.5,607 296.5,607 297.5,607 298.5,607 299.5,607 300.5,607 301.5,607 302.5,607 303.5,607 304.5,607 305.5,607 306.5,607 307.5,607 308.5,607 309.5,607 310.5,607 311.5,607 312.5,607 313.5,607 314.5,607 315.5,607 316.5,607 317.5,607 318.5,607 319.5,607 320.5,607 321.5,607 322.5,607 323.5,607 324.5,607 325.5,607 326.5,607 327.5,607 328.5,607 329.5,607 330.5,607 331.5,607 332.5,607 333.5,607 334.5,607 335.5,607 336.5,607 337.5,607 338.5,607 339.5,607 340.5,607 341.5,607 342.5,607 343.5,607 344.5,607 345.5,607 346.5,607 347.5,607 348.5,607 349.5,607 350.5,607 351.5,607 352.5,607 353.5,607 354.5,607 355.5,607 356.5,607 357.5,607 358.5,607 359.5,607 360.5,607 361.5,607 362.5,607 363.5,607 364.5,607 365.5,607 366.5,607 367.5,607 368.5,607 369.5,607 370.5,607 371.5,607 372.5,607 373.5,607 374.5,607 375.5,607 376.5,607 377.5,607 378.5,607 379.5,607 380.5,607 381.5,607 382.5,607 383.5,607 384.5,607 385.5,607 386.5,607 387.5,607 388.5,607 389.5,607 390.5,607 391.5,607 392.5,607 393.5,607 394.5,607 395.5,607 396.5,607 397.5,607 398.5,607 399.5,607 400.5,607 401.5,607 402.5,607 403.5,607 404.5,607 405.5,607 406.5,607 407.5,607 408.5,607 409.5,607 410.5,607 411.5,607 412.5,607 413.5,607 414.5,607 415.5,607 416.5,607 417.5,607 418.5,607 419.5,607 420.5,607 421.5,607 422.5,607 423.5,607 424.5,607 425.5,607 426.5,607 427.5,607 428.5,607 429.5,607 430.5,607 431.5,607 432.5,607 433.5,607 434.5,607 435.5,607 436.5,607 437.5,607 438.5,607 439.5,607 440.5,607 441.5,607 442.5,607 443.5,607 444.5,607 445.5,607 446.5,607 447.5,607 448.5,607 449.5,607 450.5,607 451.5,607 452.5,607 453.5,607 454.5,607 455.5,607 456.5,607 457.5,607 458.5,607 459.5,607 460.5,607 461.5,607 462.5,607 463.5,607 464.5,607 465.5,607 466.5,607 467.5,607 468.5,607 469.5,607 470.5,607 471.5,607 472.5,607 473.5,607 474.5,607 475.5,607 476.5,607 477.5,607 478.5,607 479.5,607 480.5,607 481.5,607 482.5,607 483.5,607 484.5,607 485.5,607 486.5,607 487.5,607 488.5,607 489.5,607 490.5,607 491.5,607 492.5,607 493.5,607 494.5,607 495.5,607 496.5,607 497.5,607 498.5,607 499.5,607 500.5,607 501.5,607 502.5,607 503.5,607 504.5,607 505.5,607 506.5,607 507.5,607 508.5,607 509.5,607 510.5,607 511.5,607 512.5,607 513.5,607 514.5,607 515.5,607 516.5,607 517.5,607 518.5,607 519.5,607 520.5,607 521.5,607 522.5,607 523.5,607 524.5,607 525.5,607 526.5,607 527.5,607 528.5,607 529.5,607 530.5,607 531.5,607 532.5,607 533.5,607 534.5,607 535.5,607 536.5,607 537.5,607 538.5,607 539.5,607 540.5,607 541.5,607 542.5,607 543.5,607 544.5,607 545.5,607 546.5,607 547.5,607 548.5,607 549.5,607 550.5,607 551.5,607 552.5,607 553.5,607 554.5,607 555.5,607 556.5,607 557.5,607 558.5,607 559.5,607 560.5,607 561.5,607 562.5,607 563.5,607 564.5,607 565.5,607 566.5,607 567.5,607 568.5,607 569.5,607 570.5,607 571.5,607 572.5,607 573.5,607 574.5,607 575.5,607 576.5,607 577.5,607 578.5,607 579.5,607 580.5,607 581.5,607 582.5,607 583.5,607 584.5,607 585.5,607 586.5,607 587.5,607 588.5,607 589.5,607 590.5,607 591.5,607 592.5,607 593.5,607 594.5,607 595.5,607" fill="none" stroke="#3030a6" stroke-width="1.8" stroke-linejoin="round" />
<rect x="47.5" y="657.3" width="548.5" height="5" fill="#cbcbcb" stroke="#a8a8a8" stroke-width="0.8"/>
<polyline points="47.5,659 51.7,659 51.7,663.7 54.3,663.7 54.3,661 57.7,661 57.7,659 60.3,659 60.3,661 61.7,661 61.7,661.7 65,661.7 65,662.3 67,662.3 67,661.7 69,661.7 69,662.3 71.7,662.3 71.7,661.7 73.7,661.7 73.7,667 76.3,667 76.3,659.7 78.3,659.7 78.3,662.3 79.7,662.3 79.7,661 81.7,661 81.7,659.7 84.3,659.7 84.3,659 87,659 87,665.7 89.7,665.7 89.7,659 93,659 93,659.7 95.7,659.7 95.7,661 99,661 99,662.3 101.7,662.3 101.7,660.3 104.3,660.3 104.3,657.7 107,657.7 107,656.7 109.7,656.7 109.7,661 112.3,661 112.3,659.7 115,659.7 115,659 117.7,659 117.7,658.3 120.3,658.3 120.3,657 123,657 123,658.3 125,658.3 125,658.3 128.3,658.3 128.3,657.7 131,657.7 131,658.3 133.7,658.3 133.7,655.7 135.7,655.7 135.7,657 138.3,657 138.3,658.3 141,658.3 141,660.3 144.3,660.3 144.3,657 147,657 147,658.3 149,658.3 149,665.7 151,665.7 151,658.3 153,658.3 153,665 156.3,665 156.3,657.7 158.3,657.7 158.3,653.7 160.3,653.7 160.3,659.7 163,659.7 163,658.3 165,658.3 165,650.3 167,650.3 167,655 169,655 169,656.3 171,656.3 171,658.3 173,658.3 173,663 175,663 175,655 177.7,655 177.7,657.7 179.7,657.7 179.7,655.7 182.3,655.7 182.3,655 185.7,655 185.7,658.3 187.7,658.3 187.7,653.7 190.3,653.7 190.3,655.7 193,655.7 193,661 195,661 195,658.3 197.7,658.3 197.7,659.7 201,659.7 201,665 203,665 203,665 205.7,665 205.7,663.7 208.3,663.7 208.3,660.3 211,660.3 211,657.7 213,657.7 213,656.3 215.7,656.3 215.7,659 217.7,659 217.7,665 219.7,665 219.7,658.3 222.3,658.3 222.3,657.7 225,657.7 225,656.3 227.7,656.3 227.7,658.3 230.3,658.3 230.3,659 233.7,659 233.7,659.7 237,659.7 237,660.3 240.3,660.3 240.3,661.7 243,661.7 243,657 245.7,657 245.7,657.7 249,657.7 249,657 251.7,657 251.7,659 254.3,659 254.3,661 256.3,661 256.3,664.3 259,664.3 259,658.3 261.7,658.3 261.7,659 264.3,659 264.3,661.7 267,661.7 267,663.7 269.7,663.7 269.7,661 272.3,661 272.3,657.7 275.7,657.7 275.7,659 278.3,659 278.3,661.7 281,661.7 281,659.7 283,659.7 283,658.3 285,658.3 285,665 287,665 287,659.7 289,659.7 289,663 291,663 291,659.7 293.7,659.7 293.7,658.3 295.7,658.3 295.7,661 297.7,661 297.7,666.3 299.7,666.3 299.7,660.3 301.7,660.3 301.7,658.3 304.3,658.3 304.3,657 306.3,657 306.3,655 309.7,655 309.7,655.7 313,655.7 313,662.3 315.7,662.3 315.7,659.7 318.3,659.7 318.3,660.3 321,660.3 321,661.7 323.7,661.7 323.7,659 326.3,659 326.3,658.3 329,658.3 329,657 331.7,657 331.7,655.7 335,655.7 335,656.3 338.3,656.3 338.3,654.3 340.3,654.3 340.3,662.3 343,662.3 343,659 346.3,659 346.3,659.7 349,659.7 349,662.3 351.7,662.3 351.7,659.7 354.3,659.7 354.3,658.3 357,658.3 357,657.7 359,657.7 359,658.3 361.7,658.3 361.7,657.7 364.3,657.7 364.3,659 366.3,659 366.3,661 368.3,661 368.3,654.3 370.3,654.3 370.3,659 372.3,659 372.3,659.7 374.3,659.7 374.3,661 377,661 377,660.3 379,660.3 379,662.3 381.7,662.3 381.7,660.3 385,660.3 385,656.3 387,656.3 387,658.3 389.7,658.3 389.7,652.3 392.3,652.3 392.3,659 395,659 395,659.7 398.3,659.7 398.3,662.3 401,662.3 401,659.7 403,659.7 403,663 406.3,663 406.3,661.7 409,661.7 409,659 411.7,659 411.7,661.7 413.7,661.7 413.7,661 419.7,661 419.7,662.3 423,662.3 423,664.3 425.7,664.3 425.7,665.7 428.3,665.7 428.3,663.7 431,663.7 431,661.7 433.7,661.7 433.7,662.3 437,662.3 437,661 439.7,661 439.7,659 441.7,659 441.7,655.4 444.3,655.4 444.3,655 447,655 447,654.3 449.7,654.3 449.7,653 451.7,653 451.7,654.3 453.7,654.3 453.7,659.7 455.7,659.7 455.7,661.7 458.3,661.7 458.3,659 460.3,659 460.3,657.7 463,657.7 463,659 465,659 465,661.7 467,661.7 467,659 470.3,659 470.3,659.7 473.7,659.7 473.7,661.7 476.3,661.7 476.3,665 478.3,665 478.3,666.3 481,666.3 481,667 483.7,667 483.7,665.7 485.7,665.7 485.7,664.3 487.7,664.3 487.7,661.7 489.7,661.7 489.7,666.3 491.7,666.3 491.7,667 493.7,667 493.7,661.7 495.7,661.7 495.7,662.3 498.3,662.3 498.3,664.3 501,664.3 501,666.3 503,666.3 503,663 505.7,663 505.7,661 508.3,661 508.3,658.3 510.3,658.3 510.3,657 512.3,657 512.3,653.7 514.3,653.7 514.3,658.3 515,658.3 515,658.7 517.7,658.7 517.7,660 521.1,660 521.1,659.3 524.6,659.3 524.6,655.9 527.3,655.9 527.3,653.2 529.3,653.2 529.3,653.9 532.1,653.9 532.1,660.7 534.1,660.7 534.1,662.1 536.9,662.1 536.9,658 539.6,658 539.6,658.7 543.7,658.7 543.7,655.9 546.4,655.9 546.4,653.9 549.2,653.9 549.2,652.5 551.2,652.5 551.2,656.6 553.9,656.6 553.9,654.6 556,654.6 556,657.3 558.7,657.3 558.7,655.9 562.1,655.9 562.1,658 565.5,658 565.5,660 567.6,660 567.6,656.6 569.6,656.6 569.6,655.9 571.7,655.9 571.7,662.8 573.7,662.8 573.7,663.4 575.8,663.4 575.8,658 578.5,658 578.5,663.4 581.9,663.4 581.9,662.1 584,662.1 584,654.6 586,654.6 586,650.5 586.7,650.5 586.7,655.9 588.8,655.9 588.8,655.2 591.5,655.2 591.5,658.7 594.2,658.7 594.2,659.3 595.3,659.3" fill="none" stroke="#111" stroke-width="1.3" stroke-linejoin="round" stroke-linejoin="miter"/>
</g>
<text x="67.2" y="552.7" font-size="12.5" fill="#a3449a" font-weight="normal" text-anchor="start" textLength="31.5" lengthAdjust="spacingAndGlyphs" >H<tspan font-size="8.5" dy="3.5">2</tspan><tspan dy="-3.5">CO</tspan></text>
<text x="67.5" y="599.9" font-size="13.2" fill="#22229a" font-weight="normal" text-anchor="start" textLength="24" lengthAdjust="spacingAndGlyphs" >OH*</text>
<rect x="47.5" y="712.5" width="548.5" height="269.5" fill="none" stroke="#111" stroke-width="1.5"/>
<line x1="590.2" y1="982" x2="590.2" y2="978" stroke="#111" stroke-width="1.3"/>
<line x1="590.2" y1="712.5" x2="590.2" y2="716.5" stroke="#111" stroke-width="1.3"/>
<line x1="582.3" y1="982" x2="582.3" y2="978" stroke="#111" stroke-width="1.3"/>
<line x1="582.3" y1="712.5" x2="582.3" y2="716.5" stroke="#111" stroke-width="1.3"/>
<line x1="574.4" y1="982" x2="574.4" y2="978" stroke="#111" stroke-width="1.3"/>
<line x1="574.4" y1="712.5" x2="574.4" y2="716.5" stroke="#111" stroke-width="1.3"/>
<line x1="566.5" y1="982" x2="566.5" y2="978" stroke="#111" stroke-width="1.3"/>
<line x1="566.5" y1="712.5" x2="566.5" y2="716.5" stroke="#111" stroke-width="1.3"/>
<line x1="558.5" y1="982" x2="558.5" y2="978" stroke="#111" stroke-width="1.3"/>
<line x1="558.5" y1="712.5" x2="558.5" y2="716.5" stroke="#111" stroke-width="1.3"/>
<line x1="550.6" y1="982" x2="550.6" y2="978" stroke="#111" stroke-width="1.3"/>
<line x1="550.6" y1="712.5" x2="550.6" y2="716.5" stroke="#111" stroke-width="1.3"/>
<line x1="542.7" y1="982" x2="542.7" y2="974" stroke="#111" stroke-width="1.3"/>
<line x1="542.7" y1="712.5" x2="542.7" y2="720.5" stroke="#111" stroke-width="1.3"/>
<line x1="534.8" y1="982" x2="534.8" y2="978" stroke="#111" stroke-width="1.3"/>
<line x1="534.8" y1="712.5" x2="534.8" y2="716.5" stroke="#111" stroke-width="1.3"/>
<line x1="526.9" y1="982" x2="526.9" y2="978" stroke="#111" stroke-width="1.3"/>
<line x1="526.9" y1="712.5" x2="526.9" y2="716.5" stroke="#111" stroke-width="1.3"/>
<line x1="518.9" y1="982" x2="518.9" y2="978" stroke="#111" stroke-width="1.3"/>
<line x1="518.9" y1="712.5" x2="518.9" y2="716.5" stroke="#111" stroke-width="1.3"/>
<line x1="511" y1="982" x2="511" y2="978" stroke="#111" stroke-width="1.3"/>
<line x1="511" y1="712.5" x2="511" y2="716.5" stroke="#111" stroke-width="1.3"/>
<line x1="503.1" y1="982" x2="503.1" y2="978" stroke="#111" stroke-width="1.3"/>
<line x1="503.1" y1="712.5" x2="503.1" y2="716.5" stroke="#111" stroke-width="1.3"/>
<line x1="495.2" y1="982" x2="495.2" y2="978" stroke="#111" stroke-width="1.3"/>
<line x1="495.2" y1="712.5" x2="495.2" y2="716.5" stroke="#111" stroke-width="1.3"/>
<line x1="487.3" y1="982" x2="487.3" y2="978" stroke="#111" stroke-width="1.3"/>
<line x1="487.3" y1="712.5" x2="487.3" y2="716.5" stroke="#111" stroke-width="1.3"/>
<line x1="479.3" y1="982" x2="479.3" y2="978" stroke="#111" stroke-width="1.3"/>
<line x1="479.3" y1="712.5" x2="479.3" y2="716.5" stroke="#111" stroke-width="1.3"/>
<line x1="471.4" y1="982" x2="471.4" y2="978" stroke="#111" stroke-width="1.3"/>
<line x1="471.4" y1="712.5" x2="471.4" y2="716.5" stroke="#111" stroke-width="1.3"/>
<line x1="463.5" y1="982" x2="463.5" y2="974" stroke="#111" stroke-width="1.3"/>
<line x1="463.5" y1="712.5" x2="463.5" y2="720.5" stroke="#111" stroke-width="1.3"/>
<line x1="455.6" y1="982" x2="455.6" y2="978" stroke="#111" stroke-width="1.3"/>
<line x1="455.6" y1="712.5" x2="455.6" y2="716.5" stroke="#111" stroke-width="1.3"/>
<line x1="447.7" y1="982" x2="447.7" y2="978" stroke="#111" stroke-width="1.3"/>
<line x1="447.7" y1="712.5" x2="447.7" y2="716.5" stroke="#111" stroke-width="1.3"/>
<line x1="439.7" y1="982" x2="439.7" y2="978" stroke="#111" stroke-width="1.3"/>
<line x1="439.7" y1="712.5" x2="439.7" y2="716.5" stroke="#111" stroke-width="1.3"/>
<line x1="431.8" y1="982" x2="431.8" y2="978" stroke="#111" stroke-width="1.3"/>
<line x1="431.8" y1="712.5" x2="431.8" y2="716.5" stroke="#111" stroke-width="1.3"/>
<line x1="423.9" y1="982" x2="423.9" y2="978" stroke="#111" stroke-width="1.3"/>
<line x1="423.9" y1="712.5" x2="423.9" y2="716.5" stroke="#111" stroke-width="1.3"/>
<line x1="416" y1="982" x2="416" y2="978" stroke="#111" stroke-width="1.3"/>
<line x1="416" y1="712.5" x2="416" y2="716.5" stroke="#111" stroke-width="1.3"/>
<line x1="408.1" y1="982" x2="408.1" y2="978" stroke="#111" stroke-width="1.3"/>
<line x1="408.1" y1="712.5" x2="408.1" y2="716.5" stroke="#111" stroke-width="1.3"/>
<line x1="400.1" y1="982" x2="400.1" y2="978" stroke="#111" stroke-width="1.3"/>
<line x1="400.1" y1="712.5" x2="400.1" y2="716.5" stroke="#111" stroke-width="1.3"/>
<line x1="392.2" y1="982" x2="392.2" y2="978" stroke="#111" stroke-width="1.3"/>
<line x1="392.2" y1="712.5" x2="392.2" y2="716.5" stroke="#111" stroke-width="1.3"/>
<line x1="384.3" y1="982" x2="384.3" y2="974" stroke="#111" stroke-width="1.3"/>
<line x1="384.3" y1="712.5" x2="384.3" y2="720.5" stroke="#111" stroke-width="1.3"/>
<line x1="376.4" y1="982" x2="376.4" y2="978" stroke="#111" stroke-width="1.3"/>
<line x1="376.4" y1="712.5" x2="376.4" y2="716.5" stroke="#111" stroke-width="1.3"/>
<line x1="368.5" y1="982" x2="368.5" y2="978" stroke="#111" stroke-width="1.3"/>
<line x1="368.5" y1="712.5" x2="368.5" y2="716.5" stroke="#111" stroke-width="1.3"/>
<line x1="360.5" y1="982" x2="360.5" y2="978" stroke="#111" stroke-width="1.3"/>
<line x1="360.5" y1="712.5" x2="360.5" y2="716.5" stroke="#111" stroke-width="1.3"/>
<line x1="352.6" y1="982" x2="352.6" y2="978" stroke="#111" stroke-width="1.3"/>
<line x1="352.6" y1="712.5" x2="352.6" y2="716.5" stroke="#111" stroke-width="1.3"/>
<line x1="344.7" y1="982" x2="344.7" y2="978" stroke="#111" stroke-width="1.3"/>
<line x1="344.7" y1="712.5" x2="344.7" y2="716.5" stroke="#111" stroke-width="1.3"/>
<line x1="336.8" y1="982" x2="336.8" y2="978" stroke="#111" stroke-width="1.3"/>
<line x1="336.8" y1="712.5" x2="336.8" y2="716.5" stroke="#111" stroke-width="1.3"/>
<line x1="328.9" y1="982" x2="328.9" y2="978" stroke="#111" stroke-width="1.3"/>
<line x1="328.9" y1="712.5" x2="328.9" y2="716.5" stroke="#111" stroke-width="1.3"/>
<line x1="320.9" y1="982" x2="320.9" y2="978" stroke="#111" stroke-width="1.3"/>
<line x1="320.9" y1="712.5" x2="320.9" y2="716.5" stroke="#111" stroke-width="1.3"/>
<line x1="313" y1="982" x2="313" y2="978" stroke="#111" stroke-width="1.3"/>
<line x1="313" y1="712.5" x2="313" y2="716.5" stroke="#111" stroke-width="1.3"/>
<line x1="305.1" y1="982" x2="305.1" y2="974" stroke="#111" stroke-width="1.3"/>
<line x1="305.1" y1="712.5" x2="305.1" y2="720.5" stroke="#111" stroke-width="1.3"/>
<line x1="297.2" y1="982" x2="297.2" y2="978" stroke="#111" stroke-width="1.3"/>
<line x1="297.2" y1="712.5" x2="297.2" y2="716.5" stroke="#111" stroke-width="1.3"/>
<line x1="289.3" y1="982" x2="289.3" y2="978" stroke="#111" stroke-width="1.3"/>
<line x1="289.3" y1="712.5" x2="289.3" y2="716.5" stroke="#111" stroke-width="1.3"/>
<line x1="281.3" y1="982" x2="281.3" y2="978" stroke="#111" stroke-width="1.3"/>
<line x1="281.3" y1="712.5" x2="281.3" y2="716.5" stroke="#111" stroke-width="1.3"/>
<line x1="273.4" y1="982" x2="273.4" y2="978" stroke="#111" stroke-width="1.3"/>
<line x1="273.4" y1="712.5" x2="273.4" y2="716.5" stroke="#111" stroke-width="1.3"/>
<line x1="265.5" y1="982" x2="265.5" y2="978" stroke="#111" stroke-width="1.3"/>
<line x1="265.5" y1="712.5" x2="265.5" y2="716.5" stroke="#111" stroke-width="1.3"/>
<line x1="257.6" y1="982" x2="257.6" y2="978" stroke="#111" stroke-width="1.3"/>
<line x1="257.6" y1="712.5" x2="257.6" y2="716.5" stroke="#111" stroke-width="1.3"/>
<line x1="249.7" y1="982" x2="249.7" y2="978" stroke="#111" stroke-width="1.3"/>
<line x1="249.7" y1="712.5" x2="249.7" y2="716.5" stroke="#111" stroke-width="1.3"/>
<line x1="241.7" y1="982" x2="241.7" y2="978" stroke="#111" stroke-width="1.3"/>
<line x1="241.7" y1="712.5" x2="241.7" y2="716.5" stroke="#111" stroke-width="1.3"/>
<line x1="233.8" y1="982" x2="233.8" y2="978" stroke="#111" stroke-width="1.3"/>
<line x1="233.8" y1="712.5" x2="233.8" y2="716.5" stroke="#111" stroke-width="1.3"/>
<line x1="225.9" y1="982" x2="225.9" y2="974" stroke="#111" stroke-width="1.3"/>
<line x1="225.9" y1="712.5" x2="225.9" y2="720.5" stroke="#111" stroke-width="1.3"/>
<line x1="218" y1="982" x2="218" y2="978" stroke="#111" stroke-width="1.3"/>
<line x1="218" y1="712.5" x2="218" y2="716.5" stroke="#111" stroke-width="1.3"/>
<line x1="210.1" y1="982" x2="210.1" y2="978" stroke="#111" stroke-width="1.3"/>
<line x1="210.1" y1="712.5" x2="210.1" y2="716.5" stroke="#111" stroke-width="1.3"/>
<line x1="202.1" y1="982" x2="202.1" y2="978" stroke="#111" stroke-width="1.3"/>
<line x1="202.1" y1="712.5" x2="202.1" y2="716.5" stroke="#111" stroke-width="1.3"/>
<line x1="194.2" y1="982" x2="194.2" y2="978" stroke="#111" stroke-width="1.3"/>
<line x1="194.2" y1="712.5" x2="194.2" y2="716.5" stroke="#111" stroke-width="1.3"/>
<line x1="186.3" y1="982" x2="186.3" y2="978" stroke="#111" stroke-width="1.3"/>
<line x1="186.3" y1="712.5" x2="186.3" y2="716.5" stroke="#111" stroke-width="1.3"/>
<line x1="178.4" y1="982" x2="178.4" y2="978" stroke="#111" stroke-width="1.3"/>
<line x1="178.4" y1="712.5" x2="178.4" y2="716.5" stroke="#111" stroke-width="1.3"/>
<line x1="170.5" y1="982" x2="170.5" y2="978" stroke="#111" stroke-width="1.3"/>
<line x1="170.5" y1="712.5" x2="170.5" y2="716.5" stroke="#111" stroke-width="1.3"/>
<line x1="162.5" y1="982" x2="162.5" y2="978" stroke="#111" stroke-width="1.3"/>
<line x1="162.5" y1="712.5" x2="162.5" y2="716.5" stroke="#111" stroke-width="1.3"/>
<line x1="154.6" y1="982" x2="154.6" y2="978" stroke="#111" stroke-width="1.3"/>
<line x1="154.6" y1="712.5" x2="154.6" y2="716.5" stroke="#111" stroke-width="1.3"/>
<line x1="146.7" y1="982" x2="146.7" y2="974" stroke="#111" stroke-width="1.3"/>
<line x1="146.7" y1="712.5" x2="146.7" y2="720.5" stroke="#111" stroke-width="1.3"/>
<line x1="138.8" y1="982" x2="138.8" y2="978" stroke="#111" stroke-width="1.3"/>
<line x1="138.8" y1="712.5" x2="138.8" y2="716.5" stroke="#111" stroke-width="1.3"/>
<line x1="130.9" y1="982" x2="130.9" y2="978" stroke="#111" stroke-width="1.3"/>
<line x1="130.9" y1="712.5" x2="130.9" y2="716.5" stroke="#111" stroke-width="1.3"/>
<line x1="122.9" y1="982" x2="122.9" y2="978" stroke="#111" stroke-width="1.3"/>
<line x1="122.9" y1="712.5" x2="122.9" y2="716.5" stroke="#111" stroke-width="1.3"/>
<line x1="115" y1="982" x2="115" y2="978" stroke="#111" stroke-width="1.3"/>
<line x1="115" y1="712.5" x2="115" y2="716.5" stroke="#111" stroke-width="1.3"/>
<line x1="107.1" y1="982" x2="107.1" y2="978" stroke="#111" stroke-width="1.3"/>
<line x1="107.1" y1="712.5" x2="107.1" y2="716.5" stroke="#111" stroke-width="1.3"/>
<line x1="99.2" y1="982" x2="99.2" y2="978" stroke="#111" stroke-width="1.3"/>
<line x1="99.2" y1="712.5" x2="99.2" y2="716.5" stroke="#111" stroke-width="1.3"/>
<line x1="91.3" y1="982" x2="91.3" y2="978" stroke="#111" stroke-width="1.3"/>
<line x1="91.3" y1="712.5" x2="91.3" y2="716.5" stroke="#111" stroke-width="1.3"/>
<line x1="83.3" y1="982" x2="83.3" y2="978" stroke="#111" stroke-width="1.3"/>
<line x1="83.3" y1="712.5" x2="83.3" y2="716.5" stroke="#111" stroke-width="1.3"/>
<line x1="75.4" y1="982" x2="75.4" y2="978" stroke="#111" stroke-width="1.3"/>
<line x1="75.4" y1="712.5" x2="75.4" y2="716.5" stroke="#111" stroke-width="1.3"/>
<line x1="67.5" y1="982" x2="67.5" y2="974" stroke="#111" stroke-width="1.3"/>
<line x1="67.5" y1="712.5" x2="67.5" y2="720.5" stroke="#111" stroke-width="1.3"/>
<line x1="59.6" y1="982" x2="59.6" y2="978" stroke="#111" stroke-width="1.3"/>
<line x1="59.6" y1="712.5" x2="59.6" y2="716.5" stroke="#111" stroke-width="1.3"/>
<line x1="51.7" y1="982" x2="51.7" y2="978" stroke="#111" stroke-width="1.3"/>
<line x1="51.7" y1="712.5" x2="51.7" y2="716.5" stroke="#111" stroke-width="1.3"/>
<text x="66.1" y="998.8" font-size="13.5" fill="#111" font-weight="normal" text-anchor="middle" textLength="30.4" lengthAdjust="spacingAndGlyphs"  stroke="#111" stroke-width="0.3">2845</text>
<text x="145.3" y="998.8" font-size="13.5" fill="#111" font-weight="normal" text-anchor="middle" textLength="30.4" lengthAdjust="spacingAndGlyphs"  stroke="#111" stroke-width="0.3">2844</text>
<text x="224.5" y="998.8" font-size="13.5" fill="#111" font-weight="normal" text-anchor="middle" textLength="30.4" lengthAdjust="spacingAndGlyphs"  stroke="#111" stroke-width="0.3">2843</text>
<text x="303.7" y="998.8" font-size="13.5" fill="#111" font-weight="normal" text-anchor="middle" textLength="30.4" lengthAdjust="spacingAndGlyphs"  stroke="#111" stroke-width="0.3">2842</text>
<text x="382.9" y="998.8" font-size="13.5" fill="#111" font-weight="normal" text-anchor="middle" textLength="30.4" lengthAdjust="spacingAndGlyphs"  stroke="#111" stroke-width="0.3">2841</text>
<text x="462.1" y="998.8" font-size="13.5" fill="#111" font-weight="normal" text-anchor="middle" textLength="30.4" lengthAdjust="spacingAndGlyphs"  stroke="#111" stroke-width="0.3">2840</text>
<text x="541.3" y="998.8" font-size="13.5" fill="#111" font-weight="normal" text-anchor="middle" textLength="30.4" lengthAdjust="spacingAndGlyphs"  stroke="#111" stroke-width="0.3">2839</text>
<text x="256.3" y="1015.8" font-size="15.6" fill="#000" stroke="#000" stroke-width="0.2" textLength="140.5" lengthAdjust="spacingAndGlyphs">Wavenumber (cm<tspan dy="-6" font-size="9.5">-1</tspan><tspan dy="6">)</tspan></text>
<text transform="translate(15,974.4) rotate(-90)" font-size="16.5" fill="#000" stroke="#000" stroke-width="0.2" textLength="214" lengthAdjust="spacingAndGlyphs">Flux Density (10<tspan dy="-6" font-size="10">-17</tspan><tspan dy="6"> W/m</tspan><tspan dy="-6" font-size="10">2</tspan><tspan dy="6">/cm</tspan><tspan dy="-6" font-size="10">-1</tspan><tspan dy="6">)</tspan></text>
<line x1="47.5" y1="729.7" x2="52.5" y2="729.7" stroke="#111" stroke-width="1.3"/>
<line x1="596" y1="729.7" x2="591" y2="729.7" stroke="#111" stroke-width="1.3"/>
<line x1="47.5" y1="784.6" x2="57.5" y2="784.6" stroke="#111" stroke-width="1.3"/>
<line x1="596" y1="784.6" x2="586" y2="784.6" stroke="#111" stroke-width="1.3"/>
<line x1="47.5" y1="839.5" x2="52.5" y2="839.5" stroke="#111" stroke-width="1.3"/>
<line x1="596" y1="839.5" x2="591" y2="839.5" stroke="#111" stroke-width="1.3"/>
<line x1="47.5" y1="894.4" x2="57.5" y2="894.4" stroke="#111" stroke-width="1.3"/>
<line x1="596" y1="894.4" x2="586" y2="894.4" stroke="#111" stroke-width="1.3"/>
<line x1="47.5" y1="949.3" x2="52.5" y2="949.3" stroke="#111" stroke-width="1.3"/>
<line x1="596" y1="949.3" x2="591" y2="949.3" stroke="#111" stroke-width="1.3"/>
<text x="42.9" y="790.8" font-size="13.5" fill="#111" font-weight="normal" text-anchor="end"  stroke="#111" stroke-width="0.3">10</text>
<text x="42.9" y="899.6" font-size="13.5" fill="#111" font-weight="normal" text-anchor="end"  stroke="#111" stroke-width="0.3">0</text>
<circle cx="64.5" cy="727.2" r="7.6" fill="#b4b4b4" stroke="#8a8a8a" stroke-width="1.3"/>
<text x="64.5" y="730.8" font-size="10" fill="#111" font-weight="normal" text-anchor="middle" >C</text>
<g clip-path="url(#clipC)">
<polyline points="47.5,776.5 48.5,776.4 49.5,776.3 50.5,776.1 51.5,776 52.5,775.9 53.5,775.8 54.5,775.7 55.5,775.5 56.5,775.4 57.5,775.3 58.5,775.2 59.5,775.1 60.5,774.9 61.5,774.8 62.5,774.7 63.5,774.6 64.5,774.4 65.5,774.3 66.5,774.2 67.5,774.1 68.5,773.9 69.5,773.8 70.5,773.7 71.5,773.5 72.5,773.4 73.5,773.3 74.5,773.2 75.5,773.1 76.5,773 77.5,772.9 78.5,772.8 79.5,772.7 80.5,772.7 81.5,772.6 82.5,772.5 83.5,772.5 84.5,772.4 85.5,772.4 86.5,772.3 87.5,772.3 88.5,772.3 89.5,772.2 90.5,772.2 91.5,772.1 92.5,772.1 93.5,772.1 94.5,772 95.5,772 96.5,771.9 97.5,771.9 98.5,771.8 99.5,771.7 100.5,771.7 101.5,771.6 102.5,771.4 103.5,771.3 104.5,771.2 105.5,771 106.5,770.9 107.5,770.8 108.5,770.7 109.5,770.7 110.5,770.7 111.5,770.7 112.5,770.7 113.5,770.8 114.5,770.8 115.5,770.9 116.5,770.9 117.5,771 118.5,771.1 119.5,771.2 120.5,771.2 121.5,771.4 122.5,771.5 123.5,771.7 124.5,771.9 125.5,772.1 126.5,772.3 127.5,772.6 128.5,772.8 129.5,773.1 130.5,773.5 131.5,773.9 132.5,774.5 133.5,775.1 134.5,775.8 135.5,776.5 136.5,777.1 137.5,777.7 138.5,778.3 139.5,778.9 140.5,779.5 141.5,780.1 142.5,780.7 143.5,781.3 144.5,781.8 145.5,782.1 146.5,782.3 147.5,782.3 148.5,782.1 149.5,781.9 150.5,781.5 151.5,781.1 152.5,780.7 153.5,780.3 154.5,779.8 155.5,779.2 156.5,778.6 157.5,777.9 158.5,777.4 159.5,776.9 160.5,776.5 161.5,776.2 162.5,775.9 163.5,775.5 164.5,775.2 165.5,774.9 166.5,774.6 167.5,774.4 168.5,774.1 169.5,773.9 170.5,773.7 171.5,773.6 172.5,773.4 173.5,773.3 174.5,773.3 175.5,773.3 176.5,773.3 177.5,773.3 178.5,773.4 179.5,773.4 180.5,773.4 181.5,773.5 182.5,773.5 183.5,773.6 184.5,773.7 185.5,773.8 186.5,773.8 187.5,773.9 188.5,774 189.5,774.1 190.5,774.2 191.5,774.3 192.5,774.3 193.5,774.4 194.5,774.5 195.5,774.6 196.5,774.7 197.5,774.8 198.5,774.9 199.5,775 200.5,775 201.5,775.1 202.5,775.2 203.5,775.3 204.5,775.4 205.5,775.5 206.5,775.6 207.5,775.7 208.5,775.8 209.5,775.9 210.5,776 211.5,776.1 212.5,776.1 213.5,776.2 214.5,776.3 215.5,776.3 216.5,776.4 217.5,776.4 218.5,776.5 219.5,776.5 220.5,776.5 221.5,776.6 222.5,776.6 223.5,776.6 224.5,776.6 225.5,776.7 226.5,776.7 227.5,776.7 228.5,776.7 229.5,776.8 230.5,776.8 231.5,776.8 232.5,776.8 233.5,776.9 234.5,776.9 235.5,777 236.5,777 237.5,777.1 238.5,777.1 239.5,777.2 240.5,777.2 241.5,777.4 242.5,777.6 243.5,777.8 244.5,778.1 245.5,778.4 246.5,778.7 247.5,779.1 248.5,779.4 249.5,779.8 250.5,780.2 251.5,780.6 252.5,780.9 253.5,781.3 254.5,781.6 255.5,781.9 256.5,782.1 257.5,782.3 258.5,782.4 259.5,782.5 260.5,782.5 261.5,782.4 262.5,782.3 263.5,782.2 264.5,782 265.5,781.8 266.5,781.5 267.5,781.2 268.5,780.9 269.5,780.6 270.5,780.4 271.5,780.1 272.5,779.8 273.5,779.5 274.5,779.2 275.5,779 276.5,778.8 277.5,778.7 278.5,778.6 279.5,778.5 280.5,778.5 281.5,778.5 282.5,778.6 283.5,778.7 284.5,778.8 285.5,779 286.5,779.1 287.5,779.3 288.5,779.5 289.5,779.7 290.5,779.8 291.5,780 292.5,780.2 293.5,780.4 294.5,780.5 295.5,780.7 296.5,780.8 297.5,780.9 298.5,781 299.5,781 300.5,781 301.5,780.8 302.5,780.6 303.5,780.2 304.5,779.8 305.5,779.3 306.5,778.8 307.5,778.2 308.5,777.7 309.5,777.2 310.5,776.7 311.5,776.3 312.5,775.9 313.5,775.7 314.5,775.5 315.5,775.5 316.5,775.6 317.5,775.9 318.5,776.2 319.5,776.6 320.5,777.1 321.5,777.7 322.5,778.3 323.5,778.9 324.5,779.6 325.5,780.2 326.5,780.9 327.5,781.5 328.5,782.2 329.5,782.7 330.5,783.3 331.5,783.9 332.5,784.5 333.5,785.2 334.5,785.9 335.5,786.6 336.5,787.3 337.5,788 338.5,788.6 339.5,789.1 340.5,789.5 341.5,789.8 342.5,790 343.5,790 344.5,789.9 345.5,789.8 346.5,789.5 347.5,789.3 348.5,789 349.5,788.6 350.5,788.3 351.5,787.9 352.5,787.5 353.5,787.1 354.5,786.8 355.5,786.4 356.5,786.1 357.5,785.9 358.5,785.7 359.5,785.5 360.5,785.5 361.5,785.4 362.5,785.4 363.5,785.3 364.5,785.3 365.5,785.2 366.5,785.2 367.5,785.2 368.5,785.2 369.5,785.1 370.5,785.1 371.5,785.1 372.5,785.1 373.5,785 374.5,785 375.5,785 376.5,785 377.5,784.9 378.5,784.9 379.5,784.8 380.5,784.8 381.5,784.7 382.5,784.6 383.5,784.6 384.5,784.5 385.5,784.4 386.5,784.3 387.5,784.2 388.5,784.1 389.5,783.9 390.5,783.8 391.5,783.7 392.5,783.6 393.5,783.4 394.5,783.3 395.5,783.2 396.5,783 397.5,782.9 398.5,782.7 399.5,782.6 400.5,782.4 401.5,782.2 402.5,782 403.5,781.8 404.5,781.5 405.5,781.3 406.5,781 407.5,780.8 408.5,780.5 409.5,780.3 410.5,780.2 411.5,780.1 412.5,780 413.5,780.1 414.5,780.5 415.5,781.2 416.5,782.2 417.5,783.2 418.5,784.2 419.5,785.1 420.5,785.8 421.5,786.5 422.5,787.3 423.5,788 424.5,788.7 425.5,789.4 426.5,790 427.5,790.4 428.5,790.8 429.5,791 430.5,791 431.5,790.9 432.5,790.8 433.5,790.7 434.5,790.5 435.5,790.2 436.5,790 437.5,789.8 438.5,789.5 439.5,789.3 440.5,789 441.5,788.8 442.5,788.7 443.5,788.6 444.5,788.5 445.5,788.5 446.5,788.6 447.5,788.7 448.5,788.9 449.5,789.2 450.5,789.5 451.5,789.9 452.5,790.2 453.5,790.6 454.5,791 455.5,791.5 456.5,791.9 457.5,792.3 458.5,792.6 459.5,793 460.5,793.3 461.5,793.6 462.5,793.8 463.5,793.9 464.5,794 465.5,794 466.5,794 467.5,793.9 468.5,793.8 469.5,793.7 470.5,793.5 471.5,793.4 472.5,793.2 473.5,793 474.5,792.8 475.5,792.5 476.5,792.3 477.5,792 478.5,791.8 479.5,791.5 480.5,791.2 481.5,791 482.5,790.7 483.5,790.4 484.5,790.2 485.5,789.9 486.5,789.7 487.5,789.5 488.5,789.3 489.5,789.1 490.5,788.9 491.5,788.7 492.5,788.5 493.5,788.4 494.5,788.2 495.5,788 496.5,787.8 497.5,787.6 498.5,787.4 499.5,787.2 500.5,787 501.5,786.8 502.5,786.6 503.5,786.5 504.5,786.4 505.5,786.3 506.5,786.2 507.5,786.1 508.5,786 509.5,786 510.5,786 511.5,786 512.5,786.1 513.5,786.2 514.5,786.3 515.5,786.4 516.5,786.6 517.5,786.7 518.5,786.9 519.5,787.1 520.5,787.2 521.5,787.4 522.5,787.6 523.5,787.8 524.5,787.9 525.5,788.1 526.5,788.2 527.5,788.4 528.5,788.6 529.5,788.7 530.5,788.9 531.5,789.1 532.5,789.3 533.5,789.5 534.5,789.6 535.5,789.8 536.5,790 537.5,790.1 538.5,790.3 539.5,790.4 540.5,790.6 541.5,790.7 542.5,790.8 543.5,790.9 544.5,791 545.5,791.1 546.5,791.2 547.5,791.3 548.5,791.4 549.5,791.4 550.5,791.5 551.5,791.6 552.5,791.7 553.5,791.8 554.5,791.9 555.5,792 556.5,792.1 557.5,792.3 558.5,792.4 559.5,792.5 560.5,792.7 561.5,792.8 562.5,793 563.5,793.2 564.5,793.4 565.5,793.7 566.5,794 567.5,794.3 568.5,794.7 569.5,795.4 570.5,796.4 571.5,797.4 572.5,798.5 573.5,799.6 574.5,800.6 575.5,801.4 576.5,802.3 577.5,803.1 578.5,803.8 579.5,804.2 580.5,804.3 581.5,804.2 582.5,804 583.5,803.7 584.5,803.4 585.5,803 586.5,802.7 587.5,802.4 588.5,802.1 589.5,801.7 590.5,801.4 591.5,801.1 592.5,800.8 593.5,800.4 594.5,800.1 595.5,799.7" fill="none" stroke="#a6a6a6" stroke-width="2.8" stroke-linejoin="round" stroke-dasharray="3.5,3"/>
<polyline points="47.5,778 50.3,778 50.3,774.3 53,774.3 53,774.5 57,774.5 57,772.4 59.7,772.4 59.7,780.4 61.7,780.4 61.7,773.7 65.7,773.7 65.7,778.3 68.3,778.3 68.3,778.2 72.3,778.2 72.3,768.7 74.3,768.7 74.3,764.8 76.3,764.8 76.3,768.8 79,768.8 79,772.7 81.7,772.7 81.7,770.2 84.3,770.2 84.3,772.4 87,772.4 87,774 89.7,774 89.7,780.3 92.3,780.3 92.3,765.9 94.3,765.9 94.3,770.1 96.3,770.1 96.3,766.5 101.7,766.5 101.7,759.9 104.3,759.9 104.3,761 107,761 107,760.2 111,760.2 111,758.3 113.7,758.3 113.7,759.6 116.3,759.6 116.3,762.2 119,762.2 119,763.6 121.7,763.6 121.7,759.3 124.3,759.3 124.3,759.6 125,759.6 125,761.9 127.7,761.9 127.7,762.4 131,762.4 131,762.5 134.3,762.5 134.3,762.3 136.3,762.3 136.3,765.6 138.3,765.6 138.3,775.6 141.7,775.6 141.7,772.4 145,772.4 145,779.8 147.7,779.8 147.7,768.1 149.7,768.1 149.7,775.5 152.3,775.5 152.3,765.5 155.7,765.5 155.7,762.6 158.3,762.6 158.3,761.9 161.7,761.9 161.7,758 164.3,758 164.3,762.6 166.3,762.6 166.3,759.4 169,759.4 169,762.8 171,762.8 171,770.9 173.7,770.9 173.7,764.7 176.3,764.7 176.3,765.8 179,765.8 179,764.8 181,764.8 181,759.9 183.7,759.9 183.7,771.6 186.3,771.6 186.3,775.9 188.3,775.9 188.3,769.4 191.7,769.4 191.7,769.1 194.3,769.1 194.3,766.6 197.7,766.6 197.7,770.3 200.3,770.3 200.3,768.1 203,768.1 203,769.9 205.7,769.9 205.7,769.2 208.3,769.2 208.3,773 210.3,773 210.3,776.8 213.7,776.8 213.7,781.8 216.3,781.8 216.3,774 219.7,774 219.7,773.4 222.3,773.4 222.3,780.2 225,780.2 225,773 228.3,773 228.3,772.3 231,772.3 231,779.1 235,779.1 235,772.6 238.3,772.6 238.3,775.5 240.3,775.5 240.3,774.3 242.3,774.3 242.3,783.4 244.3,783.4 244.3,777.3 246.3,777.3 246.3,784 248.3,784 248.3,770.2 250.3,770.2 250.3,780.4 252.3,780.4 252.3,777.2 255,777.2 255,786.7 257.7,786.7 257.7,777.2 260.3,777.2 260.3,775.7 262.3,775.7 262.3,779.5 264.3,779.5 264.3,773.5 268.3,773.5 268.3,776.4 271,776.4 271,776.2 273.7,776.2 273.7,777.3 277.7,777.3 277.7,780.1 281.7,780.1 281.7,776.9 283,776.9 283,775.1 285.7,775.1 285.7,774.2 288.3,774.2 288.3,776.7 291,776.7 291,780.6 293.7,780.6 293.7,784.4 296.3,784.4 296.3,783.4 298.3,783.4 298.3,787.5 300.3,787.5 300.3,790.7 302.3,790.7 302.3,784.7 304.3,784.7 304.3,777.4 307,777.4 307,771.8 309,771.8 309,768.9 311.7,768.9 311.7,768.5 313.7,768.5 313.7,772.8 316.3,772.8 316.3,770 319.7,770 319.7,778 321.7,778 321.7,772.1 323.7,772.1 323.7,773.1 326.3,773.1 326.3,780 328.3,780 328.3,787.6 331,787.6 331,782.8 333.7,782.8 333.7,783.4 336.3,783.4 336.3,780 339,780 339,786.9 342.3,786.9 342.3,794.8 345.7,794.8 345.7,783.3 349,783.3 349,785.4 351.7,785.4 351.7,791.6 354.3,791.6 354.3,785.8 357,785.8 357,782.4 359,782.4 359,780.8 361,780.8 361,778.7 364.3,778.7 364.3,780.6 366.3,780.6 366.3,781.2 369,781.2 369,786.4 371.7,786.4 371.7,782.4 373.7,782.4 373.7,788.3 376.3,788.3 376.3,780.1 382.3,780.1 382.3,789.1 385.7,789.1 385.7,780.2 388.3,780.2 388.3,781.2 391,781.2 391,788.2 393,788.2 393,783.9 395,783.9 395,780.9 397,780.9 397,785.2 399,785.2 399,776.1 401.7,776.1 401.7,781.9 403.7,781.9 403.7,783.7 405.7,783.7 405.7,791.4 407.7,791.4 407.7,779.1 409.7,779.1 409.7,777 412.3,777 412.3,773.7 415,773.7 415,781.4 417.7,781.4 417.7,784.9 420.3,784.9 420.3,796.8 421.7,796.8 421.7,786.8 425,786.8 425,787.6 428.3,787.6 428.3,791.3 431.7,791.3 431.7,788.9 435,788.9 435,787.5 437,787.5 437,787.5 439.7,787.5 439.7,784.8 442.3,784.8 442.3,779.7 444.3,779.7 444.3,783 447.7,783 447.7,786.5 452.3,786.5 452.3,784 455,784 455,784.6 457.7,784.6 457.7,782.9 459.7,782.9 459.7,787.8 463,787.8 463,787 465.7,787 465.7,790.9 468.3,790.9 468.3,792.7 470.3,792.7 470.3,793.7 472.3,793.7 472.3,795.2 474.3,795.2 474.3,790.1 476.3,790.1 476.3,788.1 479,788.1 479,786.5 482.3,786.5 482.3,792.3 484.3,792.3 484.3,790.9 487,790.9 487,788.1 489.7,788.1 489.7,784.8 491.7,784.8 491.7,786.7 494.3,786.7 494.3,787.2 496.3,787.2 496.3,790.3 499,790.3 499,785.7 502.3,785.7 502.3,784.1 505,784.1 505,784.6 508.3,784.6 508.3,787.6 512.3,787.6 512.3,785.3 514.3,785.3 514.3,782.2 515,782.2 515,783.2 517.7,783.2 517.7,781.9 519.8,781.9 519.8,780.6 522.5,780.6 522.5,783 525.9,783 525.9,778.1 528,778.1 528,785.9 530,785.9 530,783.9 532.1,783.9 532.1,778 534.1,778 534.1,775.3 536.9,775.3 536.9,785.8 539.6,785.8 539.6,779.9 541.6,779.9 541.6,780.7 545.1,780.7 545.1,776.3 547.8,776.3 547.8,771.8 549.8,771.8 549.8,778.3 553.9,778.3 553.9,774.9 556,774.9 556,776.2 560.1,776.2 560.1,781.1 562.1,781.1 562.1,785.9 564.9,785.9 564.9,797.3 567.6,797.3 567.6,798.2 570.3,798.2 570.3,802.6 573.7,802.6 573.7,803.1 577.2,803.1 577.2,806.4 579.9,806.4 579.9,810.1 581.9,810.1 581.9,804 585.4,804 585.4,797 587.4,797 587.4,794.9 590.1,794.9 590.1,803.1 591.5,803.1 591.5,800.7 595.3,800.7" fill="none" stroke="#111" stroke-width="1.3" stroke-linejoin="round" stroke-linejoin="miter"/>
<polyline points="47.5,769 48.5,769.6 49.5,770.3 50.5,770.9 51.5,771.4 52.5,771.9 53.5,772.4 54.5,772.8 55.5,773.2 56.5,773.6 57.5,774 58.5,774.3 59.5,774.6 60.5,774.9 61.5,775 62.5,775 63.5,774.9 64.5,774.8 65.5,774.6 66.5,774.4 67.5,774.1 68.5,773.9 69.5,773.6 70.5,773.4 71.5,773.1 72.5,772.9 73.5,772.6 74.5,772.3 75.5,772 76.5,771.7 77.5,771.4 78.5,771.1 79.5,770.8 80.5,770.6 81.5,770.4 82.5,770.2 83.5,770 84.5,769.8 85.5,769.6 86.5,769.5 87.5,769.3 88.5,769.2 89.5,769 90.5,768.9 91.5,768.7 92.5,768.5 93.5,768.4 94.5,768.2 95.5,767.9 96.5,767.7 97.5,767.5 98.5,767.2 99.5,766.9 100.5,766.5 101.5,766 102.5,765.4 103.5,764.7 104.5,763.9 105.5,763.1 106.5,762.2 107.5,761.4 108.5,760.6 109.5,759.5 110.5,758.4 111.5,757.4 112.5,756.8 113.5,756.7 114.5,756.8 115.5,756.9 116.5,757.1 117.5,757.3 118.5,757.6 119.5,757.9 120.5,758.1 121.5,758.5 122.5,758.9 123.5,759.4 124.5,760 125.5,760.6 126.5,761.2 127.5,761.8 128.5,762.4 129.5,763 130.5,763.6 131.5,764.2 132.5,764.9 133.5,765.6 134.5,766.3 135.5,766.9 136.5,767.6 137.5,768.2 138.5,768.8 139.5,769.3 140.5,769.7 141.5,770.1 142.5,770.6 143.5,771 144.5,771.3 145.5,771.5 146.5,771.7 147.5,771.7 148.5,771.4 149.5,771 150.5,770.4 151.5,769.7 152.5,769 153.5,768.3 154.5,767.7 155.5,767.3 156.5,766.8 157.5,766.3 158.5,765.8 159.5,765.3 160.5,765 161.5,764.7 162.5,764.5 163.5,764.5 164.5,764.5 165.5,764.5 166.5,764.6 167.5,764.6 168.5,764.6 169.5,764.7 170.5,764.8 171.5,765 172.5,765.5 173.5,766.1 174.5,766.8 175.5,767.5 176.5,768.2 177.5,768.9 178.5,769.5 179.5,769.9 180.5,770.1 181.5,770.3 182.5,770.4 183.5,770.6 184.5,770.7 185.5,770.9 186.5,771 187.5,771.1 188.5,771.2 189.5,771.3 190.5,771.3 191.5,771.4 192.5,771.5 193.5,771.6 194.5,771.7 195.5,771.8 196.5,771.9 197.5,772 198.5,772.1 199.5,772.2 200.5,772.4 201.5,772.5 202.5,772.7 203.5,772.9 204.5,773.1 205.5,773.3 206.5,773.6 207.5,773.8 208.5,774 209.5,774.2 210.5,774.4 211.5,774.6 212.5,774.7 213.5,774.9 214.5,775 215.5,775 216.5,775.1 217.5,775.2 218.5,775.2 219.5,775.2 220.5,775.3 221.5,775.3 222.5,775.4 223.5,775.4 224.5,775.4 225.5,775.4 226.5,775.5 227.5,775.5 228.5,775.5 229.5,775.5 230.5,775.6 231.5,775.6 232.5,775.6 233.5,775.7 234.5,775.7 235.5,775.7 236.5,775.8 237.5,775.8 238.5,775.9 239.5,776 240.5,776 241.5,776.2 242.5,776.4 243.5,776.6 244.5,776.9 245.5,777.3 246.5,777.6 247.5,778 248.5,778.4 249.5,778.8 250.5,779.2 251.5,779.6 252.5,780 253.5,780.4 254.5,780.7 255.5,781 256.5,781.3 257.5,781.5 258.5,781.6 259.5,781.7 260.5,781.7 261.5,781.6 262.5,781.5 263.5,781.3 264.5,781.1 265.5,780.9 266.5,780.6 267.5,780.3 268.5,780 269.5,779.7 270.5,779.3 271.5,779 272.5,778.7 273.5,778.4 274.5,778.1 275.5,777.9 276.5,777.7 277.5,777.5 278.5,777.4 279.5,777.3 280.5,777.3 281.5,777.3 282.5,777.4 283.5,777.5 284.5,777.6 285.5,777.8 286.5,778 287.5,778.2 288.5,778.3 289.5,778.5 290.5,778.8 291.5,779 292.5,779.1 293.5,779.3 294.5,779.5 295.5,779.7 296.5,779.8 297.5,779.9 298.5,780 299.5,780 300.5,780 301.5,779.8 302.5,779.5 303.5,779.1 304.5,778.6 305.5,778 306.5,777.3 307.5,776.7 308.5,776 309.5,775.3 310.5,774.7 311.5,774.2 312.5,773.8 313.5,773.5 314.5,773.3 315.5,773.3 316.5,773.5 317.5,773.7 318.5,774.1 319.5,774.6 320.5,775.1 321.5,775.8 322.5,776.4 323.5,777.1 324.5,777.9 325.5,778.6 326.5,779.4 327.5,780.1 328.5,780.8 329.5,781.4 330.5,782 331.5,782.7 332.5,783.4 333.5,784.1 334.5,784.9 335.5,785.7 336.5,786.4 337.5,787.1 338.5,787.8 339.5,788.3 340.5,788.8 341.5,789.1 342.5,789.3 343.5,789.3 344.5,789.2 345.5,789 346.5,788.8 347.5,788.4 348.5,788.1 349.5,787.7 350.5,787.2 351.5,786.8 352.5,786.3 353.5,785.9 354.5,785.5 355.5,785.1 356.5,784.7 357.5,784.4 358.5,784.2 359.5,784 360.5,784 361.5,783.9 362.5,783.9 363.5,783.8 364.5,783.8 365.5,783.7 366.5,783.7 367.5,783.7 368.5,783.7 369.5,783.6 370.5,783.6 371.5,783.6 372.5,783.6 373.5,783.5 374.5,783.5 375.5,783.5 376.5,783.5 377.5,783.4 378.5,783.4 379.5,783.3 380.5,783.3 381.5,783.2 382.5,783.1 383.5,783.1 384.5,783 385.5,782.9 386.5,782.8 387.5,782.7 388.5,782.5 389.5,782.4 390.5,782.3 391.5,782.2 392.5,782 393.5,781.9 394.5,781.7 395.5,781.5 396.5,781.4 397.5,781.2 398.5,781 399.5,780.8 400.5,780.6 401.5,780.3 402.5,779.9 403.5,779.5 404.5,779 405.5,778.5 406.5,778 407.5,777.5 408.5,777.1 409.5,776.7 410.5,776.4 411.5,776.1 412.5,776 413.5,776.1 414.5,776.8 415.5,778 416.5,779.5 417.5,781.2 418.5,782.7 419.5,784 420.5,784.9 421.5,785.8 422.5,786.6 423.5,787.4 424.5,788.2 425.5,788.9 426.5,789.5 427.5,789.9 428.5,790.3 429.5,790.5 430.5,790.5 431.5,790.4 432.5,790.3 433.5,790.1 434.5,789.9 435.5,789.6 436.5,789.3 437.5,789 438.5,788.7 439.5,788.4 440.5,788.1 441.5,787.9 442.5,787.7 443.5,787.6 444.5,787.5 445.5,787.5 446.5,787.6 447.5,787.8 448.5,788 449.5,788.3 450.5,788.6 451.5,789 452.5,789.4 453.5,789.8 454.5,790.3 455.5,790.7 456.5,791.2 457.5,791.6 458.5,792 459.5,792.4 460.5,792.7 461.5,793 462.5,793.2 463.5,793.4 464.5,793.5 465.5,793.5 466.5,793.5 467.5,793.4 468.5,793.3 469.5,793.2 470.5,793 471.5,792.8 472.5,792.6 473.5,792.4 474.5,792.2 475.5,791.9 476.5,791.6 477.5,791.3 478.5,791 479.5,790.7 480.5,790.4 481.5,790.1 482.5,789.8 483.5,789.5 484.5,789.1 485.5,788.8 486.5,788.5 487.5,788.2 488.5,787.9 489.5,787.6 490.5,787.4 491.5,787.1 492.5,786.7 493.5,786.4 494.5,786 495.5,785.6 496.5,785.2 497.5,784.8 498.5,784.4 499.5,784 500.5,783.6 501.5,783.3 502.5,782.9 503.5,782.6 504.5,782.3 505.5,782.1 506.5,781.9 507.5,781.7 508.5,781.6 509.5,781.5 510.5,781.5 511.5,781.6 512.5,781.7 513.5,781.9 514.5,782.1 515.5,782.3 516.5,782.6 517.5,782.9 518.5,783.2 519.5,783.6 520.5,783.9 521.5,784.3 522.5,784.6 523.5,784.9 524.5,785.2 525.5,785.4 526.5,785.6 527.5,785.8 528.5,785.9 529.5,786 530.5,786 531.5,785.9 532.5,785.7 533.5,785.5 534.5,785.2 535.5,784.9 536.5,784.5 537.5,784.1 538.5,783.7 539.5,783.2 540.5,782.8 541.5,782.3 542.5,781.9 543.5,781.5 544.5,781.1 545.5,780.8 546.5,780.5 547.5,780.3 548.5,780.1 549.5,780 550.5,780 551.5,780.3 552.5,780.7 553.5,781.3 554.5,782.1 555.5,783 556.5,784.1 557.5,785.2 558.5,786.3 559.5,787.5 560.5,788.7 561.5,789.9 562.5,791 563.5,792.1 564.5,793.1 565.5,793.9 566.5,794.8 567.5,795.7 568.5,796.5 569.5,797.3 570.5,798.2 571.5,798.9 572.5,799.7 573.5,800.3 574.5,801.1 575.5,801.9 576.5,802.6 577.5,803.2 578.5,803.7 579.5,804 580.5,804 581.5,803.9 582.5,803.7 583.5,803.4 584.5,803.1 585.5,802.8 586.5,802.5 587.5,802.2 588.5,801.8 589.5,801.5 590.5,801.2 591.5,800.8 592.5,800.4 593.5,800.1 594.5,799.6 595.5,799.2" fill="none" stroke="#40c6ec" stroke-width="1.5" stroke-linejoin="round" />
<polyline points="47.5,831 48.5,831.3 49.5,831.6 50.5,831.9 51.5,832.2 52.5,832.5 53.5,832.8 54.5,833.1 55.5,833.3 56.5,833.5 57.5,833.7 58.5,833.9 59.5,834 60.5,834 61.5,834.1 62.5,834.2 63.5,834.2 64.5,834.3 65.5,834.3 66.5,834.4 67.5,834.4 68.5,834.5 69.5,834.5 70.5,834.6 71.5,834.6 72.5,834.7 73.5,834.7 74.5,834.7 75.5,834.8 76.5,834.8 77.5,834.8 78.5,834.8 79.5,834.9 80.5,834.9 81.5,834.9 82.5,834.9 83.5,835 84.5,835 85.5,835 86.5,835 87.5,835 88.5,835 89.5,835 90.5,835 91.5,834.9 92.5,834.6 93.5,834.3 94.5,833.9 95.5,833.5 96.5,833 97.5,832.4 98.5,831.8 99.5,831.3 100.5,830.7 101.5,829.9 102.5,829 103.5,828 104.5,827.1 105.5,826.3 106.5,825.7 107.5,825.1 108.5,824.6 109.5,824.1 110.5,823.7 111.5,823.5 112.5,823.5 113.5,823.8 114.5,824.1 115.5,824.7 116.5,825.2 117.5,825.7 118.5,826.3 119.5,826.9 120.5,827.7 121.5,828.4 122.5,829.1 123.5,829.6 124.5,830 125.5,830 126.5,830 127.5,829.9 128.5,829.8 129.5,829.7 130.5,829.6 131.5,829.5 132.5,829.5 133.5,829.4 134.5,829.2 135.5,829.1 136.5,829 137.5,828.9 138.5,828.7 139.5,828.6 140.5,828.4 141.5,828.2 142.5,828 143.5,827.7 144.5,827.4 145.5,827.1 146.5,826.8 147.5,826.5 148.5,826.1 149.5,825.9 150.5,825.6 151.5,825.4 152.5,825.2 153.5,825.1 154.5,825 155.5,825 156.5,825.1 157.5,825.3 158.5,825.6 159.5,825.9 160.5,826.3 161.5,826.6 162.5,827 163.5,827.4 164.5,827.8 165.5,828.2 166.5,828.6 167.5,829 168.5,829.4 169.5,829.9 170.5,830.3 171.5,830.7 172.5,831.2 173.5,831.5 174.5,831.9 175.5,832.1 176.5,832.4 177.5,832.7 178.5,832.9 179.5,833.1 180.5,833.3 181.5,833.6 182.5,833.8 183.5,834 184.5,834.1 185.5,834.3 186.5,834.5 187.5,834.6 188.5,834.8 189.5,834.9 190.5,835.1 191.5,835.2 192.5,835.3 193.5,835.4 194.5,835.6 195.5,835.7 196.5,835.8 197.5,835.8 198.5,835.9 199.5,836 200.5,836 201.5,836.1 202.5,836.1 203.5,836.1 204.5,836.2 205.5,836.2 206.5,836.3 207.5,836.3 208.5,836.3 209.5,836.4 210.5,836.4 211.5,836.4 212.5,836.5 213.5,836.5 214.5,836.5 215.5,836.6 216.5,836.6 217.5,836.6 218.5,836.7 219.5,836.7 220.5,836.7 221.5,836.7 222.5,836.8 223.5,836.8 224.5,836.8 225.5,836.8 226.5,836.8 227.5,836.9 228.5,836.9 229.5,836.9 230.5,836.9 231.5,836.9 232.5,837 233.5,837 234.5,837 235.5,837 236.5,837 237.5,837 238.5,837.1 239.5,837.1 240.5,837.1 241.5,837.1 242.5,837.1 243.5,837.1 244.5,837.1 245.5,837.1 246.5,837.2 247.5,837.2 248.5,837.2 249.5,837.2 250.5,837.2 251.5,837.2 252.5,837.2 253.5,837.2 254.5,837.3 255.5,837.3 256.5,837.3 257.5,837.3 258.5,837.3 259.5,837.3 260.5,837.3 261.5,837.3 262.5,837.3 263.5,837.3 264.5,837.4 265.5,837.4 266.5,837.4 267.5,837.4 268.5,837.4 269.5,837.4 270.5,837.4 271.5,837.4 272.5,837.4 273.5,837.4 274.5,837.4 275.5,837.4 276.5,837.5 277.5,837.5 278.5,837.5 279.5,837.5 280.5,837.5 281.5,837.5 282.5,837.5 283.5,837.5 284.5,837.5 285.5,837.5 286.5,837.5 287.5,837.5 288.5,837.5 289.5,837.5 290.5,837.5 291.5,837.5 292.5,837.4 293.5,837.3 294.5,837.2 295.5,837 296.5,836.8 297.5,836.6 298.5,836.4 299.5,836.2 300.5,836 301.5,835.8 302.5,835.5 303.5,835.3 304.5,835.1 305.5,834.9 306.5,834.6 307.5,834.3 308.5,834 309.5,833.7 310.5,833.3 311.5,833 312.5,832.8 313.5,832.6 314.5,832.5 315.5,832.5 316.5,832.6 317.5,832.8 318.5,833.1 319.5,833.4 320.5,833.8 321.5,834.1 322.5,834.4 323.5,834.7 324.5,834.9 325.5,835.1 326.5,835.2 327.5,835.3 328.5,835.4 329.5,835.5 330.5,835.6 331.5,835.7 332.5,835.8 333.5,835.9 334.5,836 335.5,836 336.5,836.1 337.5,836.2 338.5,836.2 339.5,836.3 340.5,836.3 341.5,836.4 342.5,836.4 343.5,836.5 344.5,836.5 345.5,836.5 346.5,836.5 347.5,836.5 348.5,836.4 349.5,836.3 350.5,836.1 351.5,835.9 352.5,835.6 353.5,835.4 354.5,835.1 355.5,834.9 356.5,834.7 357.5,834.5 358.5,834.4 359.5,834.4 360.5,834.4 361.5,834.5 362.5,834.6 363.5,834.7 364.5,834.9 365.5,835.1 366.5,835.3 367.5,835.5 368.5,835.7 369.5,835.9 370.5,836.1 371.5,836.2 372.5,836.4 373.5,836.4 374.5,836.5 375.5,836.5 376.5,836.5 377.5,836.4 378.5,836.3 379.5,836.2 380.5,836.1 381.5,835.9 382.5,835.8 383.5,835.6 384.5,835.4 385.5,835.3 386.5,835.1 387.5,835 388.5,834.8 389.5,834.7 390.5,834.6 391.5,834.5 392.5,834.4 393.5,834.4 394.5,834.4 395.5,834.5 396.5,834.5 397.5,834.7 398.5,834.8 399.5,835 400.5,835.2 401.5,835.4 402.5,835.5 403.5,835.7 404.5,835.9 405.5,836.1 406.5,836.2 407.5,836.4 408.5,836.4 409.5,836.5 410.5,836.5 411.5,836.5 412.5,836.5 413.5,836.5 414.5,836.5 415.5,836.5 416.5,836.5 417.5,836.5 418.5,836.5 419.5,836.5 420.5,836.5 421.5,836.5 422.5,836.5 423.5,836.5 424.5,836.5 425.5,836.5 426.5,836.5 427.5,836.5 428.5,836.5 429.5,836.5 430.5,836.5 431.5,836.5 432.5,836.5 433.5,836.5 434.5,836.5 435.5,836.5 436.5,836.5 437.5,836.5 438.5,836.5 439.5,836.5 440.5,836.5 441.5,836.5 442.5,836.5 443.5,836.5 444.5,836.5 445.5,836.5 446.5,836.5 447.5,836.5 448.5,836.5 449.5,836.5 450.5,836.5 451.5,836.5 452.5,836.5 453.5,836.5 454.5,836.5 455.5,836.5 456.5,836.5 457.5,836.5 458.5,836.5 459.5,836.5 460.5,836.5 461.5,836.5 462.5,836.5 463.5,836.5 464.5,836.5 465.5,836.5 466.5,836.5 467.5,836.5 468.5,836.5 469.5,836.5 470.5,836.5 471.5,836.5 472.5,836.4 473.5,836.3 474.5,836.1 475.5,836 476.5,835.8 477.5,835.6 478.5,835.4 479.5,835.3 480.5,835.1 481.5,834.9 482.5,834.8 483.5,834.6 484.5,834.5 485.5,834.4 486.5,834.4 487.5,834.4 488.5,834.5 489.5,834.6 490.5,834.7 491.5,834.8 492.5,835 493.5,835.2 494.5,835.4 495.5,835.6 496.5,835.7 497.5,835.8 498.5,835.9 499.5,836 500.5,836 501.5,835.9 502.5,835.9 503.5,835.7 504.5,835.6 505.5,835.4 506.5,835.2 507.5,835 508.5,834.8 509.5,834.6 510.5,834.4 511.5,834.2 512.5,834 513.5,833.8 514.5,833.7 515.5,833.6 516.5,833.5 517.5,833.5 518.5,833.6 519.5,833.7 520.5,834 521.5,834.3 522.5,834.6 523.5,834.9 524.5,835.2 525.5,835.4 526.5,835.5 527.5,835.5 528.5,835.4 529.5,835.3 530.5,835.1 531.5,834.9 532.5,834.6 533.5,834.4 534.5,834.2 535.5,834.1 536.5,834 537.5,834 538.5,834.1 539.5,834.2 540.5,834.4 541.5,834.6 542.5,834.9 543.5,835.1 544.5,835.4 545.5,835.7 546.5,835.9 547.5,836.1 548.5,836.3 549.5,836.5 550.5,836.5 551.5,836.6 552.5,836.7 553.5,836.7 554.5,836.8 555.5,836.8 556.5,836.9 557.5,836.9 558.5,837 559.5,837 560.5,837 561.5,837.1 562.5,837.1 563.5,837.1 564.5,837.2 565.5,837.2 566.5,837.2 567.5,837.3 568.5,837.3 569.5,837.3 570.5,837.3 571.5,837.4 572.5,837.4 573.5,837.4 574.5,837.5 575.5,837.5 576.5,837.6 577.5,837.6 578.5,837.6 579.5,837.7 580.5,837.7 581.5,837.8 582.5,837.8 583.5,837.8 584.5,837.9 585.5,837.9 586.5,837.9 587.5,838 588.5,838 589.5,838.1 590.5,838.1 591.5,838.1 592.5,838.2 593.5,838.2 594.5,838.2 595.5,838.3" fill="none" stroke="#b232b2" stroke-width="1.8" stroke-linejoin="round" />
<polyline points="47.5,883 48.5,883 49.5,883 50.5,883 51.5,883 52.5,883 53.5,883 54.5,883 55.5,883 56.5,883 57.5,883 58.5,883 59.5,883 60.5,883 61.5,883 62.5,883 63.5,883 64.5,883 65.5,883 66.5,883 67.5,883 68.5,883 69.5,883 70.5,883 71.5,883 72.5,883 73.5,883 74.5,883 75.5,883 76.5,883 77.5,883 78.5,883 79.5,883 80.5,883 81.5,883 82.5,883 83.5,883 84.5,883 85.5,883 86.5,883 87.5,883 88.5,883 89.5,883 90.5,883 91.5,883 92.5,883 93.5,883 94.5,883 95.5,883 96.5,883 97.5,883 98.5,883 99.5,883 100.5,883 101.5,883 102.5,883 103.5,883 104.5,883 105.5,883 106.5,883 107.5,883 108.5,883 109.5,883 110.5,883 111.5,883 112.5,883 113.5,883 114.5,883 115.5,883 116.5,883 117.5,883 118.5,883 119.5,883 120.5,883 121.5,883 122.5,883 123.5,883 124.5,883 125.5,883 126.5,883 127.5,883 128.5,883 129.5,883 130.5,883 131.5,883 132.5,883 133.5,883 134.5,883 135.5,883 136.5,883 137.5,883 138.5,883 139.5,883 140.5,883 141.5,883 142.5,883 143.5,883 144.5,883 145.5,883 146.5,883 147.5,883 148.5,883 149.5,883 150.5,883 151.5,883 152.5,883 153.5,883 154.5,883 155.5,883 156.5,883 157.5,883 158.5,883 159.5,883 160.5,883 161.5,883 162.5,883 163.5,883 164.5,883 165.5,883 166.5,883 167.5,883 168.5,883 169.5,883 170.5,883 171.5,883 172.5,883 173.5,883 174.5,883 175.5,883 176.5,883 177.5,883 178.5,883 179.5,883 180.5,883 181.5,883 182.5,883 183.5,883 184.5,883 185.5,883 186.5,883 187.5,883 188.5,883 189.5,883 190.5,883 191.5,883 192.5,883 193.5,883 194.5,883 195.5,883 196.5,883 197.5,883 198.5,883 199.5,883 200.5,883 201.5,883 202.5,883 203.5,883 204.5,883 205.5,883 206.5,883 207.5,883 208.5,883 209.5,883 210.5,883 211.5,883 212.5,883 213.5,883 214.5,883 215.5,883 216.5,883 217.5,883 218.5,883 219.5,883 220.5,883 221.5,883 222.5,883 223.5,883 224.5,883 225.5,883 226.5,883 227.5,883 228.5,883 229.5,883 230.5,883 231.5,883 232.5,883 233.5,883 234.5,883 235.5,883 236.5,883 237.5,883 238.5,883 239.5,883 240.5,883 241.5,883 242.5,883 243.5,883 244.5,883 245.5,883 246.5,883 247.5,883 248.5,883 249.5,883 250.5,883 251.5,883 252.5,883 253.5,883 254.5,883 255.5,883 256.5,883 257.5,883 258.5,883 259.5,883 260.5,883 261.5,883 262.5,883 263.5,883 264.5,883 265.5,883 266.5,883 267.5,883 268.5,883 269.5,883 270.5,883 271.5,883 272.5,883 273.5,883 274.5,883 275.5,883 276.5,883 277.5,883 278.5,883 279.5,883 280.5,883 281.5,883 282.5,883 283.5,883 284.5,883 285.5,883 286.5,883 287.5,883 288.5,883 289.5,883 290.5,883 291.5,883 292.5,883 293.5,883 294.5,883 295.5,883 296.5,883 297.5,883 298.5,883 299.5,883 300.5,883 301.5,883 302.5,883 303.5,883 304.5,883 305.5,883 306.5,883 307.5,883 308.5,883 309.5,883 310.5,883 311.5,883 312.5,883 313.5,883 314.5,883 315.5,883 316.5,883 317.5,883 318.5,883 319.5,883 320.5,883 321.5,883 322.5,883 323.5,883 324.5,883 325.5,883 326.5,883 327.5,883 328.5,883 329.5,883 330.5,883 331.5,883 332.5,883 333.5,883 334.5,883 335.5,883 336.5,883 337.5,883 338.5,883 339.5,883 340.5,883 341.5,883 342.5,883 343.5,883 344.5,883 345.5,883 346.5,883 347.5,883 348.5,883 349.5,883 350.5,883 351.5,883 352.5,883 353.5,883 354.5,883 355.5,883 356.5,883 357.5,883 358.5,883 359.5,883 360.5,883 361.5,883 362.5,883 363.5,883 364.5,883 365.5,883 366.5,883 367.5,883 368.5,883 369.5,883 370.5,883 371.5,883 372.5,883 373.5,883 374.5,883 375.5,883 376.5,883 377.5,883 378.5,883 379.5,883 380.5,883 381.5,883 382.5,883 383.5,883 384.5,883 385.5,883 386.5,883 387.5,883 388.5,883 389.5,883 390.5,883 391.5,883 392.5,883 393.5,883 394.5,883 395.5,882.9 396.5,882.8 397.5,882.7 398.5,882.5 399.5,882.1 400.5,881.6 401.5,880.9 402.5,879.9 403.5,878.8 404.5,877.6 405.5,876.3 406.5,875.1 407.5,874.1 408.5,873.6 409.5,873.4 410.5,873.7 411.5,874.5 412.5,875.5 413.5,876.8 414.5,878.1 415.5,879.3 416.5,880.3 417.5,881.2 418.5,881.8 419.5,882.3 420.5,882.6 421.5,882.8 422.5,882.9 423.5,882.9 424.5,883 425.5,883 426.5,883 427.5,883 428.5,883 429.5,883 430.5,883 431.5,883 432.5,883 433.5,883 434.5,883 435.5,883 436.5,883 437.5,883 438.5,883 439.5,883 440.5,883 441.5,883 442.5,883 443.5,883 444.5,883 445.5,883 446.5,883 447.5,883 448.5,883 449.5,883 450.5,883 451.5,883 452.5,883 453.5,883 454.5,883 455.5,883 456.5,883 457.5,883 458.5,883 459.5,883 460.5,883 461.5,883 462.5,883 463.5,883 464.5,883 465.5,883 466.5,883 467.5,883 468.5,883 469.5,883 470.5,883 471.5,883 472.5,883 473.5,883 474.5,883 475.5,883 476.5,883 477.5,883 478.5,883 479.5,883 480.5,883 481.5,883 482.5,883 483.5,883 484.5,883 485.5,883 486.5,883 487.5,883 488.5,883 489.5,883 490.5,883 491.5,883 492.5,883 493.5,883 494.5,882.9 495.5,882.9 496.5,882.7 497.5,882.6 498.5,882.3 499.5,881.9 500.5,881.4 501.5,880.7 502.5,879.9 503.5,879 504.5,878.1 505.5,877.3 506.5,876.8 507.5,876.4 508.5,876.4 509.5,876.8 510.5,877.3 511.5,878.1 512.5,879 513.5,879.9 514.5,880.7 515.5,881.4 516.5,881.9 517.5,882.3 518.5,882.6 519.5,882.7 520.5,882.9 521.5,882.9 522.5,883 523.5,883 524.5,883 525.5,883 526.5,883 527.5,883 528.5,883 529.5,883 530.5,883 531.5,883 532.5,883 533.5,883 534.5,883 535.5,883 536.5,883 537.5,882.9 538.5,882.8 539.5,882.6 540.5,882.4 541.5,882 542.5,881.4 543.5,880.6 544.5,879.5 545.5,878.2 546.5,876.8 547.5,875.4 548.5,874 549.5,872.9 550.5,872.3 551.5,872.1 552.5,872.5 553.5,873.3 554.5,874.5 555.5,875.9 556.5,877.4 557.5,878.8 558.5,880 559.5,880.9 560.5,881.7 561.5,882.2 562.5,882.5 563.5,882.7 564.5,882.9 565.5,882.9 566.5,883 567.5,883 568.5,883 569.5,883 570.5,883 571.5,883 572.5,883 573.5,883 574.5,883 575.5,883 576.5,883 577.5,883 578.5,883 579.5,883 580.5,883 581.5,883 582.5,883 583.5,883 584.5,883 585.5,883 586.5,883 587.5,883 588.5,883 589.5,883 590.5,883 591.5,883 592.5,883 593.5,883 594.5,883 595.5,883" fill="none" stroke="#3535a8" stroke-width="1.9" stroke-linejoin="round" />
<rect x="47.5" y="945.5" width="548.5" height="7.2" fill="#cbcbcb" stroke="#a8a8a8" stroke-width="0.8"/>
<polyline points="47.5,957.3 50.3,957.3 50.3,952 53,952 53,950.7 57,950.7 57,947.3 59.7,947.3 59.7,954.7 61.7,954.7 61.7,948 65.7,948 65.7,953.3 68.3,953.3 68.3,954 72.3,954 72.3,945.3 74.3,945.3 74.3,942 76.3,942 76.3,946.7 79,946.7 79,951.3 81.7,951.3 81.7,949.3 84.3,949.3 84.3,952 87,952 87,954 89.7,954 89.7,960.7 92.3,960.7 92.3,946.7 94.3,946.7 94.3,951.3 96.3,951.3 96.3,948.7 101.7,948.7 101.7,944 104.3,944 104.3,947.3 107,947.3 107,949.3 111,949.3 111,950.7 113.7,950.7 113.7,952 116.3,952 116.3,954 119,954 119,954.7 121.7,954.7 121.7,949.3 124.3,949.3 124.3,948.7 125,948.7 125,950 127.7,950 127.7,948.7 131,948.7 131,946.7 134.3,946.7 134.3,944.7 136.3,944.7 136.3,946.7 138.3,946.7 138.3,955.3 141.7,955.3 141.7,950.7 145,950.7 145,957.3 147.7,957.3 147.7,946 149.7,946 149.7,954.7 152.3,954.7 152.3,946.7 155.7,946.7 155.7,945.3 158.3,945.3 158.3,946 161.7,946 161.7,942.7 164.3,942.7 164.3,947.3 166.3,947.3 166.3,944 169,944 169,947.3 171,947.3 171,954.7 173.7,954.7 173.7,946.7 176.3,946.7 176.3,946 179,946 179,944 181,944 181,938.7 183.7,938.7 183.7,950 186.3,950 186.3,954 188.3,954 188.3,947.3 191.7,947.3 191.7,946.7 194.3,946.7 194.3,944 197.7,944 197.7,947.3 200.3,947.3 200.3,944.7 203,944.7 203,946 205.7,946 205.7,944.7 208.3,944.7 208.3,948 210.3,948 210.3,951.3 213.7,951.3 213.7,956 216.3,956 216.3,948 219.7,948 219.7,947.3 222.3,947.3 222.3,954 225,954 225,946.7 228.3,946.7 228.3,946 231,946 231,952.7 235,952.7 235,946 238.3,946 238.3,948.7 240.3,948.7 240.3,947.3 242.3,947.3 242.3,956 244.3,956 244.3,949.3 246.3,949.3 246.3,955.3 248.3,955.3 248.3,940.7 250.3,940.7 250.3,950 252.3,950 252.3,946 255,946 255,954.7 257.7,954.7 257.7,944.7 260.3,944.7 260.3,943.3 262.3,943.3 262.3,947.3 264.3,947.3 264.3,942 268.3,942 268.3,946 271,946 271,946.7 273.7,946.7 273.7,948.7 277.7,948.7 277.7,952 281.7,952 281.7,948.7 283,948.7 283,946.7 285.7,946.7 285.7,945.3 288.3,945.3 288.3,947.3 291,947.3 291,950.7 293.7,950.7 293.7,954 296.3,954 296.3,952.7 298.3,952.7 298.3,956.7 300.3,956.7 300.3,960 302.3,960 302.3,954.7 304.3,954.7 304.3,948.7 307,948.7 307,944.7 309,944.7 309,943.3 311.7,943.3 311.7,944 313.7,944 313.7,948.7 316.3,948.7 316.3,945.3 319.7,945.3 319.7,952 321.7,952 321.7,944.7 323.7,944.7 323.7,944 326.3,944 326.3,949.3 328.3,949.3 328.3,955.3 331,955.3 331,948.7 333.7,948.7 333.7,947.3 336.3,947.3 336.3,942 339,942 339,947.3 342.3,947.3 342.3,954.7 345.7,954.7 345.7,944 349,944 349,947.3 351.7,947.3 351.7,954.7 354.3,954.7 354.3,950 357,950 357,947.3 359,947.3 359,946 361,946 361,944 364.3,944 364.3,946 366.3,946 366.3,946.7 369,946.7 369,952 371.7,952 371.7,948 373.7,948 373.7,954 376.3,954 376.3,946 382.3,946 382.3,955.3 385.7,955.3 385.7,946.7 388.3,946.7 388.3,948 391,948 391,955.3 393,955.3 393,951.3 395,951.3 395,948.7 397,948.7 397,953.3 399,953.3 399,944.7 401.7,944.7 401.7,951.3 403.7,951.3 403.7,954 405.7,954 405.7,962.7 407.7,962.7 407.7,951.3 409.7,951.3 409.7,950 412.3,950 412.3,946.7 415,946.7 415,951.3 417.7,951.3 417.7,950.7 420.3,950.7 420.3,960.7 421.7,960.7 421.7,948.7 425,948.7 425,947.3 428.3,947.3 428.3,950 431.7,950 431.7,948 435,948 435,947.3 437,947.3 437,948 439.7,948 439.7,946 442.3,946 442.3,941.3 444.3,941.3 444.3,944.7 447.7,944.7 447.7,947.3 452.3,947.3 452.3,943.3 455,943.3 455,942.7 457.7,942.7 457.7,940 459.7,940 459.7,944 463,944 463,942.7 465.7,942.7 465.7,946.7 468.3,946.7 468.3,948.7 470.3,948.7 470.3,950 472.3,950 472.3,952 474.3,952 474.3,947.3 476.3,947.3 476.3,946 479,946 479,945.3 482.3,945.3 482.3,952 484.3,952 484.3,951.3 487,951.3 487,949.3 489.7,949.3 489.7,946.7 491.7,946.7 491.7,949.3 494.3,949.3 494.3,950.7 496.3,950.7 496.3,954.7 499,954.7 499,951.3 502.3,951.3 502.3,950.7 505,950.7 505,952 508.3,952 508.3,955.3 512.3,955.3 512.3,952.7 514.3,952.7 514.3,949.3 515,949.3 515,949.8 517.7,949.8 517.7,947.8 519.8,947.8 519.8,945.7 522.5,945.7 522.5,947.1 525.9,947.1 525.9,941.6 528,941.6 528,949.1 530,949.1 530,947.1 532.1,947.1 532.1,941.6 534.1,941.6 534.1,939.6 536.9,939.6 536.9,951.2 539.6,951.2 539.6,946.4 541.6,946.4 541.6,948.4 545.1,948.4 545.1,945 547.8,945 547.8,940.9 549.8,940.9 549.8,947.1 553.9,947.1 553.9,941.6 556,941.6 556,939.6 560.1,939.6 560.1,940.9 562.1,940.9 562.1,943 564.9,943 564.9,951.9 567.6,951.9 567.6,950.5 570.3,950.5 570.3,952.5 573.7,952.5 573.7,950.5 577.2,950.5 577.2,951.9 579.9,951.9 579.9,955.3 581.9,955.3 581.9,949.8 585.4,949.8 585.4,943.7 587.4,943.7 587.4,942.3 590.1,942.3 590.1,951.2 591.5,951.2 591.5,949.8 595.3,949.8" fill="none" stroke="#111" stroke-width="1.3" stroke-linejoin="round" stroke-linejoin="miter"/>
</g>
<text x="176.5" y="828.5" font-size="12.5" fill="#c42bc4" font-weight="normal" text-anchor="start" textLength="41.5" lengthAdjust="spacingAndGlyphs" >CH<tspan font-size="8.5" dy="3.5">3</tspan><tspan dy="-3.5">OH</tspan></text>
<text x="177" y="879.2" font-size="13.5" fill="#22229a" font-weight="normal" text-anchor="start" textLength="24.5" lengthAdjust="spacingAndGlyphs" >OH*</text>
<defs>
<clipPath id="clipA"><rect x="50.2" y="48.2" width="544.4" height="396.1"/></clipPath>
<clipPath id="clipB"><rect x="48.2" y="483.2" width="547.1" height="192.6"/></clipPath>
<clipPath id="clipC"><rect x="48.2" y="713.2" width="547.1" height="268.1"/></clipPath>
</defs>
</svg>
</body></html>
